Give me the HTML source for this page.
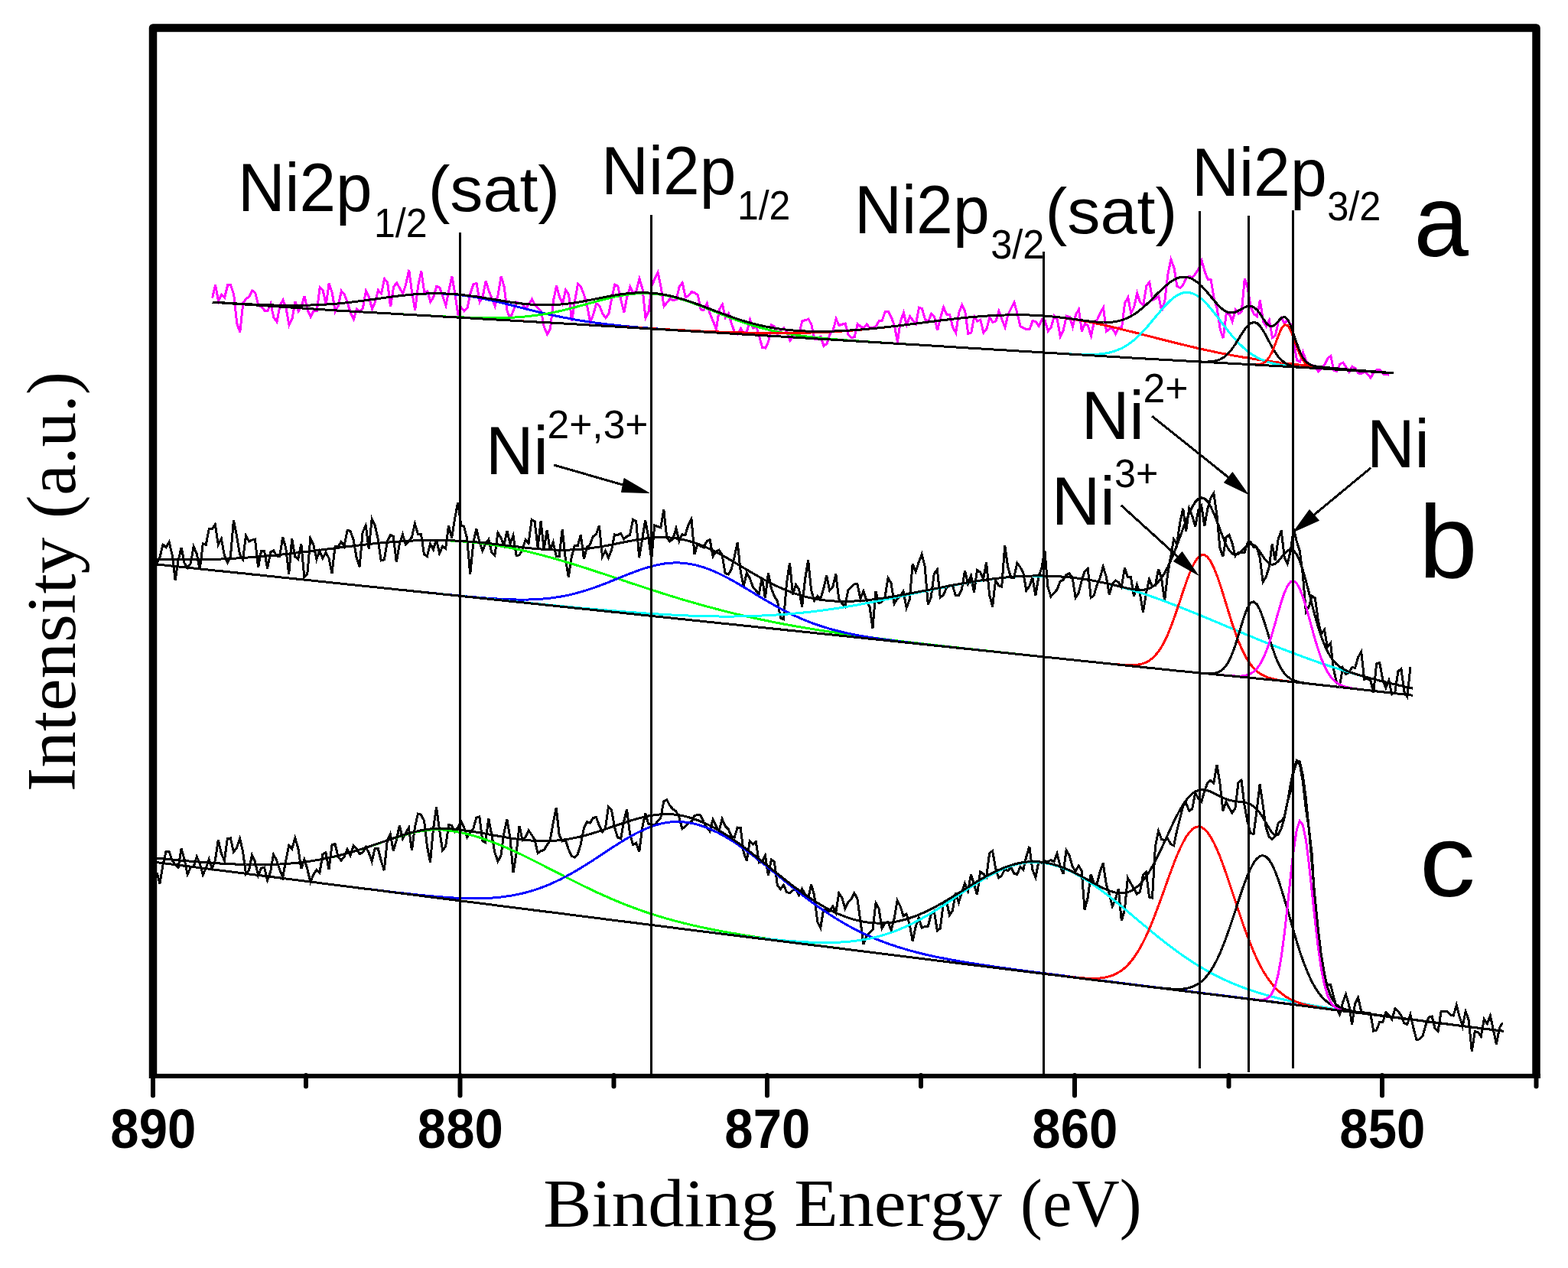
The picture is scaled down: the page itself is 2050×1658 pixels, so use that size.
<!DOCTYPE html>
<html><head><meta charset="utf-8"><style>
html,body{margin:0;padding:0;background:#fff;width:2050px;height:1658px;overflow:hidden}
svg{display:block}
</style></head><body>
<svg width="2050" height="1658" viewBox="0 0 2050 1658">
<rect x="0" y="0" width="2050" height="1658" fill="#fff"/>
<path d="M277.6,389.6 L281.6,372.7 L285.6,394.0 L289.7,385.0 L293.7,389.0 L297.7,372.7 L301.7,372.8 L305.7,385.2 L309.7,422.8 L313.8,434.4 L317.8,396.1 L321.8,390.9 L325.8,387.9 L329.8,380.0 L333.8,383.0 L337.9,399.3 L341.9,401.0 L345.9,406.1 L349.9,406.7 L353.9,397.1 L357.9,415.4 L362.0,420.9 L366.0,399.6 L370.0,392.1 L374.0,403.0 L378.0,425.1 L382.0,416.7 L386.1,394.0 L390.1,407.2 L394.1,400.5 L398.1,387.0 L402.1,405.3 L406.1,414.2 L410.2,405.9 L414.2,406.7 L418.2,376.0 L422.2,379.5 L426.2,398.7 L430.2,370.3 L434.3,383.0 L438.3,407.5 L442.3,399.6 L446.3,380.5 L450.3,385.0 L454.3,395.4 L458.4,409.5 L462.4,417.6 L466.4,404.2 L470.4,407.6 L474.4,402.9 L478.4,380.5 L482.5,388.4 L486.5,404.1 L490.5,395.0 L494.5,379.6 L498.5,383.9 L502.6,364.7 L506.6,369.1 L510.6,401.2 L514.6,375.2 L518.6,369.9 L522.6,376.8 L526.7,384.0 L530.7,371.8 L534.7,352.8 L538.7,382.8 L542.7,405.5 L546.7,373.4 L550.8,354.7 L554.8,382.2 L558.8,380.8 L562.8,394.7 L566.8,388.2 L570.8,374.4 L574.9,376.0 L578.9,387.8 L582.9,399.4 L586.9,379.8 L590.9,361.1 L594.9,384.3 L599.0,412.1 L603.0,402.1 L607.0,406.8 L611.0,402.7 L615.0,383.6 L619.0,371.5 L623.1,370.4 L627.1,394.8 L631.1,388.2 L635.1,367.4 L639.1,380.5 L643.1,390.1 L647.2,400.4 L651.2,385.2 L655.2,361.2 L659.2,375.3 L663.2,407.3 L667.2,415.9 L671.3,405.9 L675.3,395.1 L679.3,396.4 L683.3,397.6 L687.3,403.5 L691.4,398.1 L695.4,391.3 L699.4,398.7 L703.4,403.2 L707.4,406.8 L711.4,427.7 L715.5,437.1 L719.5,430.0 L723.5,393.0 L727.5,373.6 L731.5,388.2 L735.5,397.0 L739.6,379.0 L743.6,385.3 L747.6,420.0 L751.6,393.3 L755.6,371.0 L759.6,375.5 L763.7,385.7 L767.7,400.3 L771.7,421.2 L775.7,411.4 L779.7,396.8 L783.7,399.9 L787.8,409.9 L791.8,415.7 L795.8,410.7 L799.8,390.0 L803.8,372.1 L807.8,374.3 L811.9,392.5 L815.9,408.4 L819.9,387.8 L823.9,375.0 L827.9,383.5 L831.9,380.5 L836.0,364.5 L840.0,377.7 L844.0,415.8 L848.0,407.8 L852.0,374.2 L856.0,364.3 L860.1,356.1 L864.1,375.6 L868.1,400.5 L872.1,395.5 L876.1,390.7 L880.1,392.8 L884.2,391.6 L888.2,374.9 L892.2,369.7 L896.2,388.7 L900.2,386.5 L904.3,381.7 L908.3,382.8 L912.3,385.9 L916.3,404.8 L920.3,405.5 L924.3,396.7 L928.4,410.7 L932.4,420.2 L936.4,430.4 L940.4,404.7 L944.4,398.0 L948.4,415.2 L952.5,409.7 L956.5,423.8 L960.5,434.1 L964.5,437.2 L968.5,429.6 L972.5,436.1 L976.6,433.1 L980.6,418.2 L984.6,429.1 L988.6,426.4 L992.6,439.5 L996.6,454.3 L1000.7,455.2 L1004.7,446.6 L1008.7,424.8 L1012.7,427.2 L1016.7,437.5 L1020.7,431.5 L1024.8,429.0 L1028.8,434.4 L1032.8,445.3 L1036.8,440.2 L1040.8,435.6 L1044.8,436.0 L1048.9,419.2 L1052.9,418.9 L1056.9,417.1 L1060.9,424.4 L1064.9,443.3 L1068.9,443.5 L1073.0,440.1 L1077.0,452.4 L1081.0,449.4 L1085.0,437.1 L1089.0,432.4 L1093.1,417.0 L1097.1,425.6 L1101.1,424.1 L1105.1,423.0 L1109.1,437.6 L1113.1,441.4 L1117.2,440.7 L1121.2,423.6 L1125.2,427.0 L1129.2,428.9 L1133.2,423.9 L1137.2,428.7 L1141.3,428.7 L1145.3,426.3 L1149.3,419.8 L1153.3,419.4 L1157.3,407.4 L1161.3,407.2 L1165.4,415.0 L1169.4,425.8 L1173.4,447.3 L1177.4,419.5 L1181.4,408.9 L1185.4,424.8 L1189.5,413.5 L1193.5,418.9 L1197.5,423.7 L1201.5,402.3 L1205.5,403.5 L1209.5,417.8 L1213.6,420.7 L1217.6,410.2 L1221.6,414.3 L1225.6,432.1 L1229.6,415.2 L1233.6,401.7 L1237.7,411.2 L1241.7,411.5 L1245.7,428.3 L1249.7,435.2 L1253.7,408.7 L1257.7,398.8 L1261.8,407.4 L1265.8,436.4 L1269.8,434.9 L1273.8,413.8 L1277.8,420.1 L1281.8,418.2 L1285.9,435.0 L1289.9,430.0 L1293.9,414.9 L1297.9,421.4 L1301.9,420.0 L1306.0,406.8 L1310.0,417.8 L1314.0,428.0 L1318.0,411.0 L1322.0,403.0 L1326.0,395.6 L1330.1,410.1 L1334.1,426.9 L1338.1,428.7 L1342.1,431.0 L1346.1,430.7 L1350.1,419.4 L1354.2,420.8 L1358.2,426.4 L1362.2,417.6 L1366.2,419.1 L1370.2,432.8 L1374.2,428.4 L1378.3,413.0 L1382.3,418.0 L1386.3,440.0 L1390.3,431.6 L1394.3,413.1 L1398.3,414.4 L1402.4,427.3 L1406.4,411.9 L1410.4,404.4 L1414.4,433.3 L1418.4,422.8 L1422.4,426.1 L1426.5,439.1 L1430.5,420.7 L1434.5,418.0 L1438.5,409.2 L1442.5,402.3 L1446.5,433.2 L1450.6,430.0 L1454.6,429.9 L1458.6,436.8 L1462.6,428.2 L1466.6,428.3 L1470.6,396.5 L1474.7,388.7 L1478.7,409.7 L1482.7,401.6 L1486.7,383.5 L1490.7,395.3 L1494.8,398.9 L1498.8,373.7 L1502.8,369.0 L1506.8,392.3 L1510.8,390.6 L1514.8,387.5 L1518.9,406.5 L1522.9,392.8 L1526.9,358.4 L1530.9,339.4 L1534.9,349.8 L1538.9,374.2 L1543.0,376.5 L1547.0,372.0 L1551.0,363.5 L1555.0,361.4 L1559.0,362.8 L1563.0,357.8 L1567.1,351.4 L1571.1,340.9 L1575.1,355.0 L1579.1,365.3 L1583.1,365.3 L1587.1,389.7 L1591.2,403.3 L1595.2,430.4 L1599.2,442.2 L1603.2,410.5 L1607.2,410.3 L1611.2,420.2 L1615.3,404.8 L1619.3,410.4 L1623.3,407.3 L1627.3,364.1 L1631.3,377.1 L1635.3,402.1 L1639.4,410.7 L1643.4,413.6 L1647.4,392.4 L1651.4,420.1 L1655.4,426.7 L1659.4,418.4 L1663.5,441.5 L1667.5,438.4 L1671.5,420.0 L1675.5,415.6 L1679.5,423.2 L1683.5,418.1 L1687.6,424.4 L1691.6,447.4 L1695.6,471.1 L1699.6,473.2 L1703.6,460.7 L1707.7,472.2 L1711.7,477.9 L1715.7,477.4 L1719.7,480.9 L1723.7,485.6 L1727.7,482.3 L1731.8,476.9 L1735.8,468.7 L1739.8,465.6 L1743.8,484.3 L1747.8,485.6 L1751.8,476.1 L1755.9,474.2 L1759.9,480.1 L1763.9,486.4 L1767.9,479.3 L1771.9,481.7 L1775.9,488.0 L1780.0,488.7 L1784.0,485.3 L1788.0,489.5 L1792.0,494.0 L1796.0,486.9 L1800.0,483.6 L1804.1,483.5 L1808.1,489.0 L1812.1,489.2 L1816.1,490.3" fill="none" stroke="#ff00ff" stroke-width="3" shape-rendering="crispEdges"/>
<path d="M277.6,395.1 L281.6,395.3 L285.6,395.6 L289.7,395.8 L293.7,396.0 L297.7,396.3 L301.7,396.5 L305.7,396.7 L309.7,397.0 L313.8,397.2 L317.8,397.4 L321.8,397.6 L325.8,397.8 L329.8,398.0 L333.8,398.2 L337.9,398.3 L341.9,398.5 L345.9,398.6 L349.9,398.8 L353.9,398.9 L357.9,399.0 L362.0,399.1 L366.0,399.2 L370.0,399.3 L374.0,399.3 L378.0,399.4 L382.0,399.4 L386.1,399.4 L390.1,399.3 L394.1,399.3 L398.1,399.2 L402.1,399.1 L406.1,399.0 L410.2,398.9 L414.2,398.7 L418.2,398.5 L422.2,398.3 L426.2,398.1 L430.2,397.8 L434.3,397.6 L438.3,397.2 L442.3,396.9 L446.3,396.5 L450.3,396.1 L454.3,395.6 L458.4,395.2 L462.4,394.7 L466.4,394.2 L470.4,393.7 L474.4,393.2 L478.4,392.6 L482.5,392.1 L486.5,391.5 L490.5,391.0 L494.5,390.4 L498.5,389.9 L502.6,389.3 L506.6,388.8 L510.6,388.3 L514.6,387.8 L518.6,387.3 L522.6,386.8 L526.7,386.3 L530.7,385.9 L534.7,385.5 L538.7,385.2 L542.7,384.8 L546.7,384.6 L550.8,384.3 L554.8,384.1 L558.8,384.0 L562.8,383.9 L566.8,383.8 L570.8,383.8 L574.9,383.9 L578.9,384.0 L582.9,384.2 L586.9,384.4 L590.9,384.7 L594.9,385.1 L599.0,385.4 L603.0,385.9 L607.0,386.4 L611.0,387.0 L615.0,387.6 L619.0,388.2 L623.1,388.9 L627.1,389.6 L631.1,390.4 L635.1,391.2 L639.1,392.1 L643.1,393.0 L647.2,393.9 L651.2,394.8 L655.2,395.8 L659.2,396.7 L663.2,397.7 L667.2,398.7 L671.3,399.7 L675.3,400.8 L679.3,401.8 L683.3,402.8 L687.3,403.8 L691.4,404.8 L695.4,405.8 L699.4,406.8 L703.4,407.8 L707.4,408.7 L711.4,409.7 L715.5,410.6 L719.5,411.5 L723.5,412.4 L727.5,413.2 L731.5,414.0 L735.5,414.9 L739.6,415.6 L743.6,416.4 L747.6,417.1 L751.6,417.9 L755.6,418.6 L759.6,419.2 L763.7,419.9 L767.7,420.5 L771.7,421.1 L775.7,421.7 L779.7,422.2 L783.7,422.8 L787.8,423.3 L791.8,423.8 L795.8,424.2 L799.8,424.7 L803.8,425.1 L807.8,425.6 L811.9,426.0 L815.9,426.4 L819.9,426.8 L823.9,427.1 L827.9,427.5 L831.9,427.8 L836.0,428.2 L840.0,428.5 L844.0,428.8 L848.0,429.1 L852.0,429.4 L856.0,429.7 L860.1,430.0 L864.1,430.3 L868.1,430.6 L872.1,430.9 L876.1,431.1 L880.1,431.4 L884.2,431.7 L888.2,431.9 L892.2,432.2 L896.2,432.5 L900.2,432.7 L904.3,433.0 L908.3,433.2 L912.3,433.5 L916.3,433.7 L920.3,434.0 L924.3,434.2 L928.4,434.5 L932.4,434.7 L936.4,435.0 L940.4,435.2 L944.4,435.4 L948.4,435.7 L952.5,435.9 L956.5,436.2 L960.5,436.4 L964.5,436.7 L968.5,436.9 L972.5,437.1 L976.6,437.4 L980.6,437.6 L984.6,437.9 L988.6,438.1 L992.6,438.4 L996.6,438.6 L1000.7,438.8 L1004.7,439.1 L1008.7,439.3 L1012.7,439.6 L1016.7,439.8 L1020.7,440.0 L1024.8,440.3 L1028.8,440.5 L1032.8,440.8 L1036.8,441.0 L1040.8,441.3 L1044.8,441.5 L1048.9,441.7 L1052.9,442.0 L1056.9,442.2 L1060.9,442.5 L1064.9,442.7 L1068.9,443.0 L1073.0,443.2 L1077.0,443.5 L1081.0,443.7 L1085.0,443.9 L1089.0,444.2 L1093.1,444.4 L1097.1,444.7 L1101.1,444.9 L1105.1,445.2 L1109.1,445.4 L1113.1,445.7 L1117.2,445.9 L1121.2,446.1 L1125.2,446.4 L1129.2,446.6 L1133.2,446.9 L1137.2,447.1 L1141.3,447.4 L1145.3,447.6 L1149.3,447.9 L1153.3,448.1 L1157.3,448.3 L1161.3,448.6 L1165.4,448.8 L1169.4,449.1 L1173.4,449.3 L1177.4,449.6 L1181.4,449.8 L1185.4,450.1 L1189.5,450.3 L1193.5,450.5 L1197.5,450.8 L1201.5,451.0 L1205.5,451.3 L1209.5,451.5 L1213.6,451.8 L1217.6,452.0 L1221.6,452.3 L1225.6,452.5 L1229.6,452.8 L1233.6,453.0 L1237.7,453.2 L1241.7,453.5 L1245.7,453.7 L1249.7,454.0 L1253.7,454.2 L1257.7,454.5 L1261.8,454.7 L1265.8,455.0 L1269.8,455.2 L1273.8,455.4 L1277.8,455.7 L1281.8,455.9 L1285.9,456.2 L1289.9,456.4 L1293.9,456.7 L1297.9,456.9 L1301.9,457.2 L1306.0,457.4 L1310.0,457.6 L1314.0,457.9 L1318.0,458.1 L1322.0,458.4 L1326.0,458.6 L1330.1,458.9 L1334.1,459.1 L1338.1,459.4 L1342.1,459.6 L1346.1,459.8 L1350.1,460.1 L1354.2,460.3 L1358.2,460.6 L1362.2,460.8 L1366.2,461.1 L1370.2,461.3 L1374.2,461.6 L1378.3,461.8 L1382.3,462.0 L1386.3,462.3 L1390.3,462.5 L1394.3,462.8 L1398.3,463.0 L1402.4,463.3 L1406.4,463.5 L1410.4,463.8 L1414.4,464.0 L1418.4,464.2 L1422.4,464.5 L1426.5,464.7 L1430.5,465.0 L1434.5,465.2 L1438.5,465.5 L1442.5,465.7 L1446.5,466.0 L1450.6,466.2 L1454.6,466.5 L1458.6,466.7 L1462.6,466.9 L1466.6,467.2 L1470.6,467.4 L1474.7,467.7 L1478.7,467.9 L1482.7,468.2 L1486.7,468.4 L1490.7,468.6 L1494.8,468.8 L1498.8,469.1 L1502.8,469.3 L1506.8,469.5 L1510.8,469.7 L1514.8,470.0 L1518.9,470.2 L1522.9,470.4 L1526.9,470.6 L1530.9,470.9 L1534.9,471.1 L1538.9,471.3 L1543.0,471.5 L1547.0,471.8 L1551.0,472.0 L1555.0,472.2 L1559.0,472.4 L1563.0,472.7 L1567.1,472.9 L1571.1,473.1 L1575.1,473.3 L1579.1,473.6 L1583.1,473.8 L1587.1,474.0 L1591.2,474.2 L1595.2,474.4 L1599.2,474.7 L1603.2,474.9 L1607.2,475.1 L1611.2,475.3 L1615.3,475.6 L1619.3,475.8 L1623.3,476.0 L1627.3,476.2 L1631.3,476.5 L1635.3,476.7 L1639.4,476.9 L1643.4,477.1 L1647.4,477.4 L1651.4,477.6 L1655.4,477.8 L1659.4,478.0 L1663.5,478.3 L1667.5,478.5 L1671.5,478.7 L1675.5,478.9 L1679.5,479.2 L1683.5,479.4 L1687.6,479.6 L1691.6,479.8 L1695.6,480.1 L1699.6,480.3 L1703.6,480.5 L1707.7,480.7 L1711.7,481.0 L1715.7,481.2 L1719.7,481.4 L1723.7,481.6 L1727.7,481.9 L1731.8,482.1 L1735.8,482.4 L1739.8,482.6 L1743.8,482.9 L1747.8,483.2 L1751.8,483.4 L1755.9,483.7 L1759.9,483.9 L1763.9,484.2 L1767.9,484.5 L1771.9,484.7 L1775.9,485.0 L1780.0,485.3 L1784.0,485.5 L1788.0,485.8 L1792.0,486.0 L1796.0,486.3 L1800.0,486.6 L1804.1,486.8 L1808.1,487.1 L1812.1,487.4 L1816.1,487.6 L1820.1,487.9 L1822.0,488.0" fill="none" stroke="#0000ff" stroke-width="3" shape-rendering="crispEdges"/>
<path d="M277.6,395.2 L281.6,395.5 L285.6,395.7 L289.7,396.0 L293.7,396.3 L297.7,396.5 L301.7,396.8 L305.7,397.1 L309.7,397.3 L313.8,397.6 L317.8,397.9 L321.8,398.1 L325.8,398.4 L329.8,398.7 L333.8,398.9 L337.9,399.2 L341.9,399.5 L345.9,399.7 L349.9,400.0 L353.9,400.3 L357.9,400.5 L362.0,400.8 L366.0,401.1 L370.0,401.3 L374.0,401.6 L378.0,401.9 L382.0,402.1 L386.1,402.4 L390.1,402.7 L394.1,402.9 L398.1,403.2 L402.1,403.5 L406.1,403.7 L410.2,404.0 L414.2,404.3 L418.2,404.5 L422.2,404.8 L426.2,405.1 L430.2,405.4 L434.3,405.6 L438.3,405.9 L442.3,406.1 L446.3,406.4 L450.3,406.6 L454.3,406.8 L458.4,407.1 L462.4,407.3 L466.4,407.5 L470.4,407.7 L474.4,408.0 L478.4,408.2 L482.5,408.4 L486.5,408.7 L490.5,408.9 L494.5,409.1 L498.5,409.4 L502.6,409.6 L506.6,409.8 L510.6,410.0 L514.6,410.3 L518.6,410.5 L522.6,410.7 L526.7,410.9 L530.7,411.2 L534.7,411.4 L538.7,411.6 L542.7,411.9 L546.7,412.1 L550.8,412.3 L554.8,412.5 L558.8,412.7 L562.8,412.9 L566.8,413.2 L570.8,413.4 L574.9,413.6 L578.9,413.8 L582.9,414.0 L586.9,414.2 L590.9,414.4 L594.9,414.5 L599.0,414.7 L603.0,414.9 L607.0,415.0 L611.0,415.2 L615.0,415.3 L619.0,415.4 L623.1,415.5 L627.1,415.6 L631.1,415.7 L635.1,415.7 L639.1,415.8 L643.1,415.8 L647.2,415.8 L651.2,415.7 L655.2,415.7 L659.2,415.6 L663.2,415.5 L667.2,415.3 L671.3,415.1 L675.3,414.9 L679.3,414.6 L683.3,414.3 L687.3,413.9 L691.4,413.5 L695.4,413.0 L699.4,412.5 L703.4,412.0 L707.4,411.4 L711.4,410.8 L715.5,410.1 L719.5,409.3 L723.5,408.5 L727.5,407.7 L731.5,406.8 L735.5,405.9 L739.6,404.9 L743.6,403.9 L747.6,402.9 L751.6,401.8 L755.6,400.7 L759.6,399.6 L763.7,398.5 L767.7,397.4 L771.7,396.3 L775.7,395.2 L779.7,394.1 L783.7,393.0 L787.8,391.9 L791.8,390.9 L795.8,389.9 L799.8,388.9 L803.8,388.0 L807.8,387.2 L811.9,386.5 L815.9,385.8 L819.9,385.2 L823.9,384.7 L827.9,384.3 L831.9,383.9 L836.0,383.7 L840.0,383.6 L844.0,383.6 L848.0,383.7 L852.0,383.9 L856.0,384.2 L860.1,384.7 L864.1,385.2 L868.1,385.9 L872.1,386.6 L876.1,387.5 L880.1,388.4 L884.2,389.5 L888.2,390.6 L892.2,391.8 L896.2,393.1 L900.2,394.4 L904.3,395.8 L908.3,397.3 L912.3,398.7 L916.3,400.3 L920.3,401.8 L924.3,403.4 L928.4,405.0 L932.4,406.6 L936.4,408.2 L940.4,409.8 L944.4,411.4 L948.4,413.0 L952.5,414.6 L956.5,416.1 L960.5,417.6 L964.5,419.0 L968.5,420.4 L972.5,421.8 L976.6,423.1 L980.6,424.4 L984.6,425.7 L988.6,426.9 L992.6,428.0 L996.6,429.1 L1000.7,430.1 L1004.7,431.1 L1008.7,432.1 L1012.7,433.0 L1016.7,433.8 L1020.7,434.6 L1024.8,435.4 L1028.8,436.1 L1032.8,436.8 L1036.8,437.5 L1040.8,438.1 L1044.8,438.7 L1048.9,439.2 L1052.9,439.8 L1056.9,440.3 L1060.9,440.7 L1064.9,441.2 L1068.9,441.6 L1073.0,442.0 L1077.0,442.4 L1081.0,442.8 L1085.0,443.2 L1089.0,443.5 L1093.1,443.8 L1097.1,444.2 L1101.1,444.5 L1105.1,444.8 L1109.1,445.1 L1113.1,445.4 L1117.2,445.7 L1121.2,445.9 L1125.2,446.2 L1129.2,446.5 L1133.2,446.8 L1137.2,447.0 L1141.3,447.3 L1145.3,447.5 L1149.3,447.8 L1153.3,448.0 L1157.3,448.3 L1161.3,448.6 L1165.4,448.8 L1169.4,449.1 L1173.4,449.3 L1177.4,449.6 L1181.4,449.8 L1185.4,450.0 L1189.5,450.3 L1193.5,450.5 L1197.5,450.8 L1201.5,451.0 L1205.5,451.3 L1209.5,451.5 L1213.6,451.8 L1217.6,452.0 L1221.6,452.3 L1225.6,452.5 L1229.6,452.7 L1233.6,453.0 L1237.7,453.2 L1241.7,453.5 L1245.7,453.7 L1249.7,454.0 L1253.7,454.2 L1257.7,454.5 L1261.8,454.7 L1265.8,455.0 L1269.8,455.2 L1273.8,455.4 L1277.8,455.7 L1281.8,455.9 L1285.9,456.2 L1289.9,456.4 L1293.9,456.7 L1297.9,456.9 L1301.9,457.2 L1306.0,457.4 L1310.0,457.6 L1314.0,457.9 L1318.0,458.1 L1322.0,458.4 L1326.0,458.6 L1330.1,458.9 L1334.1,459.1 L1338.1,459.4 L1342.1,459.6 L1346.1,459.8 L1350.1,460.1 L1354.2,460.3 L1358.2,460.6 L1362.2,460.8 L1366.2,461.1 L1370.2,461.3 L1374.2,461.6 L1378.3,461.8 L1382.3,462.0 L1386.3,462.3 L1390.3,462.5 L1394.3,462.8 L1398.3,463.0 L1402.4,463.3 L1406.4,463.5 L1410.4,463.8 L1414.4,464.0 L1418.4,464.2 L1422.4,464.5 L1426.5,464.7 L1430.5,465.0 L1434.5,465.2 L1438.5,465.5 L1442.5,465.7 L1446.5,466.0 L1450.6,466.2 L1454.6,466.5 L1458.6,466.7 L1462.6,466.9 L1466.6,467.2 L1470.6,467.4 L1474.7,467.7 L1478.7,467.9 L1482.7,468.2 L1486.7,468.4 L1490.7,468.6 L1494.8,468.8 L1498.8,469.1 L1502.8,469.3 L1506.8,469.5 L1510.8,469.7 L1514.8,470.0 L1518.9,470.2 L1522.9,470.4 L1526.9,470.6 L1530.9,470.9 L1534.9,471.1 L1538.9,471.3 L1543.0,471.5 L1547.0,471.8 L1551.0,472.0 L1555.0,472.2 L1559.0,472.4 L1563.0,472.7 L1567.1,472.9 L1571.1,473.1 L1575.1,473.3 L1579.1,473.6 L1583.1,473.8 L1587.1,474.0 L1591.2,474.2 L1595.2,474.4 L1599.2,474.7 L1603.2,474.9 L1607.2,475.1 L1611.2,475.3 L1615.3,475.6 L1619.3,475.8 L1623.3,476.0 L1627.3,476.2 L1631.3,476.5 L1635.3,476.7 L1639.4,476.9 L1643.4,477.1 L1647.4,477.4 L1651.4,477.6 L1655.4,477.8 L1659.4,478.0 L1663.5,478.3 L1667.5,478.5 L1671.5,478.7 L1675.5,478.9 L1679.5,479.2 L1683.5,479.4 L1687.6,479.6 L1691.6,479.8 L1695.6,480.1 L1699.6,480.3 L1703.6,480.5 L1707.7,480.7 L1711.7,481.0 L1715.7,481.2 L1719.7,481.4 L1723.7,481.6 L1727.7,481.9 L1731.8,482.1 L1735.8,482.4 L1739.8,482.6 L1743.8,482.9 L1747.8,483.2 L1751.8,483.4 L1755.9,483.7 L1759.9,483.9 L1763.9,484.2 L1767.9,484.5 L1771.9,484.7 L1775.9,485.0 L1780.0,485.3 L1784.0,485.5 L1788.0,485.8 L1792.0,486.0 L1796.0,486.3 L1800.0,486.6 L1804.1,486.8 L1808.1,487.1 L1812.1,487.4 L1816.1,487.6 L1820.1,487.9 L1822.0,488.0" fill="none" stroke="#00ff00" stroke-width="3" shape-rendering="crispEdges"/>
<path d="M277.6,395.2 L281.6,395.5 L285.6,395.7 L289.7,396.0 L293.7,396.3 L297.7,396.5 L301.7,396.8 L305.7,397.1 L309.7,397.3 L313.8,397.6 L317.8,397.9 L321.8,398.1 L325.8,398.4 L329.8,398.7 L333.8,398.9 L337.9,399.2 L341.9,399.5 L345.9,399.7 L349.9,400.0 L353.9,400.3 L357.9,400.5 L362.0,400.8 L366.0,401.1 L370.0,401.3 L374.0,401.6 L378.0,401.9 L382.0,402.1 L386.1,402.4 L390.1,402.7 L394.1,402.9 L398.1,403.2 L402.1,403.5 L406.1,403.7 L410.2,404.0 L414.2,404.3 L418.2,404.5 L422.2,404.8 L426.2,405.1 L430.2,405.4 L434.3,405.6 L438.3,405.9 L442.3,406.1 L446.3,406.4 L450.3,406.6 L454.3,406.8 L458.4,407.1 L462.4,407.3 L466.4,407.5 L470.4,407.7 L474.4,408.0 L478.4,408.2 L482.5,408.4 L486.5,408.7 L490.5,408.9 L494.5,409.1 L498.5,409.4 L502.6,409.6 L506.6,409.8 L510.6,410.0 L514.6,410.3 L518.6,410.5 L522.6,410.7 L526.7,411.0 L530.7,411.2 L534.7,411.4 L538.7,411.7 L542.7,411.9 L546.7,412.1 L550.8,412.3 L554.8,412.6 L558.8,412.8 L562.8,413.0 L566.8,413.3 L570.8,413.5 L574.9,413.7 L578.9,414.0 L582.9,414.2 L586.9,414.4 L590.9,414.7 L594.9,414.9 L599.0,415.1 L603.0,415.3 L607.0,415.6 L611.0,415.8 L615.0,416.0 L619.0,416.3 L623.1,416.5 L627.1,416.7 L631.1,417.0 L635.1,417.2 L639.1,417.4 L643.1,417.6 L647.2,417.9 L651.2,418.1 L655.2,418.3 L659.2,418.6 L663.2,418.8 L667.2,419.0 L671.3,419.3 L675.3,419.5 L679.3,419.7 L683.3,419.9 L687.3,420.2 L691.4,420.4 L695.4,420.6 L699.4,420.9 L703.4,421.1 L707.4,421.3 L711.4,421.6 L715.5,421.8 L719.5,422.0 L723.5,422.2 L727.5,422.5 L731.5,422.7 L735.5,422.9 L739.6,423.2 L743.6,423.4 L747.6,423.6 L751.6,423.9 L755.6,424.1 L759.6,424.4 L763.7,424.6 L767.7,424.8 L771.7,425.1 L775.7,425.3 L779.7,425.5 L783.7,425.8 L787.8,426.0 L791.8,426.2 L795.8,426.5 L799.8,426.7 L803.8,427.0 L807.8,427.2 L811.9,427.4 L815.9,427.7 L819.9,427.9 L823.9,428.1 L827.9,428.3 L831.9,428.6 L836.0,428.8 L840.0,429.0 L844.0,429.3 L848.0,429.5 L852.0,429.7 L856.0,429.9 L860.1,430.1 L864.1,430.4 L868.1,430.6 L872.1,430.8 L876.1,431.0 L880.1,431.2 L884.2,431.4 L888.2,431.6 L892.2,431.8 L896.2,432.0 L900.2,432.2 L904.3,432.4 L908.3,432.6 L912.3,432.8 L916.3,433.0 L920.3,433.2 L924.3,433.3 L928.4,433.5 L932.4,433.7 L936.4,433.8 L940.4,434.0 L944.4,434.1 L948.4,434.3 L952.5,434.4 L956.5,434.6 L960.5,434.7 L964.5,434.8 L968.5,434.9 L972.5,435.0 L976.6,435.1 L980.6,435.2 L984.6,435.3 L988.6,435.4 L992.6,435.5 L996.6,435.5 L1000.7,435.6 L1004.7,435.6 L1008.7,435.6 L1012.7,435.7 L1016.7,435.7 L1020.7,435.7 L1024.8,435.7 L1028.8,435.6 L1032.8,435.6 L1036.8,435.5 L1040.8,435.5 L1044.8,435.4 L1048.9,435.3 L1052.9,435.2 L1056.9,435.1 L1060.9,435.0 L1064.9,434.9 L1068.9,434.7 L1073.0,434.6 L1077.0,434.4 L1081.0,434.2 L1085.0,434.0 L1089.0,433.8 L1093.1,433.5 L1097.1,433.3 L1101.1,433.0 L1105.1,432.7 L1109.1,432.5 L1113.1,432.2 L1117.2,431.8 L1121.2,431.5 L1125.2,431.2 L1129.2,430.8 L1133.2,430.4 L1137.2,430.0 L1141.3,429.6 L1145.3,429.2 L1149.3,428.8 L1153.3,428.4 L1157.3,427.9 L1161.3,427.5 L1165.4,427.0 L1169.4,426.5 L1173.4,426.1 L1177.4,425.6 L1181.4,425.1 L1185.4,424.6 L1189.5,424.1 L1193.5,423.6 L1197.5,423.1 L1201.5,422.6 L1205.5,422.1 L1209.5,421.6 L1213.6,421.1 L1217.6,420.5 L1221.6,420.0 L1225.6,419.5 L1229.6,419.1 L1233.6,418.6 L1237.7,418.1 L1241.7,417.6 L1245.7,417.2 L1249.7,416.7 L1253.7,416.3 L1257.7,415.8 L1261.8,415.4 L1265.8,415.0 L1269.8,414.7 L1273.8,414.3 L1277.8,414.0 L1281.8,413.7 L1285.9,413.4 L1289.9,413.1 L1293.9,412.8 L1297.9,412.6 L1301.9,412.4 L1306.0,412.2 L1310.0,412.1 L1314.0,412.0 L1318.0,411.9 L1322.0,411.8 L1326.0,411.8 L1330.1,411.8 L1334.1,411.8 L1338.1,411.8 L1342.1,411.9 L1346.1,412.0 L1350.1,412.2 L1354.2,412.4 L1358.2,412.6 L1362.2,412.8 L1366.2,413.1 L1370.2,413.4 L1374.2,413.8 L1378.3,414.2 L1382.3,414.6 L1386.3,415.1 L1390.3,415.6 L1394.3,416.1 L1398.3,416.7 L1402.4,417.3 L1406.4,417.9 L1410.4,418.6 L1414.4,419.3 L1418.4,420.0 L1422.4,420.7 L1426.5,421.5 L1430.5,422.3 L1434.5,423.2 L1438.5,424.0 L1442.5,424.9 L1446.5,425.8 L1450.6,426.7 L1454.6,427.7 L1458.6,428.6 L1462.6,429.6 L1466.6,430.6 L1470.6,431.6 L1474.7,432.6 L1478.7,433.6 L1482.7,434.6 L1486.7,435.6 L1490.7,436.6 L1494.8,437.7 L1498.8,438.7 L1502.8,439.7 L1506.8,440.7 L1510.8,441.8 L1514.8,442.8 L1518.9,443.8 L1522.9,444.9 L1526.9,445.9 L1530.9,446.9 L1534.9,447.9 L1538.9,448.9 L1543.0,449.9 L1547.0,450.8 L1551.0,451.8 L1555.0,452.8 L1559.0,453.7 L1563.0,454.6 L1567.1,455.6 L1571.1,456.5 L1575.1,457.4 L1579.1,458.2 L1583.1,459.1 L1587.1,459.9 L1591.2,460.8 L1595.2,461.6 L1599.2,462.4 L1603.2,463.1 L1607.2,463.9 L1611.2,464.7 L1615.3,465.4 L1619.3,466.1 L1623.3,466.8 L1627.3,467.5 L1631.3,468.1 L1635.3,468.8 L1639.4,469.4 L1643.4,470.0 L1647.4,470.6 L1651.4,471.2 L1655.4,471.8 L1659.4,472.4 L1663.5,472.9 L1667.5,473.4 L1671.5,473.9 L1675.5,474.5 L1679.5,474.9 L1683.5,475.4 L1687.6,475.9 L1691.6,476.3 L1695.6,476.8 L1699.6,477.2 L1703.6,477.6 L1707.7,478.0 L1711.7,478.4 L1715.7,478.8 L1719.7,479.2 L1723.7,479.6 L1727.7,479.9 L1731.8,480.3 L1735.8,480.7 L1739.8,481.1 L1743.8,481.5 L1747.8,481.8 L1751.8,482.2 L1755.9,482.5 L1759.9,482.9 L1763.9,483.2 L1767.9,483.6 L1771.9,483.9 L1775.9,484.2 L1780.0,484.5 L1784.0,484.9 L1788.0,485.2 L1792.0,485.5 L1796.0,485.8 L1800.0,486.1 L1804.1,486.4 L1808.1,486.7 L1812.1,487.0 L1816.1,487.3 L1820.1,487.6 L1822.0,487.7" fill="none" stroke="#ff0000" stroke-width="3" shape-rendering="crispEdges"/>
<path d="M277.6,395.2 L281.6,395.5 L285.6,395.7 L289.7,396.0 L293.7,396.3 L297.7,396.5 L301.7,396.8 L305.7,397.1 L309.7,397.3 L313.8,397.6 L317.8,397.9 L321.8,398.1 L325.8,398.4 L329.8,398.7 L333.8,398.9 L337.9,399.2 L341.9,399.5 L345.9,399.7 L349.9,400.0 L353.9,400.3 L357.9,400.5 L362.0,400.8 L366.0,401.1 L370.0,401.3 L374.0,401.6 L378.0,401.9 L382.0,402.1 L386.1,402.4 L390.1,402.7 L394.1,402.9 L398.1,403.2 L402.1,403.5 L406.1,403.7 L410.2,404.0 L414.2,404.3 L418.2,404.5 L422.2,404.8 L426.2,405.1 L430.2,405.4 L434.3,405.6 L438.3,405.9 L442.3,406.1 L446.3,406.4 L450.3,406.6 L454.3,406.8 L458.4,407.1 L462.4,407.3 L466.4,407.5 L470.4,407.7 L474.4,408.0 L478.4,408.2 L482.5,408.4 L486.5,408.7 L490.5,408.9 L494.5,409.1 L498.5,409.4 L502.6,409.6 L506.6,409.8 L510.6,410.0 L514.6,410.3 L518.6,410.5 L522.6,410.7 L526.7,411.0 L530.7,411.2 L534.7,411.4 L538.7,411.7 L542.7,411.9 L546.7,412.1 L550.8,412.4 L554.8,412.6 L558.8,412.8 L562.8,413.0 L566.8,413.3 L570.8,413.5 L574.9,413.7 L578.9,414.0 L582.9,414.2 L586.9,414.4 L590.9,414.7 L594.9,414.9 L599.0,415.1 L603.0,415.3 L607.0,415.6 L611.0,415.8 L615.0,416.0 L619.0,416.3 L623.1,416.5 L627.1,416.7 L631.1,417.0 L635.1,417.2 L639.1,417.4 L643.1,417.6 L647.2,417.9 L651.2,418.1 L655.2,418.3 L659.2,418.6 L663.2,418.8 L667.2,419.0 L671.3,419.3 L675.3,419.5 L679.3,419.7 L683.3,420.0 L687.3,420.2 L691.4,420.4 L695.4,420.6 L699.4,420.9 L703.4,421.1 L707.4,421.3 L711.4,421.6 L715.5,421.8 L719.5,422.0 L723.5,422.3 L727.5,422.5 L731.5,422.7 L735.5,422.9 L739.6,423.2 L743.6,423.4 L747.6,423.7 L751.6,423.9 L755.6,424.1 L759.6,424.4 L763.7,424.6 L767.7,424.9 L771.7,425.1 L775.7,425.3 L779.7,425.6 L783.7,425.8 L787.8,426.1 L791.8,426.3 L795.8,426.5 L799.8,426.8 L803.8,427.0 L807.8,427.3 L811.9,427.5 L815.9,427.8 L819.9,428.0 L823.9,428.2 L827.9,428.5 L831.9,428.7 L836.0,429.0 L840.0,429.2 L844.0,429.4 L848.0,429.7 L852.0,429.9 L856.0,430.2 L860.1,430.4 L864.1,430.6 L868.1,430.9 L872.1,431.1 L876.1,431.4 L880.1,431.6 L884.2,431.9 L888.2,432.1 L892.2,432.3 L896.2,432.6 L900.2,432.8 L904.3,433.1 L908.3,433.3 L912.3,433.5 L916.3,433.8 L920.3,434.0 L924.3,434.3 L928.4,434.5 L932.4,434.7 L936.4,435.0 L940.4,435.2 L944.4,435.5 L948.4,435.7 L952.5,435.9 L956.5,436.2 L960.5,436.4 L964.5,436.7 L968.5,436.9 L972.5,437.2 L976.6,437.4 L980.6,437.6 L984.6,437.9 L988.6,438.1 L992.6,438.4 L996.6,438.6 L1000.7,438.8 L1004.7,439.1 L1008.7,439.3 L1012.7,439.6 L1016.7,439.8 L1020.7,440.0 L1024.8,440.3 L1028.8,440.5 L1032.8,440.8 L1036.8,441.0 L1040.8,441.3 L1044.8,441.5 L1048.9,441.7 L1052.9,442.0 L1056.9,442.2 L1060.9,442.5 L1064.9,442.7 L1068.9,443.0 L1073.0,443.2 L1077.0,443.5 L1081.0,443.7 L1085.0,443.9 L1089.0,444.2 L1093.1,444.4 L1097.1,444.7 L1101.1,444.9 L1105.1,445.2 L1109.1,445.4 L1113.1,445.7 L1117.2,445.9 L1121.2,446.1 L1125.2,446.4 L1129.2,446.6 L1133.2,446.9 L1137.2,447.1 L1141.3,447.4 L1145.3,447.6 L1149.3,447.9 L1153.3,448.1 L1157.3,448.3 L1161.3,448.6 L1165.4,448.8 L1169.4,449.1 L1173.4,449.3 L1177.4,449.6 L1181.4,449.8 L1185.4,450.1 L1189.5,450.3 L1193.5,450.5 L1197.5,450.8 L1201.5,451.0 L1205.5,451.3 L1209.5,451.5 L1213.6,451.8 L1217.6,452.0 L1221.6,452.3 L1225.6,452.5 L1229.6,452.8 L1233.6,453.0 L1237.7,453.2 L1241.7,453.5 L1245.7,453.7 L1249.7,454.0 L1253.7,454.2 L1257.7,454.5 L1261.8,454.7 L1265.8,455.0 L1269.8,455.2 L1273.8,455.4 L1277.8,455.7 L1281.8,455.9 L1285.9,456.2 L1289.9,456.4 L1293.9,456.7 L1297.9,456.9 L1301.9,457.2 L1306.0,457.4 L1310.0,457.6 L1314.0,457.9 L1318.0,458.1 L1322.0,458.4 L1326.0,458.6 L1330.1,458.9 L1334.1,459.1 L1338.1,459.4 L1342.1,459.6 L1346.1,459.8 L1350.1,460.1 L1354.2,460.3 L1358.2,460.6 L1362.2,460.8 L1366.2,461.1 L1370.2,461.3 L1374.2,461.5 L1378.3,461.8 L1382.3,462.0 L1386.3,462.2 L1390.3,462.5 L1394.3,462.7 L1398.3,462.9 L1402.4,463.1 L1406.4,463.2 L1410.4,463.4 L1414.4,463.5 L1418.4,463.6 L1422.4,463.6 L1426.5,463.6 L1430.5,463.4 L1434.5,463.2 L1438.5,462.9 L1442.5,462.4 L1446.5,461.8 L1450.6,461.0 L1454.6,459.9 L1458.6,458.6 L1462.6,457.1 L1466.6,455.3 L1470.6,453.1 L1474.7,450.6 L1478.7,447.8 L1482.7,444.6 L1486.7,441.0 L1490.7,437.2 L1494.8,433.0 L1498.8,428.6 L1502.8,423.9 L1506.8,419.1 L1510.8,414.3 L1514.8,409.5 L1518.9,404.7 L1522.9,400.2 L1526.9,396.0 L1530.9,392.2 L1534.9,389.0 L1538.9,386.3 L1543.0,384.2 L1547.0,382.9 L1551.0,382.4 L1555.0,382.6 L1559.0,383.6 L1563.0,385.4 L1567.1,387.8 L1571.1,391.0 L1575.1,394.7 L1579.1,398.9 L1583.1,403.6 L1587.1,408.6 L1591.2,413.7 L1595.2,419.0 L1599.2,424.3 L1603.2,429.5 L1607.2,434.6 L1611.2,439.5 L1615.3,444.1 L1619.3,448.5 L1623.3,452.4 L1627.3,456.1 L1631.3,459.4 L1635.3,462.4 L1639.4,465.0 L1643.4,467.3 L1647.4,469.3 L1651.4,471.1 L1655.4,472.6 L1659.4,473.9 L1663.5,475.0 L1667.5,475.9 L1671.5,476.7 L1675.5,477.4 L1679.5,478.0 L1683.5,478.5 L1687.6,479.0 L1691.6,479.4 L1695.6,479.7 L1699.6,480.0 L1703.6,480.3 L1707.7,480.6 L1711.7,480.9 L1715.7,481.1 L1719.7,481.4 L1723.7,481.6 L1727.7,481.8 L1731.8,482.1 L1735.8,482.4 L1739.8,482.6 L1743.8,482.9 L1747.8,483.2 L1751.8,483.4 L1755.9,483.7 L1759.9,483.9 L1763.9,484.2 L1767.9,484.5 L1771.9,484.7 L1775.9,485.0 L1780.0,485.3 L1784.0,485.5 L1788.0,485.8 L1792.0,486.0 L1796.0,486.3 L1800.0,486.6 L1804.1,486.8 L1808.1,487.1 L1812.1,487.4 L1816.1,487.6 L1820.1,487.9 L1822.0,488.0" fill="none" stroke="#00ffff" stroke-width="3" shape-rendering="crispEdges"/>
<path d="M277.6,395.2 L281.6,395.5 L285.6,395.7 L289.7,396.0 L293.7,396.3 L297.7,396.5 L301.7,396.8 L305.7,397.1 L309.7,397.3 L313.8,397.6 L317.8,397.9 L321.8,398.1 L325.8,398.4 L329.8,398.7 L333.8,398.9 L337.9,399.2 L341.9,399.5 L345.9,399.7 L349.9,400.0 L353.9,400.3 L357.9,400.5 L362.0,400.8 L366.0,401.1 L370.0,401.3 L374.0,401.6 L378.0,401.9 L382.0,402.1 L386.1,402.4 L390.1,402.7 L394.1,402.9 L398.1,403.2 L402.1,403.5 L406.1,403.7 L410.2,404.0 L414.2,404.3 L418.2,404.5 L422.2,404.8 L426.2,405.1 L430.2,405.4 L434.3,405.6 L438.3,405.9 L442.3,406.1 L446.3,406.4 L450.3,406.6 L454.3,406.8 L458.4,407.1 L462.4,407.3 L466.4,407.5 L470.4,407.7 L474.4,408.0 L478.4,408.2 L482.5,408.4 L486.5,408.7 L490.5,408.9 L494.5,409.1 L498.5,409.4 L502.6,409.6 L506.6,409.8 L510.6,410.0 L514.6,410.3 L518.6,410.5 L522.6,410.7 L526.7,411.0 L530.7,411.2 L534.7,411.4 L538.7,411.7 L542.7,411.9 L546.7,412.1 L550.8,412.4 L554.8,412.6 L558.8,412.8 L562.8,413.0 L566.8,413.3 L570.8,413.5 L574.9,413.7 L578.9,414.0 L582.9,414.2 L586.9,414.4 L590.9,414.7 L594.9,414.9 L599.0,415.1 L603.0,415.3 L607.0,415.6 L611.0,415.8 L615.0,416.0 L619.0,416.3 L623.1,416.5 L627.1,416.7 L631.1,417.0 L635.1,417.2 L639.1,417.4 L643.1,417.6 L647.2,417.9 L651.2,418.1 L655.2,418.3 L659.2,418.6 L663.2,418.8 L667.2,419.0 L671.3,419.3 L675.3,419.5 L679.3,419.7 L683.3,420.0 L687.3,420.2 L691.4,420.4 L695.4,420.6 L699.4,420.9 L703.4,421.1 L707.4,421.3 L711.4,421.6 L715.5,421.8 L719.5,422.0 L723.5,422.3 L727.5,422.5 L731.5,422.7 L735.5,422.9 L739.6,423.2 L743.6,423.4 L747.6,423.7 L751.6,423.9 L755.6,424.1 L759.6,424.4 L763.7,424.6 L767.7,424.9 L771.7,425.1 L775.7,425.3 L779.7,425.6 L783.7,425.8 L787.8,426.1 L791.8,426.3 L795.8,426.5 L799.8,426.8 L803.8,427.0 L807.8,427.3 L811.9,427.5 L815.9,427.8 L819.9,428.0 L823.9,428.2 L827.9,428.5 L831.9,428.7 L836.0,429.0 L840.0,429.2 L844.0,429.4 L848.0,429.7 L852.0,429.9 L856.0,430.2 L860.1,430.4 L864.1,430.6 L868.1,430.9 L872.1,431.1 L876.1,431.4 L880.1,431.6 L884.2,431.9 L888.2,432.1 L892.2,432.3 L896.2,432.6 L900.2,432.8 L904.3,433.1 L908.3,433.3 L912.3,433.5 L916.3,433.8 L920.3,434.0 L924.3,434.3 L928.4,434.5 L932.4,434.7 L936.4,435.0 L940.4,435.2 L944.4,435.5 L948.4,435.7 L952.5,435.9 L956.5,436.2 L960.5,436.4 L964.5,436.7 L968.5,436.9 L972.5,437.2 L976.6,437.4 L980.6,437.6 L984.6,437.9 L988.6,438.1 L992.6,438.4 L996.6,438.6 L1000.7,438.8 L1004.7,439.1 L1008.7,439.3 L1012.7,439.6 L1016.7,439.8 L1020.7,440.0 L1024.8,440.3 L1028.8,440.5 L1032.8,440.8 L1036.8,441.0 L1040.8,441.3 L1044.8,441.5 L1048.9,441.7 L1052.9,442.0 L1056.9,442.2 L1060.9,442.5 L1064.9,442.7 L1068.9,443.0 L1073.0,443.2 L1077.0,443.5 L1081.0,443.7 L1085.0,443.9 L1089.0,444.2 L1093.1,444.4 L1097.1,444.7 L1101.1,444.9 L1105.1,445.2 L1109.1,445.4 L1113.1,445.7 L1117.2,445.9 L1121.2,446.1 L1125.2,446.4 L1129.2,446.6 L1133.2,446.9 L1137.2,447.1 L1141.3,447.4 L1145.3,447.6 L1149.3,447.9 L1153.3,448.1 L1157.3,448.3 L1161.3,448.6 L1165.4,448.8 L1169.4,449.1 L1173.4,449.3 L1177.4,449.6 L1181.4,449.8 L1185.4,450.1 L1189.5,450.3 L1193.5,450.5 L1197.5,450.8 L1201.5,451.0 L1205.5,451.3 L1209.5,451.5 L1213.6,451.8 L1217.6,452.0 L1221.6,452.3 L1225.6,452.5 L1229.6,452.8 L1233.6,453.0 L1237.7,453.2 L1241.7,453.5 L1245.7,453.7 L1249.7,454.0 L1253.7,454.2 L1257.7,454.5 L1261.8,454.7 L1265.8,455.0 L1269.8,455.2 L1273.8,455.4 L1277.8,455.7 L1281.8,455.9 L1285.9,456.2 L1289.9,456.4 L1293.9,456.7 L1297.9,456.9 L1301.9,457.2 L1306.0,457.4 L1310.0,457.6 L1314.0,457.9 L1318.0,458.1 L1322.0,458.4 L1326.0,458.6 L1330.1,458.9 L1334.1,459.1 L1338.1,459.4 L1342.1,459.6 L1346.1,459.8 L1350.1,460.1 L1354.2,460.3 L1358.2,460.6 L1362.2,460.8 L1366.2,461.1 L1370.2,461.3 L1374.2,461.6 L1378.3,461.8 L1382.3,462.0 L1386.3,462.3 L1390.3,462.5 L1394.3,462.8 L1398.3,463.0 L1402.4,463.3 L1406.4,463.5 L1410.4,463.8 L1414.4,464.0 L1418.4,464.2 L1422.4,464.5 L1426.5,464.7 L1430.5,465.0 L1434.5,465.2 L1438.5,465.5 L1442.5,465.7 L1446.5,466.0 L1450.6,466.2 L1454.6,466.5 L1458.6,466.7 L1462.6,466.9 L1466.6,467.2 L1470.6,467.4 L1474.7,467.7 L1478.7,467.9 L1482.7,468.2 L1486.7,468.4 L1490.7,468.6 L1494.8,468.8 L1498.8,469.1 L1502.8,469.3 L1506.8,469.5 L1510.8,469.7 L1514.8,470.0 L1518.9,470.2 L1522.9,470.4 L1526.9,470.6 L1530.9,470.9 L1534.9,471.1 L1538.9,471.3 L1543.0,471.5 L1547.0,471.7 L1551.0,472.0 L1555.0,472.2 L1559.0,472.4 L1563.0,472.6 L1567.1,472.8 L1571.1,473.0 L1575.1,473.0 L1579.1,473.0 L1583.1,472.8 L1587.1,472.3 L1591.2,471.4 L1595.2,469.9 L1599.2,467.7 L1603.2,464.7 L1607.2,460.6 L1611.2,455.6 L1615.3,449.7 L1619.3,443.3 L1623.3,436.8 L1627.3,430.8 L1631.3,425.9 L1635.3,422.6 L1639.4,421.4 L1643.4,422.5 L1647.4,426.3 L1651.4,432.1 L1655.4,439.3 L1659.4,447.0 L1663.5,454.5 L1667.5,461.2 L1671.5,466.7 L1675.5,471.0 L1679.5,474.2 L1683.5,476.4 L1687.6,477.9 L1691.6,478.9 L1695.6,479.6 L1699.6,480.1 L1703.6,480.4 L1707.7,480.7 L1711.7,481.0 L1715.7,481.2 L1719.7,481.4 L1723.7,481.6 L1727.7,481.9 L1731.8,482.1 L1735.8,482.4 L1739.8,482.6 L1743.8,482.9 L1747.8,483.2 L1751.8,483.4 L1755.9,483.7 L1759.9,483.9 L1763.9,484.2 L1767.9,484.5 L1771.9,484.7 L1775.9,485.0 L1780.0,485.3 L1784.0,485.5 L1788.0,485.8 L1792.0,486.0 L1796.0,486.3 L1800.0,486.6 L1804.1,486.8 L1808.1,487.1 L1812.1,487.4 L1816.1,487.6 L1820.1,487.9 L1822.0,488.0" fill="none" stroke="#000000" stroke-width="3" shape-rendering="crispEdges"/>
<path d="M277.6,395.2 L281.6,395.5 L285.6,395.7 L289.7,396.0 L293.7,396.3 L297.7,396.5 L301.7,396.8 L305.7,397.1 L309.7,397.3 L313.8,397.6 L317.8,397.9 L321.8,398.1 L325.8,398.4 L329.8,398.7 L333.8,398.9 L337.9,399.2 L341.9,399.5 L345.9,399.7 L349.9,400.0 L353.9,400.3 L357.9,400.5 L362.0,400.8 L366.0,401.1 L370.0,401.3 L374.0,401.6 L378.0,401.9 L382.0,402.1 L386.1,402.4 L390.1,402.7 L394.1,402.9 L398.1,403.2 L402.1,403.5 L406.1,403.7 L410.2,404.0 L414.2,404.3 L418.2,404.5 L422.2,404.8 L426.2,405.1 L430.2,405.4 L434.3,405.6 L438.3,405.9 L442.3,406.1 L446.3,406.4 L450.3,406.6 L454.3,406.8 L458.4,407.1 L462.4,407.3 L466.4,407.5 L470.4,407.7 L474.4,408.0 L478.4,408.2 L482.5,408.4 L486.5,408.7 L490.5,408.9 L494.5,409.1 L498.5,409.4 L502.6,409.6 L506.6,409.8 L510.6,410.0 L514.6,410.3 L518.6,410.5 L522.6,410.7 L526.7,411.0 L530.7,411.2 L534.7,411.4 L538.7,411.7 L542.7,411.9 L546.7,412.1 L550.8,412.4 L554.8,412.6 L558.8,412.8 L562.8,413.0 L566.8,413.3 L570.8,413.5 L574.9,413.7 L578.9,414.0 L582.9,414.2 L586.9,414.4 L590.9,414.7 L594.9,414.9 L599.0,415.1 L603.0,415.3 L607.0,415.6 L611.0,415.8 L615.0,416.0 L619.0,416.3 L623.1,416.5 L627.1,416.7 L631.1,417.0 L635.1,417.2 L639.1,417.4 L643.1,417.6 L647.2,417.9 L651.2,418.1 L655.2,418.3 L659.2,418.6 L663.2,418.8 L667.2,419.0 L671.3,419.3 L675.3,419.5 L679.3,419.7 L683.3,420.0 L687.3,420.2 L691.4,420.4 L695.4,420.6 L699.4,420.9 L703.4,421.1 L707.4,421.3 L711.4,421.6 L715.5,421.8 L719.5,422.0 L723.5,422.3 L727.5,422.5 L731.5,422.7 L735.5,422.9 L739.6,423.2 L743.6,423.4 L747.6,423.7 L751.6,423.9 L755.6,424.1 L759.6,424.4 L763.7,424.6 L767.7,424.9 L771.7,425.1 L775.7,425.3 L779.7,425.6 L783.7,425.8 L787.8,426.1 L791.8,426.3 L795.8,426.5 L799.8,426.8 L803.8,427.0 L807.8,427.3 L811.9,427.5 L815.9,427.8 L819.9,428.0 L823.9,428.2 L827.9,428.5 L831.9,428.7 L836.0,429.0 L840.0,429.2 L844.0,429.4 L848.0,429.7 L852.0,429.9 L856.0,430.2 L860.1,430.4 L864.1,430.6 L868.1,430.9 L872.1,431.1 L876.1,431.4 L880.1,431.6 L884.2,431.9 L888.2,432.1 L892.2,432.3 L896.2,432.6 L900.2,432.8 L904.3,433.1 L908.3,433.3 L912.3,433.5 L916.3,433.8 L920.3,434.0 L924.3,434.3 L928.4,434.5 L932.4,434.7 L936.4,435.0 L940.4,435.2 L944.4,435.5 L948.4,435.7 L952.5,435.9 L956.5,436.2 L960.5,436.4 L964.5,436.7 L968.5,436.9 L972.5,437.2 L976.6,437.4 L980.6,437.6 L984.6,437.9 L988.6,438.1 L992.6,438.4 L996.6,438.6 L1000.7,438.8 L1004.7,439.1 L1008.7,439.3 L1012.7,439.6 L1016.7,439.8 L1020.7,440.0 L1024.8,440.3 L1028.8,440.5 L1032.8,440.8 L1036.8,441.0 L1040.8,441.3 L1044.8,441.5 L1048.9,441.7 L1052.9,442.0 L1056.9,442.2 L1060.9,442.5 L1064.9,442.7 L1068.9,443.0 L1073.0,443.2 L1077.0,443.5 L1081.0,443.7 L1085.0,443.9 L1089.0,444.2 L1093.1,444.4 L1097.1,444.7 L1101.1,444.9 L1105.1,445.2 L1109.1,445.4 L1113.1,445.7 L1117.2,445.9 L1121.2,446.1 L1125.2,446.4 L1129.2,446.6 L1133.2,446.9 L1137.2,447.1 L1141.3,447.4 L1145.3,447.6 L1149.3,447.9 L1153.3,448.1 L1157.3,448.3 L1161.3,448.6 L1165.4,448.8 L1169.4,449.1 L1173.4,449.3 L1177.4,449.6 L1181.4,449.8 L1185.4,450.1 L1189.5,450.3 L1193.5,450.5 L1197.5,450.8 L1201.5,451.0 L1205.5,451.3 L1209.5,451.5 L1213.6,451.8 L1217.6,452.0 L1221.6,452.3 L1225.6,452.5 L1229.6,452.8 L1233.6,453.0 L1237.7,453.2 L1241.7,453.5 L1245.7,453.7 L1249.7,454.0 L1253.7,454.2 L1257.7,454.5 L1261.8,454.7 L1265.8,455.0 L1269.8,455.2 L1273.8,455.4 L1277.8,455.7 L1281.8,455.9 L1285.9,456.2 L1289.9,456.4 L1293.9,456.7 L1297.9,456.9 L1301.9,457.2 L1306.0,457.4 L1310.0,457.6 L1314.0,457.9 L1318.0,458.1 L1322.0,458.4 L1326.0,458.6 L1330.1,458.9 L1334.1,459.1 L1338.1,459.4 L1342.1,459.6 L1346.1,459.8 L1350.1,460.1 L1354.2,460.3 L1358.2,460.6 L1362.2,460.8 L1366.2,461.1 L1370.2,461.3 L1374.2,461.6 L1378.3,461.8 L1382.3,462.0 L1386.3,462.3 L1390.3,462.5 L1394.3,462.8 L1398.3,463.0 L1402.4,463.3 L1406.4,463.5 L1410.4,463.8 L1414.4,464.0 L1418.4,464.2 L1422.4,464.5 L1426.5,464.7 L1430.5,465.0 L1434.5,465.2 L1438.5,465.5 L1442.5,465.7 L1446.5,466.0 L1450.6,466.2 L1454.6,466.5 L1458.6,466.7 L1462.6,466.9 L1466.6,467.2 L1470.6,467.4 L1474.7,467.7 L1478.7,467.9 L1482.7,468.2 L1486.7,468.4 L1490.7,468.6 L1494.8,468.8 L1498.8,469.1 L1502.8,469.3 L1506.8,469.5 L1510.8,469.7 L1514.8,470.0 L1518.9,470.2 L1522.9,470.4 L1526.9,470.6 L1530.9,470.9 L1534.9,471.1 L1538.9,471.3 L1543.0,471.5 L1547.0,471.8 L1551.0,472.0 L1555.0,472.2 L1559.0,472.4 L1563.0,472.7 L1567.1,472.9 L1571.1,473.1 L1575.1,473.3 L1579.1,473.6 L1583.1,473.8 L1587.1,474.0 L1591.2,474.2 L1595.2,474.4 L1599.2,474.7 L1603.2,474.9 L1607.2,475.1 L1611.2,475.3 L1615.3,475.6 L1619.3,475.8 L1623.3,476.0 L1627.3,476.2 L1631.3,476.5 L1635.3,476.7 L1639.4,476.8 L1643.4,476.7 L1647.4,476.3 L1651.4,475.0 L1655.4,472.1 L1659.4,467.1 L1663.5,459.4 L1667.5,449.3 L1671.5,438.5 L1675.5,429.4 L1679.5,424.6 L1683.5,425.6 L1687.6,432.3 L1691.6,442.6 L1695.6,453.8 L1699.6,463.8 L1703.6,471.2 L1707.7,476.1 L1711.7,478.9 L1715.7,480.4 L1719.7,481.1 L1723.7,481.6 L1727.7,481.8 L1731.8,482.1 L1735.8,482.4 L1739.8,482.6 L1743.8,482.9 L1747.8,483.2 L1751.8,483.4 L1755.9,483.7 L1759.9,483.9 L1763.9,484.2 L1767.9,484.5 L1771.9,484.7 L1775.9,485.0 L1780.0,485.3 L1784.0,485.5 L1788.0,485.8 L1792.0,486.0 L1796.0,486.3 L1800.0,486.6 L1804.1,486.8 L1808.1,487.1 L1812.1,487.4 L1816.1,487.6 L1820.1,487.9 L1822.0,488.0" fill="none" stroke="#ff0000" stroke-width="3" shape-rendering="crispEdges"/>
<path d="M277.6,395.2 L281.6,395.5 L285.6,395.7 L289.7,396.0 L293.7,396.3 L297.7,396.5 L301.7,396.8 L305.7,397.1 L309.7,397.3 L313.8,397.6 L317.8,397.9 L321.8,398.1 L325.8,398.4 L329.8,398.7 L333.8,398.9 L337.9,399.2 L341.9,399.5 L345.9,399.7 L349.9,400.0 L353.9,400.3 L357.9,400.5 L362.0,400.8 L366.0,401.1 L370.0,401.3 L374.0,401.6 L378.0,401.9 L382.0,402.1 L386.1,402.4 L390.1,402.7 L394.1,402.9 L398.1,403.2 L402.1,403.5 L406.1,403.7 L410.2,404.0 L414.2,404.3 L418.2,404.5 L422.2,404.8 L426.2,405.1 L430.2,405.4 L434.3,405.6 L438.3,405.9 L442.3,406.1 L446.3,406.4 L450.3,406.6 L454.3,406.8 L458.4,407.1 L462.4,407.3 L466.4,407.5 L470.4,407.7 L474.4,408.0 L478.4,408.2 L482.5,408.4 L486.5,408.7 L490.5,408.9 L494.5,409.1 L498.5,409.4 L502.6,409.6 L506.6,409.8 L510.6,410.0 L514.6,410.3 L518.6,410.5 L522.6,410.7 L526.7,411.0 L530.7,411.2 L534.7,411.4 L538.7,411.7 L542.7,411.9 L546.7,412.1 L550.8,412.4 L554.8,412.6 L558.8,412.8 L562.8,413.0 L566.8,413.3 L570.8,413.5 L574.9,413.7 L578.9,414.0 L582.9,414.2 L586.9,414.4 L590.9,414.7 L594.9,414.9 L599.0,415.1 L603.0,415.3 L607.0,415.6 L611.0,415.8 L615.0,416.0 L619.0,416.3 L623.1,416.5 L627.1,416.7 L631.1,417.0 L635.1,417.2 L639.1,417.4 L643.1,417.6 L647.2,417.9 L651.2,418.1 L655.2,418.3 L659.2,418.6 L663.2,418.8 L667.2,419.0 L671.3,419.3 L675.3,419.5 L679.3,419.7 L683.3,420.0 L687.3,420.2 L691.4,420.4 L695.4,420.6 L699.4,420.9 L703.4,421.1 L707.4,421.3 L711.4,421.6 L715.5,421.8 L719.5,422.0 L723.5,422.3 L727.5,422.5 L731.5,422.7 L735.5,422.9 L739.6,423.2 L743.6,423.4 L747.6,423.7 L751.6,423.9 L755.6,424.1 L759.6,424.4 L763.7,424.6 L767.7,424.9 L771.7,425.1 L775.7,425.3 L779.7,425.6 L783.7,425.8 L787.8,426.1 L791.8,426.3 L795.8,426.5 L799.8,426.8 L803.8,427.0 L807.8,427.3 L811.9,427.5 L815.9,427.8 L819.9,428.0 L823.9,428.2 L827.9,428.5 L831.9,428.7 L836.0,429.0 L840.0,429.2 L844.0,429.4 L848.0,429.7 L852.0,429.9 L856.0,430.2 L860.1,430.4 L864.1,430.6 L868.1,430.9 L872.1,431.1 L876.1,431.4 L880.1,431.6 L884.2,431.9 L888.2,432.1 L892.2,432.3 L896.2,432.6 L900.2,432.8 L904.3,433.1 L908.3,433.3 L912.3,433.5 L916.3,433.8 L920.3,434.0 L924.3,434.3 L928.4,434.5 L932.4,434.7 L936.4,435.0 L940.4,435.2 L944.4,435.5 L948.4,435.7 L952.5,435.9 L956.5,436.2 L960.5,436.4 L964.5,436.7 L968.5,436.9 L972.5,437.2 L976.6,437.4 L980.6,437.6 L984.6,437.9 L988.6,438.1 L992.6,438.4 L996.6,438.6 L1000.7,438.8 L1004.7,439.1 L1008.7,439.3 L1012.7,439.6 L1016.7,439.8 L1020.7,440.0 L1024.8,440.3 L1028.8,440.5 L1032.8,440.8 L1036.8,441.0 L1040.8,441.3 L1044.8,441.5 L1048.9,441.7 L1052.9,442.0 L1056.9,442.2 L1060.9,442.5 L1064.9,442.7 L1068.9,443.0 L1073.0,443.2 L1077.0,443.5 L1081.0,443.7 L1085.0,443.9 L1089.0,444.2 L1093.1,444.4 L1097.1,444.7 L1101.1,444.9 L1105.1,445.2 L1109.1,445.4 L1113.1,445.7 L1117.2,445.9 L1121.2,446.1 L1125.2,446.4 L1129.2,446.6 L1133.2,446.9 L1137.2,447.1 L1141.3,447.4 L1145.3,447.6 L1149.3,447.9 L1153.3,448.1 L1157.3,448.3 L1161.3,448.6 L1165.4,448.8 L1169.4,449.1 L1173.4,449.3 L1177.4,449.6 L1181.4,449.8 L1185.4,450.1 L1189.5,450.3 L1193.5,450.5 L1197.5,450.8 L1201.5,451.0 L1205.5,451.3 L1209.5,451.5 L1213.6,451.8 L1217.6,452.0 L1221.6,452.3 L1225.6,452.5 L1229.6,452.8 L1233.6,453.0 L1237.7,453.2 L1241.7,453.5 L1245.7,453.7 L1249.7,454.0 L1253.7,454.2 L1257.7,454.5 L1261.8,454.7 L1265.8,455.0 L1269.8,455.2 L1273.8,455.4 L1277.8,455.7 L1281.8,455.9 L1285.9,456.2 L1289.9,456.4 L1293.9,456.7 L1297.9,456.9 L1301.9,457.2 L1306.0,457.4 L1310.0,457.6 L1314.0,457.9 L1318.0,458.1 L1322.0,458.4 L1326.0,458.6 L1330.1,458.9 L1334.1,459.1 L1338.1,459.4 L1342.1,459.6 L1346.1,459.8 L1350.1,460.1 L1354.2,460.3 L1358.2,460.6 L1362.2,460.8 L1366.2,461.1 L1370.2,461.3 L1374.2,461.6 L1378.3,461.8 L1382.3,462.0 L1386.3,462.3 L1390.3,462.5 L1394.3,462.8 L1398.3,463.0 L1402.4,463.3 L1406.4,463.5 L1410.4,463.8 L1414.4,464.0 L1418.4,464.2 L1422.4,464.5 L1426.5,464.7 L1430.5,465.0 L1434.5,465.2 L1438.5,465.5 L1442.5,465.7 L1446.5,466.0 L1450.6,466.2 L1454.6,466.5 L1458.6,466.7 L1462.6,466.9 L1466.6,467.2 L1470.6,467.4 L1474.7,467.7 L1478.7,467.9 L1482.7,468.2 L1486.7,468.4 L1490.7,468.6 L1494.8,468.8 L1498.8,469.1 L1502.8,469.3 L1506.8,469.5 L1510.8,469.7 L1514.8,470.0 L1518.9,470.2 L1522.9,470.4 L1526.9,470.6 L1530.9,470.9 L1534.9,471.1 L1538.9,471.3 L1543.0,471.5 L1547.0,471.8 L1551.0,472.0 L1555.0,472.2 L1559.0,472.4 L1563.0,472.7 L1567.1,472.9 L1571.1,473.1 L1575.1,473.3 L1579.1,473.6 L1583.1,473.8 L1587.1,474.0 L1591.2,474.2 L1595.2,474.4 L1599.2,474.7 L1603.2,474.9 L1607.2,475.1 L1611.2,475.3 L1615.3,475.6 L1619.3,475.8 L1623.3,476.0 L1627.3,476.2 L1631.3,476.5 L1635.3,476.7 L1639.4,476.9 L1643.4,477.1 L1647.4,477.4 L1651.4,477.6 L1655.4,477.8 L1659.4,478.0 L1663.5,478.3 L1667.5,478.5 L1671.5,478.7 L1675.5,478.9 L1679.5,479.2 L1683.5,479.4 L1687.6,479.6 L1691.6,479.8 L1695.6,480.1 L1699.6,480.3 L1703.6,480.5 L1707.7,480.7 L1711.7,481.0 L1715.7,481.2 L1719.7,481.4 L1723.7,481.6 L1727.7,481.9 L1731.8,482.1 L1735.8,482.4 L1739.8,482.6 L1743.8,482.9 L1747.8,483.2 L1751.8,483.4 L1755.9,483.7 L1759.9,483.9 L1763.9,484.2 L1767.9,484.5 L1771.9,484.7 L1775.9,485.0 L1780.0,485.3 L1784.0,485.5 L1788.0,485.8 L1792.0,486.0 L1796.0,486.3 L1800.0,486.6 L1804.1,486.8 L1808.1,487.1 L1812.1,487.4 L1816.1,487.6 L1820.1,487.9 L1822.0,488.0" fill="none" stroke="#000" stroke-width="3" shape-rendering="crispEdges"/>
<path d="M277.6,395.1 L281.6,395.3 L285.6,395.6 L289.7,395.8 L293.7,396.0 L297.7,396.3 L301.7,396.5 L305.7,396.7 L309.7,397.0 L313.8,397.2 L317.8,397.4 L321.8,397.6 L325.8,397.8 L329.8,398.0 L333.8,398.2 L337.9,398.3 L341.9,398.5 L345.9,398.6 L349.9,398.8 L353.9,398.9 L357.9,399.0 L362.0,399.1 L366.0,399.2 L370.0,399.3 L374.0,399.3 L378.0,399.4 L382.0,399.4 L386.1,399.4 L390.1,399.3 L394.1,399.3 L398.1,399.2 L402.1,399.1 L406.1,399.0 L410.2,398.9 L414.2,398.7 L418.2,398.5 L422.2,398.3 L426.2,398.1 L430.2,397.8 L434.3,397.6 L438.3,397.2 L442.3,396.9 L446.3,396.5 L450.3,396.1 L454.3,395.6 L458.4,395.2 L462.4,394.7 L466.4,394.2 L470.4,393.7 L474.4,393.2 L478.4,392.6 L482.5,392.1 L486.5,391.5 L490.5,391.0 L494.5,390.4 L498.5,389.9 L502.6,389.3 L506.6,388.8 L510.6,388.3 L514.6,387.7 L518.6,387.2 L522.6,386.8 L526.7,386.3 L530.7,385.9 L534.7,385.5 L538.7,385.1 L542.7,384.8 L546.7,384.5 L550.8,384.3 L554.8,384.1 L558.8,383.9 L562.8,383.8 L566.8,383.7 L570.8,383.7 L574.9,383.8 L578.9,383.8 L582.9,384.0 L586.9,384.2 L590.9,384.4 L594.9,384.7 L599.0,385.0 L603.0,385.4 L607.0,385.9 L611.0,386.3 L615.0,386.8 L619.0,387.4 L623.1,387.9 L627.1,388.5 L631.1,389.2 L635.1,389.8 L639.1,390.5 L643.1,391.1 L647.2,391.8 L651.2,392.5 L655.2,393.1 L659.2,393.8 L663.2,394.4 L667.2,395.0 L671.3,395.6 L675.3,396.1 L679.3,396.6 L683.3,397.1 L687.3,397.5 L691.4,397.9 L695.4,398.2 L699.4,398.5 L703.4,398.7 L707.4,398.8 L711.4,398.8 L715.5,398.8 L719.5,398.8 L723.5,398.6 L727.5,398.4 L731.5,398.1 L735.5,397.8 L739.6,397.4 L743.6,396.9 L747.6,396.4 L751.6,395.8 L755.6,395.2 L759.6,394.5 L763.7,393.8 L767.7,393.0 L771.7,392.2 L775.7,391.5 L779.7,390.7 L783.7,389.9 L787.8,389.1 L791.8,388.3 L795.8,387.5 L799.8,386.8 L803.8,386.1 L807.8,385.4 L811.9,384.8 L815.9,384.3 L819.9,383.8 L823.9,383.4 L827.9,383.1 L831.9,382.9 L836.0,382.8 L840.0,382.7 L844.0,382.8 L848.0,383.0 L852.0,383.2 L856.0,383.6 L860.1,384.0 L864.1,384.6 L868.1,385.3 L872.1,386.0 L876.1,386.9 L880.1,387.8 L884.2,388.9 L888.2,390.0 L892.2,391.2 L896.2,392.4 L900.2,393.7 L904.3,395.1 L908.3,396.5 L912.3,397.9 L916.3,399.4 L920.3,400.9 L924.3,402.5 L928.4,404.0 L932.4,405.5 L936.4,407.1 L940.4,408.6 L944.4,410.1 L948.4,411.6 L952.5,413.0 L956.5,414.4 L960.5,415.8 L964.5,417.2 L968.5,418.5 L972.5,419.7 L976.6,420.9 L980.6,422.0 L984.6,423.1 L988.6,424.1 L992.6,425.1 L996.6,426.0 L1000.7,426.9 L1004.7,427.7 L1008.7,428.4 L1012.7,429.1 L1016.7,429.7 L1020.7,430.3 L1024.8,430.8 L1028.8,431.2 L1032.8,431.7 L1036.8,432.0 L1040.8,432.3 L1044.8,432.6 L1048.9,432.8 L1052.9,433.0 L1056.9,433.2 L1060.9,433.3 L1064.9,433.3 L1068.9,433.4 L1073.0,433.4 L1077.0,433.4 L1081.0,433.3 L1085.0,433.2 L1089.0,433.1 L1093.1,432.9 L1097.1,432.8 L1101.1,432.6 L1105.1,432.4 L1109.1,432.1 L1113.1,431.9 L1117.2,431.6 L1121.2,431.3 L1125.2,431.0 L1129.2,430.6 L1133.2,430.3 L1137.2,429.9 L1141.3,429.5 L1145.3,429.2 L1149.3,428.7 L1153.3,428.3 L1157.3,427.9 L1161.3,427.4 L1165.4,427.0 L1169.4,426.5 L1173.4,426.1 L1177.4,425.6 L1181.4,425.1 L1185.4,424.6 L1189.5,424.1 L1193.5,423.6 L1197.5,423.1 L1201.5,422.6 L1205.5,422.1 L1209.5,421.6 L1213.6,421.0 L1217.6,420.5 L1221.6,420.0 L1225.6,419.5 L1229.6,419.0 L1233.6,418.6 L1237.7,418.1 L1241.7,417.6 L1245.7,417.2 L1249.7,416.7 L1253.7,416.3 L1257.7,415.8 L1261.8,415.4 L1265.8,415.0 L1269.8,414.7 L1273.8,414.3 L1277.8,414.0 L1281.8,413.7 L1285.9,413.4 L1289.9,413.1 L1293.9,412.8 L1297.9,412.6 L1301.9,412.4 L1306.0,412.2 L1310.0,412.1 L1314.0,412.0 L1318.0,411.9 L1322.0,411.8 L1326.0,411.8 L1330.1,411.8 L1334.1,411.8 L1338.1,411.8 L1342.1,411.9 L1346.1,412.0 L1350.1,412.2 L1354.2,412.4 L1358.2,412.6 L1362.2,412.8 L1366.2,413.1 L1370.2,413.4 L1374.2,413.8 L1378.3,414.2 L1382.3,414.6 L1386.3,415.0 L1390.3,415.5 L1394.3,416.0 L1398.3,416.5 L1402.4,417.1 L1406.4,417.6 L1410.4,418.2 L1414.4,418.8 L1418.4,419.3 L1422.4,419.9 L1426.5,420.3 L1430.5,420.8 L1434.5,421.2 L1438.5,421.4 L1442.5,421.6 L1446.5,421.6 L1450.6,421.5 L1454.6,421.1 L1458.6,420.5 L1462.6,419.7 L1466.6,418.6 L1470.6,417.2 L1474.7,415.5 L1478.7,413.4 L1482.7,411.0 L1486.7,408.3 L1490.7,405.2 L1494.8,401.8 L1498.8,398.2 L1502.8,394.4 L1506.8,390.4 L1510.8,386.3 L1514.8,382.3 L1518.9,378.4 L1522.9,374.7 L1526.9,371.3 L1530.9,368.3 L1534.9,365.8 L1538.9,363.9 L1543.0,362.6 L1547.0,362.0 L1551.0,362.2 L1555.0,363.2 L1559.0,364.9 L1563.0,367.3 L1567.1,370.5 L1571.1,374.2 L1575.1,378.5 L1579.1,383.1 L1583.1,387.9 L1587.1,392.8 L1591.2,397.4 L1595.2,401.6 L1599.2,405.1 L1603.2,407.5 L1607.2,408.9 L1611.2,409.0 L1615.3,408.1 L1619.3,406.2 L1623.3,404.0 L1627.3,401.9 L1631.3,400.4 L1635.3,400.3 L1639.4,401.8 L1643.4,405.2 L1647.4,410.4 L1651.4,416.6 L1655.4,422.4 L1659.4,426.2 L1663.5,426.9 L1667.5,424.3 L1671.5,419.7 L1675.5,415.4 L1679.5,414.2 L1683.5,417.8 L1687.6,426.2 L1691.6,437.6 L1695.6,449.7 L1699.6,460.2 L1703.6,468.0 L1707.7,473.2 L1711.7,476.2 L1715.7,477.9 L1719.7,478.9 L1723.7,479.5 L1727.7,479.9 L1731.8,480.3 L1735.8,480.7 L1739.8,481.1 L1743.8,481.5 L1747.8,481.8 L1751.8,482.2 L1755.9,482.5 L1759.9,482.9 L1763.9,483.2 L1767.9,483.6 L1771.9,483.9 L1775.9,484.2 L1780.0,484.5 L1784.0,484.9 L1788.0,485.2 L1792.0,485.5 L1796.0,485.8 L1800.0,486.1 L1804.1,486.4 L1808.1,486.7 L1812.1,487.0 L1816.1,487.3 L1820.1,487.6 L1822.0,487.7" fill="none" stroke="#000" stroke-width="3" shape-rendering="crispEdges"/>
<path d="M205.0,737.2 L209.0,728.5 L213.0,712.1 L217.1,715.9 L221.1,708.9 L225.1,725.2 L229.1,758.4 L233.1,732.7 L237.1,716.0 L241.2,736.6 L245.2,742.6 L249.2,736.7 L253.2,714.6 L257.2,724.0 L261.2,745.0 L265.3,711.0 L269.3,712.3 L273.3,691.2 L277.3,691.7 L281.3,685.7 L285.3,712.3 L289.4,704.7 L293.4,726.2 L297.4,735.7 L301.4,728.0 L305.4,680.2 L309.4,700.2 L313.5,724.6 L317.5,731.3 L321.5,700.6 L325.5,708.0 L329.5,706.1 L333.5,705.2 L337.6,742.1 L341.6,720.3 L345.6,720.5 L349.6,743.6 L353.6,722.1 L357.6,719.6 L361.7,727.0 L365.7,727.4 L369.7,702.0 L373.7,716.6 L377.7,750.6 L381.7,704.5 L385.8,727.8 L389.8,731.5 L393.8,710.9 L397.8,755.0 L401.8,751.0 L405.8,703.8 L409.9,712.6 L413.9,731.3 L417.9,720.1 L421.9,730.3 L425.9,722.2 L430.0,730.0 L434.0,749.7 L438.0,714.9 L442.0,715.0 L446.0,708.5 L450.0,714.2 L454.1,693.3 L458.1,694.4 L462.1,705.7 L466.1,728.9 L470.1,741.3 L474.1,696.1 L478.2,687.0 L482.2,717.8 L486.2,678.4 L490.2,687.0 L494.2,705.0 L498.2,732.9 L502.3,732.0 L506.3,708.2 L510.3,699.5 L514.3,701.1 L518.3,735.0 L522.3,711.4 L526.4,698.8 L530.4,711.8 L534.4,707.6 L538.4,702.5 L542.4,684.6 L546.4,698.2 L550.5,698.2 L554.5,725.0 L558.5,727.4 L562.5,710.9 L566.5,718.7 L570.5,705.1 L574.6,723.5 L578.6,714.3 L582.6,717.4 L586.6,687.0 L590.6,703.7 L594.6,678.2 L598.7,656.8 L602.7,686.6 L606.7,688.7 L610.7,704.3 L614.7,751.2 L618.8,709.8 L622.8,691.2 L626.8,708.5 L630.8,720.3 L634.8,710.5 L638.8,705.4 L642.9,722.4 L646.9,726.2 L650.9,696.6 L654.9,703.2 L658.9,712.9 L662.9,694.1 L667.0,710.8 L671.0,700.4 L675.0,726.3 L679.0,725.9 L683.0,718.7 L687.0,705.9 L691.1,710.0 L695.1,679.4 L699.1,681.9 L703.1,716.1 L707.1,681.6 L711.1,718.3 L715.2,692.8 L719.2,719.9 L723.2,709.0 L727.2,727.2 L731.2,727.3 L735.2,692.0 L739.3,730.8 L743.3,754.6 L747.3,728.3 L751.3,713.3 L755.3,713.6 L759.3,699.2 L763.4,730.7 L767.4,715.5 L771.4,712.0 L775.4,701.5 L779.4,698.6 L783.4,687.3 L787.5,728.0 L791.5,720.1 L795.5,729.4 L799.5,719.4 L803.5,698.9 L807.5,699.6 L811.6,697.3 L815.6,705.1 L819.6,701.4 L823.6,699.3 L827.6,679.5 L831.7,681.4 L835.7,729.3 L839.7,704.5 L843.7,680.2 L847.7,702.1 L851.7,731.1 L855.8,686.9 L859.8,688.5 L863.8,689.8 L867.8,666.4 L871.8,703.3 L875.8,707.9 L879.9,704.5 L883.9,690.9 L887.9,707.3 L891.9,698.9 L895.9,699.8 L899.9,686.4 L904.0,678.7 L908.0,724.9 L912.0,711.6 L916.0,714.2 L920.0,715.8 L924.0,707.9 L928.1,705.6 L932.1,727.4 L936.1,720.9 L940.1,719.1 L944.1,725.4 L948.1,749.4 L952.2,751.1 L956.2,744.6 L960.2,728.0 L964.2,709.1 L968.2,747.1 L972.2,766.4 L976.3,749.2 L980.3,755.9 L984.3,767.3 L988.3,772.2 L992.3,776.5 L996.3,754.9 L1000.4,782.3 L1004.4,749.5 L1008.4,769.3 L1012.4,779.7 L1016.4,785.7 L1020.5,808.0 L1024.5,809.8 L1028.5,762.3 L1032.5,735.8 L1036.5,777.6 L1040.5,764.4 L1044.6,770.4 L1048.6,793.7 L1052.6,757.1 L1056.6,732.5 L1060.6,771.7 L1064.6,785.4 L1068.7,779.6 L1072.7,783.1 L1076.7,769.9 L1080.7,752.7 L1084.7,772.1 L1088.7,767.7 L1092.8,750.6 L1096.8,783.6 L1100.8,788.8 L1104.8,793.0 L1108.8,771.9 L1112.8,767.8 L1116.9,764.0 L1120.9,763.4 L1124.9,782.7 L1128.9,772.9 L1132.9,785.5 L1136.9,792.8 L1141.0,821.5 L1145.0,773.3 L1149.0,788.6 L1153.0,786.9 L1157.0,780.9 L1161.0,755.9 L1165.1,762.4 L1169.1,789.5 L1173.1,782.8 L1177.1,779.2 L1181.1,773.2 L1185.1,794.8 L1189.2,783.8 L1193.2,737.3 L1197.2,747.5 L1201.2,735.1 L1205.2,724.8 L1209.2,740.7 L1213.3,790.8 L1217.3,780.7 L1221.3,750.0 L1225.3,744.9 L1229.3,781.3 L1233.4,778.0 L1237.4,768.7 L1241.4,765.4 L1245.4,765.5 L1249.4,778.6 L1253.4,778.7 L1257.5,770.5 L1261.5,746.0 L1265.5,763.3 L1269.5,752.8 L1273.5,774.3 L1277.5,745.5 L1281.6,748.1 L1285.6,757.5 L1289.6,735.3 L1293.6,777.7 L1297.6,793.5 L1301.6,758.5 L1305.7,765.9 L1309.7,767.2 L1313.7,713.3 L1317.7,741.3 L1321.7,755.1 L1325.7,755.1 L1329.8,736.2 L1333.8,741.7 L1337.8,748.6 L1341.8,772.1 L1345.8,766.8 L1349.8,755.2 L1353.9,778.7 L1357.9,753.9 L1361.9,742.6 L1365.9,719.7 L1369.9,767.3 L1373.9,780.0 L1378.0,775.3 L1382.0,771.0 L1386.0,760.2 L1390.0,758.5 L1394.0,751.7 L1398.0,749.8 L1402.1,754.9 L1406.1,781.5 L1410.1,775.7 L1414.1,759.6 L1418.1,747.3 L1422.2,743.5 L1426.2,781.3 L1430.2,778.6 L1434.2,764.7 L1438.2,755.7 L1442.2,741.0 L1446.3,754.2 L1450.3,777.7 L1454.3,763.8 L1458.3,759.1 L1462.3,761.3 L1466.3,767.8 L1470.4,742.6 L1474.4,754.8 L1478.4,754.4 L1482.4,779.8 L1486.4,764.4 L1490.4,776.0 L1494.5,800.4 L1498.5,775.6 L1502.5,757.4 L1506.5,766.6 L1510.5,765.7 L1514.5,744.1 L1518.6,756.5 L1522.6,785.5 L1526.6,750.8 L1530.6,728.1 L1534.6,704.9 L1538.6,711.5 L1542.7,683.8 L1546.7,664.8 L1550.7,694.4 L1554.7,664.5 L1558.7,674.6 L1562.7,688.5 L1566.8,666.6 L1570.8,661.5 L1574.8,687.6 L1578.8,665.4 L1582.8,651.3 L1586.8,644.9 L1590.9,672.9 L1594.9,716.3 L1598.9,727.9 L1602.9,702.9 L1606.9,699.3 L1610.9,710.1 L1615.0,726.9 L1619.0,722.6 L1623.0,722.8 L1627.0,722.6 L1631.0,709.8 L1635.1,708.5 L1639.1,715.4 L1643.1,716.0 L1647.1,729.0 L1651.1,761.0 L1655.1,754.7 L1659.2,741.6 L1663.2,711.5 L1667.2,732.7 L1671.2,704.9 L1675.2,693.6 L1679.2,728.6 L1683.3,736.8 L1687.3,720.4 L1691.3,691.3 L1695.3,708.0 L1699.3,720.4 L1703.3,751.4 L1707.4,799.9 L1711.4,792.9 L1715.4,779.5 L1719.4,782.1 L1723.4,811.6 L1727.4,829.2 L1731.5,823.4 L1735.5,846.2 L1739.5,841.0 L1743.5,874.7 L1747.5,892.6 L1751.5,895.9 L1755.6,873.7 L1759.6,881.7 L1763.6,879.4 L1767.6,872.7 L1771.6,873.2 L1775.6,859.5 L1779.7,852.3 L1783.7,888.1 L1787.7,887.8 L1791.7,889.1 L1795.7,905.3 L1799.7,867.9 L1803.8,866.6 L1807.8,888.9 L1811.8,899.4 L1815.8,889.6 L1819.8,907.9 L1823.9,904.8 L1827.9,878.0 L1831.9,874.4 L1835.9,904.6 L1839.9,911.0 L1843.9,872.4" fill="none" stroke="#000000" stroke-width="3" shape-rendering="crispEdges"/>
<path d="M205.0,731.4 L209.0,731.5 L213.0,731.6 L217.1,731.7 L221.1,731.7 L225.1,731.8 L229.1,731.8 L233.1,731.9 L237.1,731.9 L241.2,731.9 L245.2,731.9 L249.2,731.9 L253.2,731.9 L257.2,731.8 L261.2,731.8 L265.3,731.7 L269.3,731.6 L273.3,731.5 L277.3,731.4 L281.3,731.3 L285.3,731.1 L289.4,731.0 L293.4,730.8 L297.4,730.6 L301.4,730.4 L305.4,730.2 L309.4,730.0 L313.5,729.7 L317.5,729.5 L321.5,729.2 L325.5,728.9 L329.5,728.6 L333.5,728.3 L337.6,728.0 L341.6,727.6 L345.6,727.3 L349.6,726.9 L353.6,726.5 L357.6,726.2 L361.7,725.8 L365.7,725.4 L369.7,724.9 L373.7,724.5 L377.7,724.1 L381.7,723.6 L385.8,723.2 L389.8,722.7 L393.8,722.2 L397.8,721.8 L401.8,721.3 L405.8,720.8 L409.9,720.3 L413.9,719.8 L417.9,719.3 L421.9,718.8 L425.9,718.3 L430.0,717.8 L434.0,717.3 L438.0,716.8 L442.0,716.3 L446.0,715.8 L450.0,715.3 L454.1,714.8 L458.1,714.3 L462.1,713.8 L466.1,713.4 L470.1,712.9 L474.1,712.4 L478.2,712.0 L482.2,711.6 L486.2,711.1 L490.2,710.7 L494.2,710.3 L498.2,709.9 L502.3,709.6 L506.3,709.2 L510.3,708.9 L514.3,708.6 L518.3,708.3 L522.3,708.0 L526.4,707.7 L530.4,707.5 L534.4,707.3 L538.4,707.1 L542.4,706.9 L546.4,706.8 L550.5,706.7 L554.5,706.6 L558.5,706.5 L562.5,706.5 L566.5,706.5 L570.5,706.5 L574.6,706.6 L578.6,706.6 L582.6,706.8 L586.6,706.9 L590.6,707.1 L594.6,707.3 L598.7,707.5 L602.7,707.8 L606.7,708.1 L610.7,708.4 L614.7,708.8 L618.8,709.1 L622.8,709.6 L626.8,710.0 L630.8,710.5 L634.8,711.0 L638.8,711.6 L642.9,712.2 L646.9,712.8 L650.9,713.4 L654.9,714.1 L658.9,714.8 L662.9,715.6 L667.0,716.3 L671.0,717.1 L675.0,718.0 L679.0,718.8 L683.0,719.7 L687.0,720.6 L691.1,721.5 L695.1,722.5 L699.1,723.5 L703.1,724.5 L707.1,725.5 L711.1,726.6 L715.2,727.7 L719.2,728.8 L723.2,729.9 L727.2,731.0 L731.2,732.2 L735.2,733.4 L739.3,734.6 L743.3,735.8 L747.3,737.0 L751.3,738.3 L755.3,739.5 L759.3,740.8 L763.4,742.1 L767.4,743.3 L771.4,744.6 L775.4,745.9 L779.4,747.3 L783.4,748.6 L787.5,749.9 L791.5,751.2 L795.5,752.6 L799.5,753.9 L803.5,755.3 L807.5,756.6 L811.6,757.9 L815.6,759.3 L819.6,760.6 L823.6,762.0 L827.6,763.3 L831.7,764.6 L835.7,766.0 L839.7,767.3 L843.7,768.6 L847.7,769.9 L851.7,771.2 L855.8,772.5 L859.8,773.8 L863.8,775.1 L867.8,776.4 L871.8,777.6 L875.8,778.9 L879.9,780.1 L883.9,781.3 L887.9,782.6 L891.9,783.8 L895.9,785.0 L899.9,786.1 L904.0,787.3 L908.0,788.5 L912.0,789.6 L916.0,790.7 L920.0,791.9 L924.0,793.0 L928.1,794.1 L932.1,795.1 L936.1,796.2 L940.1,797.2 L944.1,798.3 L948.1,799.3 L952.2,800.3 L956.2,801.3 L960.2,802.3 L964.2,803.2 L968.2,804.2 L972.2,805.1 L976.3,806.0 L980.3,806.9 L984.3,807.8 L988.3,808.7 L992.3,809.5 L996.3,810.4 L1000.4,811.2 L1004.4,812.0 L1008.4,812.9 L1012.4,813.7 L1016.4,814.4 L1020.5,815.2 L1024.5,816.0 L1028.5,816.7 L1032.5,817.5 L1036.5,818.2 L1040.5,818.9 L1044.6,819.6 L1048.6,820.3 L1052.6,821.0 L1056.6,821.7 L1060.6,822.3 L1064.6,823.0 L1068.7,823.6 L1072.7,824.3 L1076.7,824.9 L1080.7,825.5 L1084.7,826.1 L1088.7,826.7 L1092.8,827.3 L1096.8,827.9 L1100.8,828.5 L1104.8,829.0 L1108.8,829.6 L1112.8,830.2 L1116.9,830.7 L1120.9,831.3 L1124.9,831.8 L1128.9,832.3 L1132.9,832.9 L1136.9,833.4 L1141.0,833.9 L1145.0,834.4 L1149.0,834.9 L1153.0,835.4 L1157.0,835.9 L1161.0,836.4 L1165.1,836.9 L1169.1,837.4 L1173.1,837.9 L1177.1,838.4 L1181.1,838.9 L1185.1,839.3 L1189.2,839.8 L1193.2,840.3 L1197.2,840.7 L1201.2,841.2 L1205.2,841.7 L1209.2,842.1 L1213.3,842.6 L1217.3,843.0 L1221.3,843.5 L1225.3,843.9 L1229.3,844.4 L1233.4,844.8 L1237.4,845.3 L1241.4,845.7 L1245.4,846.2 L1249.4,846.6 L1253.4,847.0 L1257.5,847.5 L1261.5,847.9 L1265.5,848.4 L1269.5,848.8 L1273.5,849.2 L1277.5,849.7 L1281.6,850.1 L1285.6,850.5 L1289.6,850.9 L1293.6,851.4 L1297.6,851.8 L1301.6,852.2 L1305.7,852.7 L1309.7,853.1 L1313.7,853.5 L1317.7,853.9 L1321.7,854.4 L1325.7,854.8 L1329.8,855.2 L1333.8,855.6 L1337.8,856.1 L1341.8,856.5 L1345.8,856.9 L1349.8,857.3 L1353.9,857.7 L1357.9,858.2 L1361.9,858.6 L1365.9,859.0 L1369.9,859.4 L1373.9,859.9 L1378.0,860.3 L1382.0,860.7 L1386.0,861.1 L1390.0,861.5 L1394.0,862.0 L1398.0,862.4 L1402.1,862.8 L1406.1,863.2 L1410.1,863.6 L1414.1,864.1 L1418.1,864.5 L1422.2,864.9 L1426.2,865.3 L1430.2,865.7 L1434.2,866.2 L1438.2,866.6 L1442.2,867.0 L1446.3,867.4 L1450.3,867.8 L1454.3,868.3 L1458.3,868.7 L1462.3,869.1 L1466.3,869.5 L1470.4,869.9 L1474.4,870.4 L1478.4,870.8 L1482.4,871.2 L1486.4,871.6 L1490.4,872.0 L1494.5,872.4 L1498.5,872.9 L1502.5,873.3 L1506.5,873.7 L1510.5,874.1 L1514.5,874.5 L1518.6,875.0 L1522.6,875.4 L1526.6,875.8 L1530.6,876.2 L1534.6,876.6 L1538.6,877.1 L1542.7,877.5 L1546.7,877.8 L1550.7,878.2 L1554.7,878.6 L1558.7,879.0 L1562.7,879.4 L1566.8,879.8 L1570.8,880.2 L1574.8,880.5 L1578.8,880.9 L1582.8,881.3 L1586.8,881.7 L1590.9,882.1 L1594.9,882.5 L1598.9,882.9 L1602.9,883.2 L1606.9,883.6 L1610.9,884.0 L1615.0,884.4 L1619.0,884.8 L1623.0,885.2 L1627.0,885.6 L1631.0,885.9 L1635.1,886.3 L1639.1,886.7 L1643.1,887.1 L1647.1,887.5 L1651.1,887.9 L1655.1,888.3 L1659.2,888.6 L1663.2,889.0 L1667.2,889.4 L1671.2,889.8 L1675.2,890.2 L1679.2,890.6 L1683.3,891.0 L1687.3,891.3 L1691.3,891.7 L1695.3,892.2 L1699.3,892.6 L1703.3,893.1 L1707.4,893.5 L1711.4,894.0 L1715.4,894.4 L1719.4,894.9 L1723.4,895.3 L1727.4,895.8 L1731.5,896.2 L1735.5,896.7 L1739.5,897.1 L1743.5,897.6 L1747.5,898.0 L1751.5,898.5 L1755.6,898.9 L1759.6,899.4 L1763.6,899.9 L1767.6,900.3 L1771.6,900.8 L1775.6,901.2 L1779.7,901.7 L1783.7,902.1 L1787.7,902.6 L1791.7,903.0 L1795.7,903.5 L1799.7,903.9 L1803.8,904.4 L1807.8,904.8 L1811.8,905.3 L1815.8,905.7 L1819.8,906.2 L1823.9,906.6 L1827.9,907.1 L1831.9,907.5 L1835.9,908.0 L1839.9,908.4 L1843.9,908.9 L1847.0,909.2" fill="none" stroke="#00ff00" stroke-width="3" shape-rendering="crispEdges"/>
<path d="M205.0,738.0 L209.0,738.4 L213.0,738.8 L217.1,739.3 L221.1,739.7 L225.1,740.1 L229.1,740.5 L233.1,740.9 L237.1,741.4 L241.2,741.8 L245.2,742.2 L249.2,742.6 L253.2,743.0 L257.2,743.4 L261.2,743.9 L265.3,744.3 L269.3,744.7 L273.3,745.1 L277.3,745.5 L281.3,746.0 L285.3,746.4 L289.4,746.8 L293.4,747.2 L297.4,747.6 L301.4,748.1 L305.4,748.5 L309.4,748.9 L313.5,749.3 L317.5,749.7 L321.5,750.1 L325.5,750.6 L329.5,751.0 L333.5,751.4 L337.6,751.8 L341.6,752.2 L345.6,752.7 L349.6,753.1 L353.6,753.5 L357.6,753.9 L361.7,754.3 L365.7,754.8 L369.7,755.2 L373.7,755.6 L377.7,756.0 L381.7,756.4 L385.8,756.8 L389.8,757.3 L393.8,757.7 L397.8,758.1 L401.8,758.5 L405.8,758.9 L409.9,759.4 L413.9,759.8 L417.9,760.2 L421.9,760.6 L425.9,761.0 L430.0,761.5 L434.0,761.9 L438.0,762.3 L442.0,762.7 L446.0,763.1 L450.0,763.5 L454.1,764.0 L458.1,764.4 L462.1,764.8 L466.1,765.2 L470.1,765.6 L474.1,766.1 L478.2,766.5 L482.2,766.9 L486.2,767.3 L490.2,767.7 L494.2,768.2 L498.2,768.6 L502.3,769.0 L506.3,769.4 L510.3,769.8 L514.3,770.2 L518.3,770.7 L522.3,771.1 L526.4,771.5 L530.4,771.9 L534.4,772.3 L538.4,772.7 L542.4,773.2 L546.4,773.6 L550.5,774.0 L554.5,774.4 L558.5,774.8 L562.5,775.2 L566.5,775.6 L570.5,776.0 L574.6,776.5 L578.6,776.9 L582.6,777.3 L586.6,777.7 L590.6,778.0 L594.6,778.4 L598.7,778.8 L602.7,779.2 L606.7,779.6 L610.7,780.0 L614.7,780.3 L618.8,780.7 L622.8,781.0 L626.8,781.3 L630.8,781.7 L634.8,782.0 L638.8,782.3 L642.9,782.6 L646.9,782.8 L650.9,783.1 L654.9,783.3 L658.9,783.5 L662.9,783.7 L667.0,783.8 L671.0,783.9 L675.0,784.0 L679.0,784.1 L683.0,784.1 L687.0,784.0 L691.1,784.0 L695.1,783.9 L699.1,783.7 L703.1,783.5 L707.1,783.2 L711.1,782.9 L715.2,782.5 L719.2,782.1 L723.2,781.6 L727.2,781.0 L731.2,780.4 L735.2,779.7 L739.3,778.9 L743.3,778.1 L747.3,777.2 L751.3,776.2 L755.3,775.1 L759.3,774.0 L763.4,772.8 L767.4,771.6 L771.4,770.3 L775.4,768.9 L779.4,767.5 L783.4,766.0 L787.5,764.5 L791.5,762.9 L795.5,761.4 L799.5,759.7 L803.5,758.1 L807.5,756.5 L811.6,754.8 L815.6,753.2 L819.6,751.6 L823.6,750.0 L827.6,748.5 L831.7,747.0 L835.7,745.5 L839.7,744.1 L843.7,742.8 L847.7,741.6 L851.7,740.5 L855.8,739.5 L859.8,738.6 L863.8,737.8 L867.8,737.1 L871.8,736.6 L875.8,736.2 L879.9,736.0 L883.9,735.9 L887.9,735.9 L891.9,736.2 L895.9,736.5 L899.9,737.1 L904.0,737.8 L908.0,738.6 L912.0,739.5 L916.0,740.7 L920.0,741.9 L924.0,743.3 L928.1,744.8 L932.1,746.4 L936.1,748.2 L940.1,750.0 L944.1,752.0 L948.1,754.0 L952.2,756.1 L956.2,758.3 L960.2,760.5 L964.2,762.8 L968.2,765.2 L972.2,767.6 L976.3,770.0 L980.3,772.4 L984.3,774.8 L988.3,777.3 L992.3,779.7 L996.3,782.1 L1000.4,784.5 L1004.4,786.8 L1008.4,789.1 L1012.4,791.4 L1016.4,793.6 L1020.5,795.8 L1024.5,797.9 L1028.5,800.0 L1032.5,802.0 L1036.5,803.9 L1040.5,805.8 L1044.6,807.6 L1048.6,809.4 L1052.6,811.0 L1056.6,812.7 L1060.6,814.2 L1064.6,815.7 L1068.7,817.1 L1072.7,818.5 L1076.7,819.7 L1080.7,821.0 L1084.7,822.2 L1088.7,823.3 L1092.8,824.3 L1096.8,825.4 L1100.8,826.3 L1104.8,827.3 L1108.8,828.1 L1112.8,829.0 L1116.9,829.8 L1120.9,830.6 L1124.9,831.3 L1128.9,832.0 L1132.9,832.7 L1136.9,833.3 L1141.0,834.0 L1145.0,834.6 L1149.0,835.2 L1153.0,835.7 L1157.0,836.3 L1161.0,836.8 L1165.1,837.4 L1169.1,837.9 L1173.1,838.4 L1177.1,838.9 L1181.1,839.4 L1185.1,839.8 L1189.2,840.3 L1193.2,840.8 L1197.2,841.2 L1201.2,841.7 L1205.2,842.1 L1209.2,842.6 L1213.3,843.0 L1217.3,843.4 L1221.3,843.9 L1225.3,844.3 L1229.3,844.7 L1233.4,845.2 L1237.4,845.6 L1241.4,846.0 L1245.4,846.5 L1249.4,846.9 L1253.4,847.3 L1257.5,847.7 L1261.5,848.1 L1265.5,848.6 L1269.5,849.0 L1273.5,849.4 L1277.5,849.8 L1281.6,850.2 L1285.6,850.7 L1289.6,851.1 L1293.6,851.5 L1297.6,851.9 L1301.6,852.3 L1305.7,852.8 L1309.7,853.2 L1313.7,853.6 L1317.7,854.0 L1321.7,854.4 L1325.7,854.9 L1329.8,855.3 L1333.8,855.7 L1337.8,856.1 L1341.8,856.5 L1345.8,857.0 L1349.8,857.4 L1353.9,857.8 L1357.9,858.2 L1361.9,858.6 L1365.9,859.0 L1369.9,859.5 L1373.9,859.9 L1378.0,860.3 L1382.0,860.7 L1386.0,861.1 L1390.0,861.6 L1394.0,862.0 L1398.0,862.4 L1402.1,862.8 L1406.1,863.2 L1410.1,863.7 L1414.1,864.1 L1418.1,864.5 L1422.2,864.9 L1426.2,865.3 L1430.2,865.7 L1434.2,866.2 L1438.2,866.6 L1442.2,867.0 L1446.3,867.4 L1450.3,867.8 L1454.3,868.3 L1458.3,868.7 L1462.3,869.1 L1466.3,869.5 L1470.4,869.9 L1474.4,870.4 L1478.4,870.8 L1482.4,871.2 L1486.4,871.6 L1490.4,872.0 L1494.5,872.5 L1498.5,872.9 L1502.5,873.3 L1506.5,873.7 L1510.5,874.1 L1514.5,874.5 L1518.6,875.0 L1522.6,875.4 L1526.6,875.8 L1530.6,876.2 L1534.6,876.6 L1538.6,877.1 L1542.7,877.5 L1546.7,877.8 L1550.7,878.2 L1554.7,878.6 L1558.7,879.0 L1562.7,879.4 L1566.8,879.8 L1570.8,880.2 L1574.8,880.5 L1578.8,880.9 L1582.8,881.3 L1586.8,881.7 L1590.9,882.1 L1594.9,882.5 L1598.9,882.9 L1602.9,883.2 L1606.9,883.6 L1610.9,884.0 L1615.0,884.4 L1619.0,884.8 L1623.0,885.2 L1627.0,885.6 L1631.0,885.9 L1635.1,886.3 L1639.1,886.7 L1643.1,887.1 L1647.1,887.5 L1651.1,887.9 L1655.1,888.3 L1659.2,888.6 L1663.2,889.0 L1667.2,889.4 L1671.2,889.8 L1675.2,890.2 L1679.2,890.6 L1683.3,891.0 L1687.3,891.3 L1691.3,891.7 L1695.3,892.2 L1699.3,892.6 L1703.3,893.1 L1707.4,893.5 L1711.4,894.0 L1715.4,894.4 L1719.4,894.9 L1723.4,895.3 L1727.4,895.8 L1731.5,896.2 L1735.5,896.7 L1739.5,897.1 L1743.5,897.6 L1747.5,898.0 L1751.5,898.5 L1755.6,898.9 L1759.6,899.4 L1763.6,899.9 L1767.6,900.3 L1771.6,900.8 L1775.6,901.2 L1779.7,901.7 L1783.7,902.1 L1787.7,902.6 L1791.7,903.0 L1795.7,903.5 L1799.7,903.9 L1803.8,904.4 L1807.8,904.8 L1811.8,905.3 L1815.8,905.7 L1819.8,906.2 L1823.9,906.6 L1827.9,907.1 L1831.9,907.5 L1835.9,908.0 L1839.9,908.4 L1843.9,908.9 L1847.0,909.2" fill="none" stroke="#0000ff" stroke-width="3" shape-rendering="crispEdges"/>
<path d="M205.0,738.0 L209.0,738.4 L213.0,738.8 L217.1,739.3 L221.1,739.7 L225.1,740.1 L229.1,740.5 L233.1,740.9 L237.1,741.4 L241.2,741.8 L245.2,742.2 L249.2,742.6 L253.2,743.0 L257.2,743.4 L261.2,743.9 L265.3,744.3 L269.3,744.7 L273.3,745.1 L277.3,745.5 L281.3,746.0 L285.3,746.4 L289.4,746.8 L293.4,747.2 L297.4,747.6 L301.4,748.1 L305.4,748.5 L309.4,748.9 L313.5,749.3 L317.5,749.7 L321.5,750.1 L325.5,750.6 L329.5,751.0 L333.5,751.4 L337.6,751.8 L341.6,752.2 L345.6,752.7 L349.6,753.1 L353.6,753.5 L357.6,753.9 L361.7,754.3 L365.7,754.8 L369.7,755.2 L373.7,755.6 L377.7,756.0 L381.7,756.4 L385.8,756.8 L389.8,757.3 L393.8,757.7 L397.8,758.1 L401.8,758.5 L405.8,758.9 L409.9,759.4 L413.9,759.8 L417.9,760.2 L421.9,760.6 L425.9,761.0 L430.0,761.5 L434.0,761.9 L438.0,762.3 L442.0,762.7 L446.0,763.1 L450.0,763.5 L454.1,764.0 L458.1,764.4 L462.1,764.8 L466.1,765.2 L470.1,765.6 L474.1,766.1 L478.2,766.5 L482.2,766.9 L486.2,767.3 L490.2,767.7 L494.2,768.2 L498.2,768.6 L502.3,769.0 L506.3,769.4 L510.3,769.8 L514.3,770.2 L518.3,770.7 L522.3,771.1 L526.4,771.5 L530.4,771.9 L534.4,772.3 L538.4,772.7 L542.4,773.2 L546.4,773.6 L550.5,774.0 L554.5,774.4 L558.5,774.8 L562.5,775.3 L566.5,775.7 L570.5,776.1 L574.6,776.5 L578.6,776.9 L582.6,777.3 L586.6,777.7 L590.6,778.2 L594.6,778.6 L598.7,779.0 L602.7,779.4 L606.7,779.8 L610.7,780.2 L614.7,780.7 L618.8,781.1 L622.8,781.5 L626.8,781.9 L630.8,782.3 L634.8,782.7 L638.8,783.1 L642.9,783.5 L646.9,783.9 L650.9,784.4 L654.9,784.8 L658.9,785.2 L662.9,785.6 L667.0,786.0 L671.0,786.4 L675.0,786.8 L679.0,787.2 L683.0,787.6 L687.0,788.0 L691.1,788.4 L695.1,788.8 L699.1,789.2 L703.1,789.6 L707.1,790.0 L711.1,790.4 L715.2,790.8 L719.2,791.2 L723.2,791.6 L727.2,792.0 L731.2,792.3 L735.2,792.7 L739.3,793.1 L743.3,793.5 L747.3,793.9 L751.3,794.2 L755.3,794.6 L759.3,795.0 L763.4,795.4 L767.4,795.7 L771.4,796.1 L775.4,796.4 L779.4,796.8 L783.4,797.1 L787.5,797.5 L791.5,797.8 L795.5,798.2 L799.5,798.5 L803.5,798.8 L807.5,799.2 L811.6,799.5 L815.6,799.8 L819.6,800.1 L823.6,800.4 L827.6,800.7 L831.7,801.0 L835.7,801.3 L839.7,801.6 L843.7,801.9 L847.7,802.2 L851.7,802.4 L855.8,802.7 L859.8,802.9 L863.8,803.2 L867.8,803.4 L871.8,803.6 L875.8,803.9 L879.9,804.1 L883.9,804.3 L887.9,804.5 L891.9,804.6 L895.9,804.8 L899.9,805.0 L904.0,805.1 L908.0,805.3 L912.0,805.4 L916.0,805.5 L920.0,805.6 L924.0,805.7 L928.1,805.8 L932.1,805.9 L936.1,805.9 L940.1,806.0 L944.1,806.0 L948.1,806.0 L952.2,806.0 L956.2,806.0 L960.2,806.0 L964.2,805.9 L968.2,805.9 L972.2,805.8 L976.3,805.7 L980.3,805.6 L984.3,805.5 L988.3,805.4 L992.3,805.2 L996.3,805.0 L1000.4,804.9 L1004.4,804.7 L1008.4,804.4 L1012.4,804.2 L1016.4,803.9 L1020.5,803.7 L1024.5,803.4 L1028.5,803.1 L1032.5,802.7 L1036.5,802.4 L1040.5,802.0 L1044.6,801.6 L1048.6,801.2 L1052.6,800.8 L1056.6,800.4 L1060.6,799.9 L1064.6,799.4 L1068.7,798.9 L1072.7,798.4 L1076.7,797.9 L1080.7,797.3 L1084.7,796.8 L1088.7,796.2 L1092.8,795.6 L1096.8,795.0 L1100.8,794.4 L1104.8,793.7 L1108.8,793.0 L1112.8,792.4 L1116.9,791.7 L1120.9,791.0 L1124.9,790.2 L1128.9,789.5 L1132.9,788.7 L1136.9,788.0 L1141.0,787.2 L1145.0,786.4 L1149.0,785.6 L1153.0,784.8 L1157.0,784.0 L1161.0,783.2 L1165.1,782.4 L1169.1,781.5 L1173.1,780.7 L1177.1,779.8 L1181.1,779.0 L1185.1,778.1 L1189.2,777.3 L1193.2,776.4 L1197.2,775.6 L1201.2,774.7 L1205.2,773.8 L1209.2,773.0 L1213.3,772.1 L1217.3,771.3 L1221.3,770.4 L1225.3,769.6 L1229.3,768.8 L1233.4,768.0 L1237.4,767.2 L1241.4,766.4 L1245.4,765.6 L1249.4,764.8 L1253.4,764.1 L1257.5,763.3 L1261.5,762.6 L1265.5,761.9 L1269.5,761.2 L1273.5,760.5 L1277.5,759.9 L1281.6,759.3 L1285.6,758.7 L1289.6,758.1 L1293.6,757.6 L1297.6,757.0 L1301.6,756.5 L1305.7,756.1 L1309.7,755.6 L1313.7,755.2 L1317.7,754.8 L1321.7,754.5 L1325.7,754.2 L1329.8,753.9 L1333.8,753.7 L1337.8,753.5 L1341.8,753.3 L1345.8,753.1 L1349.8,753.0 L1353.9,753.0 L1357.9,753.0 L1361.9,753.0 L1365.9,753.0 L1369.9,753.1 L1373.9,753.3 L1378.0,753.4 L1382.0,753.6 L1386.0,753.9 L1390.0,754.2 L1394.0,754.5 L1398.0,754.9 L1402.1,755.3 L1406.1,755.8 L1410.1,756.3 L1414.1,756.8 L1418.1,757.4 L1422.2,758.1 L1426.2,758.7 L1430.2,759.5 L1434.2,760.2 L1438.2,761.0 L1442.2,761.9 L1446.3,762.7 L1450.3,763.7 L1454.3,764.6 L1458.3,765.6 L1462.3,766.6 L1466.3,767.7 L1470.4,768.8 L1474.4,770.0 L1478.4,771.1 L1482.4,772.4 L1486.4,773.6 L1490.4,774.9 L1494.5,776.2 L1498.5,777.5 L1502.5,778.9 L1506.5,780.3 L1510.5,781.7 L1514.5,783.2 L1518.6,784.6 L1522.6,786.1 L1526.6,787.6 L1530.6,789.2 L1534.6,790.7 L1538.6,792.3 L1542.7,793.9 L1546.7,795.5 L1550.7,797.1 L1554.7,798.7 L1558.7,800.3 L1562.7,801.9 L1566.8,803.6 L1570.8,805.2 L1574.8,806.9 L1578.8,808.6 L1582.8,810.2 L1586.8,811.9 L1590.9,813.6 L1594.9,815.3 L1598.9,817.0 L1602.9,818.7 L1606.9,820.3 L1610.9,822.0 L1615.0,823.7 L1619.0,825.4 L1623.0,827.1 L1627.0,828.7 L1631.0,830.4 L1635.1,832.1 L1639.1,833.7 L1643.1,835.4 L1647.1,837.0 L1651.1,838.6 L1655.1,840.2 L1659.2,841.8 L1663.2,843.4 L1667.2,845.0 L1671.2,846.5 L1675.2,848.1 L1679.2,849.6 L1683.3,851.1 L1687.3,852.6 L1691.3,854.1 L1695.3,855.7 L1699.3,857.2 L1703.3,858.7 L1707.4,860.2 L1711.4,861.6 L1715.4,863.1 L1719.4,864.5 L1723.4,865.9 L1727.4,867.3 L1731.5,868.6 L1735.5,870.0 L1739.5,871.3 L1743.5,872.6 L1747.5,873.9 L1751.5,875.2 L1755.6,876.5 L1759.6,877.7 L1763.6,878.9 L1767.6,880.1 L1771.6,881.3 L1775.6,882.5 L1779.7,883.6 L1783.7,884.7 L1787.7,885.8 L1791.7,886.9 L1795.7,888.0 L1799.7,889.0 L1803.8,890.1 L1807.8,891.1 L1811.8,892.1 L1815.8,893.1 L1819.8,894.0 L1823.9,895.0 L1827.9,895.9 L1831.9,896.8 L1835.9,897.7 L1839.9,898.6 L1843.9,899.5 L1847.0,900.1" fill="none" stroke="#00ffff" stroke-width="3" shape-rendering="crispEdges"/>
<path d="M205.0,738.0 L209.0,738.4 L213.0,738.8 L217.1,739.3 L221.1,739.7 L225.1,740.1 L229.1,740.5 L233.1,740.9 L237.1,741.4 L241.2,741.8 L245.2,742.2 L249.2,742.6 L253.2,743.0 L257.2,743.4 L261.2,743.9 L265.3,744.3 L269.3,744.7 L273.3,745.1 L277.3,745.5 L281.3,746.0 L285.3,746.4 L289.4,746.8 L293.4,747.2 L297.4,747.6 L301.4,748.1 L305.4,748.5 L309.4,748.9 L313.5,749.3 L317.5,749.7 L321.5,750.1 L325.5,750.6 L329.5,751.0 L333.5,751.4 L337.6,751.8 L341.6,752.2 L345.6,752.7 L349.6,753.1 L353.6,753.5 L357.6,753.9 L361.7,754.3 L365.7,754.8 L369.7,755.2 L373.7,755.6 L377.7,756.0 L381.7,756.4 L385.8,756.8 L389.8,757.3 L393.8,757.7 L397.8,758.1 L401.8,758.5 L405.8,758.9 L409.9,759.4 L413.9,759.8 L417.9,760.2 L421.9,760.6 L425.9,761.0 L430.0,761.5 L434.0,761.9 L438.0,762.3 L442.0,762.7 L446.0,763.1 L450.0,763.5 L454.1,764.0 L458.1,764.4 L462.1,764.8 L466.1,765.2 L470.1,765.6 L474.1,766.1 L478.2,766.5 L482.2,766.9 L486.2,767.3 L490.2,767.7 L494.2,768.2 L498.2,768.6 L502.3,769.0 L506.3,769.4 L510.3,769.8 L514.3,770.3 L518.3,770.7 L522.3,771.1 L526.4,771.5 L530.4,771.9 L534.4,772.3 L538.4,772.8 L542.4,773.2 L546.4,773.6 L550.5,774.0 L554.5,774.4 L558.5,774.9 L562.5,775.3 L566.5,775.7 L570.5,776.1 L574.6,776.5 L578.6,777.0 L582.6,777.4 L586.6,777.8 L590.6,778.2 L594.6,778.6 L598.7,779.0 L602.7,779.5 L606.7,779.9 L610.7,780.3 L614.7,780.7 L618.8,781.1 L622.8,781.6 L626.8,782.0 L630.8,782.4 L634.8,782.8 L638.8,783.2 L642.9,783.7 L646.9,784.1 L650.9,784.5 L654.9,784.9 L658.9,785.3 L662.9,785.7 L667.0,786.2 L671.0,786.6 L675.0,787.0 L679.0,787.4 L683.0,787.8 L687.0,788.3 L691.1,788.7 L695.1,789.1 L699.1,789.5 L703.1,789.9 L707.1,790.4 L711.1,790.8 L715.2,791.2 L719.2,791.6 L723.2,792.0 L727.2,792.5 L731.2,792.9 L735.2,793.3 L739.3,793.7 L743.3,794.1 L747.3,794.5 L751.3,795.0 L755.3,795.4 L759.3,795.8 L763.4,796.2 L767.4,796.6 L771.4,797.1 L775.4,797.5 L779.4,797.9 L783.4,798.3 L787.5,798.7 L791.5,799.2 L795.5,799.6 L799.5,800.0 L803.5,800.4 L807.5,800.8 L811.6,801.2 L815.6,801.7 L819.6,802.1 L823.6,802.5 L827.6,802.9 L831.7,803.3 L835.7,803.8 L839.7,804.2 L843.7,804.6 L847.7,805.0 L851.7,805.4 L855.8,805.9 L859.8,806.3 L863.8,806.7 L867.8,807.1 L871.8,807.5 L875.8,807.9 L879.9,808.4 L883.9,808.8 L887.9,809.2 L891.9,809.6 L895.9,810.0 L899.9,810.5 L904.0,810.9 L908.0,811.3 L912.0,811.7 L916.0,812.1 L920.0,812.6 L924.0,813.0 L928.1,813.4 L932.1,813.8 L936.1,814.2 L940.1,814.6 L944.1,815.1 L948.1,815.5 L952.2,815.9 L956.2,816.3 L960.2,816.7 L964.2,817.2 L968.2,817.6 L972.2,818.0 L976.3,818.4 L980.3,818.8 L984.3,819.3 L988.3,819.7 L992.3,820.1 L996.3,820.5 L1000.4,820.9 L1004.4,821.4 L1008.4,821.8 L1012.4,822.2 L1016.4,822.6 L1020.5,823.0 L1024.5,823.4 L1028.5,823.9 L1032.5,824.3 L1036.5,824.7 L1040.5,825.1 L1044.6,825.5 L1048.6,826.0 L1052.6,826.4 L1056.6,826.8 L1060.6,827.2 L1064.6,827.6 L1068.7,828.1 L1072.7,828.5 L1076.7,828.9 L1080.7,829.3 L1084.7,829.7 L1088.7,830.1 L1092.8,830.6 L1096.8,831.0 L1100.8,831.4 L1104.8,831.8 L1108.8,832.2 L1112.8,832.7 L1116.9,833.1 L1120.9,833.5 L1124.9,833.9 L1128.9,834.3 L1132.9,834.8 L1136.9,835.2 L1141.0,835.6 L1145.0,836.0 L1149.0,836.4 L1153.0,836.8 L1157.0,837.3 L1161.0,837.7 L1165.1,838.1 L1169.1,838.5 L1173.1,838.9 L1177.1,839.4 L1181.1,839.8 L1185.1,840.2 L1189.2,840.6 L1193.2,841.0 L1197.2,841.5 L1201.2,841.9 L1205.2,842.3 L1209.2,842.7 L1213.3,843.1 L1217.3,843.6 L1221.3,844.0 L1225.3,844.4 L1229.3,844.8 L1233.4,845.2 L1237.4,845.6 L1241.4,846.1 L1245.4,846.5 L1249.4,846.9 L1253.4,847.3 L1257.5,847.7 L1261.5,848.2 L1265.5,848.6 L1269.5,849.0 L1273.5,849.4 L1277.5,849.8 L1281.6,850.3 L1285.6,850.7 L1289.6,851.1 L1293.6,851.5 L1297.6,851.9 L1301.6,852.3 L1305.7,852.8 L1309.7,853.2 L1313.7,853.6 L1317.7,854.0 L1321.7,854.4 L1325.7,854.9 L1329.8,855.3 L1333.8,855.7 L1337.8,856.1 L1341.8,856.5 L1345.8,857.0 L1349.8,857.4 L1353.9,857.8 L1357.9,858.2 L1361.9,858.6 L1365.9,859.0 L1369.9,859.5 L1373.9,859.9 L1378.0,860.3 L1382.0,860.7 L1386.0,861.1 L1390.0,861.6 L1394.0,862.0 L1398.0,862.4 L1402.1,862.8 L1406.1,863.2 L1410.1,863.7 L1414.1,864.1 L1418.1,864.5 L1422.2,864.9 L1426.2,865.3 L1430.2,865.7 L1434.2,866.2 L1438.2,866.6 L1442.2,867.0 L1446.3,867.4 L1450.3,867.8 L1454.3,868.2 L1458.3,868.6 L1462.3,868.9 L1466.3,869.3 L1470.4,869.5 L1474.4,869.7 L1478.4,869.7 L1482.4,869.6 L1486.4,869.3 L1490.4,868.6 L1494.5,867.6 L1498.5,866.0 L1502.5,863.8 L1506.5,860.8 L1510.5,856.9 L1514.5,851.9 L1518.6,845.8 L1522.6,838.5 L1526.6,829.9 L1530.6,820.2 L1534.6,809.4 L1538.6,797.8 L1542.7,785.8 L1546.7,773.6 L1550.7,761.8 L1554.7,750.9 L1558.7,741.5 L1562.7,733.9 L1566.8,728.5 L1570.8,725.7 L1574.8,725.7 L1578.8,728.5 L1582.8,734.0 L1586.8,742.0 L1590.9,752.0 L1594.9,763.6 L1598.9,776.2 L1602.9,789.3 L1606.9,802.4 L1610.9,815.1 L1615.0,827.0 L1619.0,837.8 L1623.0,847.5 L1627.0,855.8 L1631.0,863.0 L1635.1,868.9 L1639.1,873.7 L1643.1,877.6 L1647.1,880.6 L1651.1,883.0 L1655.1,884.9 L1659.2,886.4 L1663.2,887.5 L1667.2,888.4 L1671.2,889.2 L1675.2,889.8 L1679.2,890.3 L1683.3,890.8 L1687.3,891.2 L1691.3,891.7 L1695.3,892.2 L1699.3,892.6 L1703.3,893.1 L1707.4,893.5 L1711.4,894.0 L1715.4,894.4 L1719.4,894.9 L1723.4,895.3 L1727.4,895.8 L1731.5,896.2 L1735.5,896.7 L1739.5,897.1 L1743.5,897.6 L1747.5,898.0 L1751.5,898.5 L1755.6,898.9 L1759.6,899.4 L1763.6,899.9 L1767.6,900.3 L1771.6,900.8 L1775.6,901.2 L1779.7,901.7 L1783.7,902.1 L1787.7,902.6 L1791.7,903.0 L1795.7,903.5 L1799.7,903.9 L1803.8,904.4 L1807.8,904.8 L1811.8,905.3 L1815.8,905.7 L1819.8,906.2 L1823.9,906.6 L1827.9,907.1 L1831.9,907.5 L1835.9,908.0 L1839.9,908.4 L1843.9,908.9 L1847.0,909.2" fill="none" stroke="#ff0000" stroke-width="3" shape-rendering="crispEdges"/>
<path d="M205.0,738.0 L209.0,738.4 L213.0,738.8 L217.1,739.3 L221.1,739.7 L225.1,740.1 L229.1,740.5 L233.1,740.9 L237.1,741.4 L241.2,741.8 L245.2,742.2 L249.2,742.6 L253.2,743.0 L257.2,743.4 L261.2,743.9 L265.3,744.3 L269.3,744.7 L273.3,745.1 L277.3,745.5 L281.3,746.0 L285.3,746.4 L289.4,746.8 L293.4,747.2 L297.4,747.6 L301.4,748.1 L305.4,748.5 L309.4,748.9 L313.5,749.3 L317.5,749.7 L321.5,750.1 L325.5,750.6 L329.5,751.0 L333.5,751.4 L337.6,751.8 L341.6,752.2 L345.6,752.7 L349.6,753.1 L353.6,753.5 L357.6,753.9 L361.7,754.3 L365.7,754.8 L369.7,755.2 L373.7,755.6 L377.7,756.0 L381.7,756.4 L385.8,756.8 L389.8,757.3 L393.8,757.7 L397.8,758.1 L401.8,758.5 L405.8,758.9 L409.9,759.4 L413.9,759.8 L417.9,760.2 L421.9,760.6 L425.9,761.0 L430.0,761.5 L434.0,761.9 L438.0,762.3 L442.0,762.7 L446.0,763.1 L450.0,763.5 L454.1,764.0 L458.1,764.4 L462.1,764.8 L466.1,765.2 L470.1,765.6 L474.1,766.1 L478.2,766.5 L482.2,766.9 L486.2,767.3 L490.2,767.7 L494.2,768.2 L498.2,768.6 L502.3,769.0 L506.3,769.4 L510.3,769.8 L514.3,770.3 L518.3,770.7 L522.3,771.1 L526.4,771.5 L530.4,771.9 L534.4,772.3 L538.4,772.8 L542.4,773.2 L546.4,773.6 L550.5,774.0 L554.5,774.4 L558.5,774.9 L562.5,775.3 L566.5,775.7 L570.5,776.1 L574.6,776.5 L578.6,777.0 L582.6,777.4 L586.6,777.8 L590.6,778.2 L594.6,778.6 L598.7,779.0 L602.7,779.5 L606.7,779.9 L610.7,780.3 L614.7,780.7 L618.8,781.1 L622.8,781.6 L626.8,782.0 L630.8,782.4 L634.8,782.8 L638.8,783.2 L642.9,783.7 L646.9,784.1 L650.9,784.5 L654.9,784.9 L658.9,785.3 L662.9,785.7 L667.0,786.2 L671.0,786.6 L675.0,787.0 L679.0,787.4 L683.0,787.8 L687.0,788.3 L691.1,788.7 L695.1,789.1 L699.1,789.5 L703.1,789.9 L707.1,790.4 L711.1,790.8 L715.2,791.2 L719.2,791.6 L723.2,792.0 L727.2,792.5 L731.2,792.9 L735.2,793.3 L739.3,793.7 L743.3,794.1 L747.3,794.5 L751.3,795.0 L755.3,795.4 L759.3,795.8 L763.4,796.2 L767.4,796.6 L771.4,797.1 L775.4,797.5 L779.4,797.9 L783.4,798.3 L787.5,798.7 L791.5,799.2 L795.5,799.6 L799.5,800.0 L803.5,800.4 L807.5,800.8 L811.6,801.2 L815.6,801.7 L819.6,802.1 L823.6,802.5 L827.6,802.9 L831.7,803.3 L835.7,803.8 L839.7,804.2 L843.7,804.6 L847.7,805.0 L851.7,805.4 L855.8,805.9 L859.8,806.3 L863.8,806.7 L867.8,807.1 L871.8,807.5 L875.8,807.9 L879.9,808.4 L883.9,808.8 L887.9,809.2 L891.9,809.6 L895.9,810.0 L899.9,810.5 L904.0,810.9 L908.0,811.3 L912.0,811.7 L916.0,812.1 L920.0,812.6 L924.0,813.0 L928.1,813.4 L932.1,813.8 L936.1,814.2 L940.1,814.6 L944.1,815.1 L948.1,815.5 L952.2,815.9 L956.2,816.3 L960.2,816.7 L964.2,817.2 L968.2,817.6 L972.2,818.0 L976.3,818.4 L980.3,818.8 L984.3,819.3 L988.3,819.7 L992.3,820.1 L996.3,820.5 L1000.4,820.9 L1004.4,821.4 L1008.4,821.8 L1012.4,822.2 L1016.4,822.6 L1020.5,823.0 L1024.5,823.4 L1028.5,823.9 L1032.5,824.3 L1036.5,824.7 L1040.5,825.1 L1044.6,825.5 L1048.6,826.0 L1052.6,826.4 L1056.6,826.8 L1060.6,827.2 L1064.6,827.6 L1068.7,828.1 L1072.7,828.5 L1076.7,828.9 L1080.7,829.3 L1084.7,829.7 L1088.7,830.1 L1092.8,830.6 L1096.8,831.0 L1100.8,831.4 L1104.8,831.8 L1108.8,832.2 L1112.8,832.7 L1116.9,833.1 L1120.9,833.5 L1124.9,833.9 L1128.9,834.3 L1132.9,834.8 L1136.9,835.2 L1141.0,835.6 L1145.0,836.0 L1149.0,836.4 L1153.0,836.8 L1157.0,837.3 L1161.0,837.7 L1165.1,838.1 L1169.1,838.5 L1173.1,838.9 L1177.1,839.4 L1181.1,839.8 L1185.1,840.2 L1189.2,840.6 L1193.2,841.0 L1197.2,841.5 L1201.2,841.9 L1205.2,842.3 L1209.2,842.7 L1213.3,843.1 L1217.3,843.6 L1221.3,844.0 L1225.3,844.4 L1229.3,844.8 L1233.4,845.2 L1237.4,845.6 L1241.4,846.1 L1245.4,846.5 L1249.4,846.9 L1253.4,847.3 L1257.5,847.7 L1261.5,848.2 L1265.5,848.6 L1269.5,849.0 L1273.5,849.4 L1277.5,849.8 L1281.6,850.3 L1285.6,850.7 L1289.6,851.1 L1293.6,851.5 L1297.6,851.9 L1301.6,852.3 L1305.7,852.8 L1309.7,853.2 L1313.7,853.6 L1317.7,854.0 L1321.7,854.4 L1325.7,854.9 L1329.8,855.3 L1333.8,855.7 L1337.8,856.1 L1341.8,856.5 L1345.8,857.0 L1349.8,857.4 L1353.9,857.8 L1357.9,858.2 L1361.9,858.6 L1365.9,859.0 L1369.9,859.5 L1373.9,859.9 L1378.0,860.3 L1382.0,860.7 L1386.0,861.1 L1390.0,861.6 L1394.0,862.0 L1398.0,862.4 L1402.1,862.8 L1406.1,863.2 L1410.1,863.7 L1414.1,864.1 L1418.1,864.5 L1422.2,864.9 L1426.2,865.3 L1430.2,865.7 L1434.2,866.2 L1438.2,866.6 L1442.2,867.0 L1446.3,867.4 L1450.3,867.8 L1454.3,868.3 L1458.3,868.7 L1462.3,869.1 L1466.3,869.5 L1470.4,869.9 L1474.4,870.4 L1478.4,870.8 L1482.4,871.2 L1486.4,871.6 L1490.4,872.0 L1494.5,872.5 L1498.5,872.9 L1502.5,873.3 L1506.5,873.7 L1510.5,874.1 L1514.5,874.5 L1518.6,875.0 L1522.6,875.4 L1526.6,875.8 L1530.6,876.2 L1534.6,876.6 L1538.6,877.1 L1542.7,877.5 L1546.7,877.8 L1550.7,878.2 L1554.7,878.6 L1558.7,879.0 L1562.7,879.4 L1566.8,879.7 L1570.8,880.1 L1574.8,880.4 L1578.8,880.6 L1582.8,880.7 L1586.8,880.4 L1590.9,879.6 L1594.9,878.0 L1598.9,875.1 L1602.9,870.6 L1606.9,864.0 L1610.9,855.0 L1615.0,843.9 L1619.0,831.1 L1623.0,817.6 L1627.0,804.9 L1631.0,794.6 L1635.1,788.2 L1639.1,786.8 L1643.1,790.0 L1647.1,797.2 L1651.1,807.7 L1655.1,820.1 L1659.2,833.3 L1663.2,846.0 L1667.2,857.4 L1671.2,867.1 L1675.2,874.7 L1679.2,880.5 L1683.3,884.7 L1687.3,887.6 L1691.3,889.6 L1695.3,891.0 L1699.3,892.1 L1703.3,892.8 L1707.4,893.4 L1711.4,893.9 L1715.4,894.4 L1719.4,894.9 L1723.4,895.3 L1727.4,895.8 L1731.5,896.2 L1735.5,896.7 L1739.5,897.1 L1743.5,897.6 L1747.5,898.0 L1751.5,898.5 L1755.6,898.9 L1759.6,899.4 L1763.6,899.9 L1767.6,900.3 L1771.6,900.8 L1775.6,901.2 L1779.7,901.7 L1783.7,902.1 L1787.7,902.6 L1791.7,903.0 L1795.7,903.5 L1799.7,903.9 L1803.8,904.4 L1807.8,904.8 L1811.8,905.3 L1815.8,905.7 L1819.8,906.2 L1823.9,906.6 L1827.9,907.1 L1831.9,907.5 L1835.9,908.0 L1839.9,908.4 L1843.9,908.9 L1847.0,909.2" fill="none" stroke="#000000" stroke-width="3" shape-rendering="crispEdges"/>
<path d="M205.0,738.0 L209.0,738.4 L213.0,738.8 L217.1,739.3 L221.1,739.7 L225.1,740.1 L229.1,740.5 L233.1,740.9 L237.1,741.4 L241.2,741.8 L245.2,742.2 L249.2,742.6 L253.2,743.0 L257.2,743.4 L261.2,743.9 L265.3,744.3 L269.3,744.7 L273.3,745.1 L277.3,745.5 L281.3,746.0 L285.3,746.4 L289.4,746.8 L293.4,747.2 L297.4,747.6 L301.4,748.1 L305.4,748.5 L309.4,748.9 L313.5,749.3 L317.5,749.7 L321.5,750.1 L325.5,750.6 L329.5,751.0 L333.5,751.4 L337.6,751.8 L341.6,752.2 L345.6,752.7 L349.6,753.1 L353.6,753.5 L357.6,753.9 L361.7,754.3 L365.7,754.8 L369.7,755.2 L373.7,755.6 L377.7,756.0 L381.7,756.4 L385.8,756.8 L389.8,757.3 L393.8,757.7 L397.8,758.1 L401.8,758.5 L405.8,758.9 L409.9,759.4 L413.9,759.8 L417.9,760.2 L421.9,760.6 L425.9,761.0 L430.0,761.5 L434.0,761.9 L438.0,762.3 L442.0,762.7 L446.0,763.1 L450.0,763.5 L454.1,764.0 L458.1,764.4 L462.1,764.8 L466.1,765.2 L470.1,765.6 L474.1,766.1 L478.2,766.5 L482.2,766.9 L486.2,767.3 L490.2,767.7 L494.2,768.2 L498.2,768.6 L502.3,769.0 L506.3,769.4 L510.3,769.8 L514.3,770.3 L518.3,770.7 L522.3,771.1 L526.4,771.5 L530.4,771.9 L534.4,772.3 L538.4,772.8 L542.4,773.2 L546.4,773.6 L550.5,774.0 L554.5,774.4 L558.5,774.9 L562.5,775.3 L566.5,775.7 L570.5,776.1 L574.6,776.5 L578.6,777.0 L582.6,777.4 L586.6,777.8 L590.6,778.2 L594.6,778.6 L598.7,779.0 L602.7,779.5 L606.7,779.9 L610.7,780.3 L614.7,780.7 L618.8,781.1 L622.8,781.6 L626.8,782.0 L630.8,782.4 L634.8,782.8 L638.8,783.2 L642.9,783.7 L646.9,784.1 L650.9,784.5 L654.9,784.9 L658.9,785.3 L662.9,785.7 L667.0,786.2 L671.0,786.6 L675.0,787.0 L679.0,787.4 L683.0,787.8 L687.0,788.3 L691.1,788.7 L695.1,789.1 L699.1,789.5 L703.1,789.9 L707.1,790.4 L711.1,790.8 L715.2,791.2 L719.2,791.6 L723.2,792.0 L727.2,792.5 L731.2,792.9 L735.2,793.3 L739.3,793.7 L743.3,794.1 L747.3,794.5 L751.3,795.0 L755.3,795.4 L759.3,795.8 L763.4,796.2 L767.4,796.6 L771.4,797.1 L775.4,797.5 L779.4,797.9 L783.4,798.3 L787.5,798.7 L791.5,799.2 L795.5,799.6 L799.5,800.0 L803.5,800.4 L807.5,800.8 L811.6,801.2 L815.6,801.7 L819.6,802.1 L823.6,802.5 L827.6,802.9 L831.7,803.3 L835.7,803.8 L839.7,804.2 L843.7,804.6 L847.7,805.0 L851.7,805.4 L855.8,805.9 L859.8,806.3 L863.8,806.7 L867.8,807.1 L871.8,807.5 L875.8,807.9 L879.9,808.4 L883.9,808.8 L887.9,809.2 L891.9,809.6 L895.9,810.0 L899.9,810.5 L904.0,810.9 L908.0,811.3 L912.0,811.7 L916.0,812.1 L920.0,812.6 L924.0,813.0 L928.1,813.4 L932.1,813.8 L936.1,814.2 L940.1,814.6 L944.1,815.1 L948.1,815.5 L952.2,815.9 L956.2,816.3 L960.2,816.7 L964.2,817.2 L968.2,817.6 L972.2,818.0 L976.3,818.4 L980.3,818.8 L984.3,819.3 L988.3,819.7 L992.3,820.1 L996.3,820.5 L1000.4,820.9 L1004.4,821.4 L1008.4,821.8 L1012.4,822.2 L1016.4,822.6 L1020.5,823.0 L1024.5,823.4 L1028.5,823.9 L1032.5,824.3 L1036.5,824.7 L1040.5,825.1 L1044.6,825.5 L1048.6,826.0 L1052.6,826.4 L1056.6,826.8 L1060.6,827.2 L1064.6,827.6 L1068.7,828.1 L1072.7,828.5 L1076.7,828.9 L1080.7,829.3 L1084.7,829.7 L1088.7,830.1 L1092.8,830.6 L1096.8,831.0 L1100.8,831.4 L1104.8,831.8 L1108.8,832.2 L1112.8,832.7 L1116.9,833.1 L1120.9,833.5 L1124.9,833.9 L1128.9,834.3 L1132.9,834.8 L1136.9,835.2 L1141.0,835.6 L1145.0,836.0 L1149.0,836.4 L1153.0,836.8 L1157.0,837.3 L1161.0,837.7 L1165.1,838.1 L1169.1,838.5 L1173.1,838.9 L1177.1,839.4 L1181.1,839.8 L1185.1,840.2 L1189.2,840.6 L1193.2,841.0 L1197.2,841.5 L1201.2,841.9 L1205.2,842.3 L1209.2,842.7 L1213.3,843.1 L1217.3,843.6 L1221.3,844.0 L1225.3,844.4 L1229.3,844.8 L1233.4,845.2 L1237.4,845.6 L1241.4,846.1 L1245.4,846.5 L1249.4,846.9 L1253.4,847.3 L1257.5,847.7 L1261.5,848.2 L1265.5,848.6 L1269.5,849.0 L1273.5,849.4 L1277.5,849.8 L1281.6,850.3 L1285.6,850.7 L1289.6,851.1 L1293.6,851.5 L1297.6,851.9 L1301.6,852.3 L1305.7,852.8 L1309.7,853.2 L1313.7,853.6 L1317.7,854.0 L1321.7,854.4 L1325.7,854.9 L1329.8,855.3 L1333.8,855.7 L1337.8,856.1 L1341.8,856.5 L1345.8,857.0 L1349.8,857.4 L1353.9,857.8 L1357.9,858.2 L1361.9,858.6 L1365.9,859.0 L1369.9,859.5 L1373.9,859.9 L1378.0,860.3 L1382.0,860.7 L1386.0,861.1 L1390.0,861.6 L1394.0,862.0 L1398.0,862.4 L1402.1,862.8 L1406.1,863.2 L1410.1,863.7 L1414.1,864.1 L1418.1,864.5 L1422.2,864.9 L1426.2,865.3 L1430.2,865.7 L1434.2,866.2 L1438.2,866.6 L1442.2,867.0 L1446.3,867.4 L1450.3,867.8 L1454.3,868.3 L1458.3,868.7 L1462.3,869.1 L1466.3,869.5 L1470.4,869.9 L1474.4,870.4 L1478.4,870.8 L1482.4,871.2 L1486.4,871.6 L1490.4,872.0 L1494.5,872.5 L1498.5,872.9 L1502.5,873.3 L1506.5,873.7 L1510.5,874.1 L1514.5,874.5 L1518.6,875.0 L1522.6,875.4 L1526.6,875.8 L1530.6,876.2 L1534.6,876.6 L1538.6,877.1 L1542.7,877.5 L1546.7,877.8 L1550.7,878.2 L1554.7,878.6 L1558.7,879.0 L1562.7,879.4 L1566.8,879.8 L1570.8,880.2 L1574.8,880.5 L1578.8,880.9 L1582.8,881.3 L1586.8,881.7 L1590.9,882.1 L1594.9,882.5 L1598.9,882.8 L1602.9,883.2 L1606.9,883.5 L1610.9,883.8 L1615.0,884.0 L1619.0,884.1 L1623.0,884.0 L1627.0,883.6 L1631.0,882.6 L1635.1,880.9 L1639.1,878.3 L1643.1,874.4 L1647.1,868.9 L1651.1,861.7 L1655.1,852.5 L1659.2,841.4 L1663.2,828.6 L1667.2,814.7 L1671.2,800.5 L1675.2,787.0 L1679.2,775.1 L1683.3,766.1 L1687.3,760.7 L1691.3,759.6 L1695.3,762.7 L1699.3,769.8 L1703.3,780.2 L1707.4,793.0 L1711.4,807.3 L1715.4,822.1 L1719.4,836.3 L1723.4,849.4 L1727.4,861.0 L1731.5,870.6 L1735.5,878.4 L1739.5,884.6 L1743.5,889.2 L1747.5,892.6 L1751.5,895.1 L1755.6,896.9 L1759.6,898.2 L1763.6,899.2 L1767.6,899.9 L1771.6,900.5 L1775.6,901.1 L1779.7,901.6 L1783.7,902.1 L1787.7,902.5 L1791.7,903.0 L1795.7,903.5 L1799.7,903.9 L1803.8,904.4 L1807.8,904.8 L1811.8,905.3 L1815.8,905.7 L1819.8,906.2 L1823.9,906.6 L1827.9,907.1 L1831.9,907.5 L1835.9,908.0 L1839.9,908.4 L1843.9,908.9 L1847.0,909.2" fill="none" stroke="#ff00ff" stroke-width="3" shape-rendering="crispEdges"/>
<path d="M205.0,738.0 L209.0,738.4 L213.0,738.8 L217.1,739.3 L221.1,739.7 L225.1,740.1 L229.1,740.5 L233.1,740.9 L237.1,741.4 L241.2,741.8 L245.2,742.2 L249.2,742.6 L253.2,743.0 L257.2,743.4 L261.2,743.9 L265.3,744.3 L269.3,744.7 L273.3,745.1 L277.3,745.5 L281.3,746.0 L285.3,746.4 L289.4,746.8 L293.4,747.2 L297.4,747.6 L301.4,748.1 L305.4,748.5 L309.4,748.9 L313.5,749.3 L317.5,749.7 L321.5,750.1 L325.5,750.6 L329.5,751.0 L333.5,751.4 L337.6,751.8 L341.6,752.2 L345.6,752.7 L349.6,753.1 L353.6,753.5 L357.6,753.9 L361.7,754.3 L365.7,754.8 L369.7,755.2 L373.7,755.6 L377.7,756.0 L381.7,756.4 L385.8,756.8 L389.8,757.3 L393.8,757.7 L397.8,758.1 L401.8,758.5 L405.8,758.9 L409.9,759.4 L413.9,759.8 L417.9,760.2 L421.9,760.6 L425.9,761.0 L430.0,761.5 L434.0,761.9 L438.0,762.3 L442.0,762.7 L446.0,763.1 L450.0,763.5 L454.1,764.0 L458.1,764.4 L462.1,764.8 L466.1,765.2 L470.1,765.6 L474.1,766.1 L478.2,766.5 L482.2,766.9 L486.2,767.3 L490.2,767.7 L494.2,768.2 L498.2,768.6 L502.3,769.0 L506.3,769.4 L510.3,769.8 L514.3,770.3 L518.3,770.7 L522.3,771.1 L526.4,771.5 L530.4,771.9 L534.4,772.3 L538.4,772.8 L542.4,773.2 L546.4,773.6 L550.5,774.0 L554.5,774.4 L558.5,774.9 L562.5,775.3 L566.5,775.7 L570.5,776.1 L574.6,776.5 L578.6,777.0 L582.6,777.4 L586.6,777.8 L590.6,778.2 L594.6,778.6 L598.7,779.0 L602.7,779.5 L606.7,779.9 L610.7,780.3 L614.7,780.7 L618.8,781.1 L622.8,781.6 L626.8,782.0 L630.8,782.4 L634.8,782.8 L638.8,783.2 L642.9,783.7 L646.9,784.1 L650.9,784.5 L654.9,784.9 L658.9,785.3 L662.9,785.7 L667.0,786.2 L671.0,786.6 L675.0,787.0 L679.0,787.4 L683.0,787.8 L687.0,788.3 L691.1,788.7 L695.1,789.1 L699.1,789.5 L703.1,789.9 L707.1,790.4 L711.1,790.8 L715.2,791.2 L719.2,791.6 L723.2,792.0 L727.2,792.5 L731.2,792.9 L735.2,793.3 L739.3,793.7 L743.3,794.1 L747.3,794.5 L751.3,795.0 L755.3,795.4 L759.3,795.8 L763.4,796.2 L767.4,796.6 L771.4,797.1 L775.4,797.5 L779.4,797.9 L783.4,798.3 L787.5,798.7 L791.5,799.2 L795.5,799.6 L799.5,800.0 L803.5,800.4 L807.5,800.8 L811.6,801.2 L815.6,801.7 L819.6,802.1 L823.6,802.5 L827.6,802.9 L831.7,803.3 L835.7,803.8 L839.7,804.2 L843.7,804.6 L847.7,805.0 L851.7,805.4 L855.8,805.9 L859.8,806.3 L863.8,806.7 L867.8,807.1 L871.8,807.5 L875.8,807.9 L879.9,808.4 L883.9,808.8 L887.9,809.2 L891.9,809.6 L895.9,810.0 L899.9,810.5 L904.0,810.9 L908.0,811.3 L912.0,811.7 L916.0,812.1 L920.0,812.6 L924.0,813.0 L928.1,813.4 L932.1,813.8 L936.1,814.2 L940.1,814.6 L944.1,815.1 L948.1,815.5 L952.2,815.9 L956.2,816.3 L960.2,816.7 L964.2,817.2 L968.2,817.6 L972.2,818.0 L976.3,818.4 L980.3,818.8 L984.3,819.3 L988.3,819.7 L992.3,820.1 L996.3,820.5 L1000.4,820.9 L1004.4,821.4 L1008.4,821.8 L1012.4,822.2 L1016.4,822.6 L1020.5,823.0 L1024.5,823.4 L1028.5,823.9 L1032.5,824.3 L1036.5,824.7 L1040.5,825.1 L1044.6,825.5 L1048.6,826.0 L1052.6,826.4 L1056.6,826.8 L1060.6,827.2 L1064.6,827.6 L1068.7,828.1 L1072.7,828.5 L1076.7,828.9 L1080.7,829.3 L1084.7,829.7 L1088.7,830.1 L1092.8,830.6 L1096.8,831.0 L1100.8,831.4 L1104.8,831.8 L1108.8,832.2 L1112.8,832.7 L1116.9,833.1 L1120.9,833.5 L1124.9,833.9 L1128.9,834.3 L1132.9,834.8 L1136.9,835.2 L1141.0,835.6 L1145.0,836.0 L1149.0,836.4 L1153.0,836.8 L1157.0,837.3 L1161.0,837.7 L1165.1,838.1 L1169.1,838.5 L1173.1,838.9 L1177.1,839.4 L1181.1,839.8 L1185.1,840.2 L1189.2,840.6 L1193.2,841.0 L1197.2,841.5 L1201.2,841.9 L1205.2,842.3 L1209.2,842.7 L1213.3,843.1 L1217.3,843.6 L1221.3,844.0 L1225.3,844.4 L1229.3,844.8 L1233.4,845.2 L1237.4,845.6 L1241.4,846.1 L1245.4,846.5 L1249.4,846.9 L1253.4,847.3 L1257.5,847.7 L1261.5,848.2 L1265.5,848.6 L1269.5,849.0 L1273.5,849.4 L1277.5,849.8 L1281.6,850.3 L1285.6,850.7 L1289.6,851.1 L1293.6,851.5 L1297.6,851.9 L1301.6,852.3 L1305.7,852.8 L1309.7,853.2 L1313.7,853.6 L1317.7,854.0 L1321.7,854.4 L1325.7,854.9 L1329.8,855.3 L1333.8,855.7 L1337.8,856.1 L1341.8,856.5 L1345.8,857.0 L1349.8,857.4 L1353.9,857.8 L1357.9,858.2 L1361.9,858.6 L1365.9,859.0 L1369.9,859.5 L1373.9,859.9 L1378.0,860.3 L1382.0,860.7 L1386.0,861.1 L1390.0,861.6 L1394.0,862.0 L1398.0,862.4 L1402.1,862.8 L1406.1,863.2 L1410.1,863.7 L1414.1,864.1 L1418.1,864.5 L1422.2,864.9 L1426.2,865.3 L1430.2,865.7 L1434.2,866.2 L1438.2,866.6 L1442.2,867.0 L1446.3,867.4 L1450.3,867.8 L1454.3,868.3 L1458.3,868.7 L1462.3,869.1 L1466.3,869.5 L1470.4,869.9 L1474.4,870.4 L1478.4,870.8 L1482.4,871.2 L1486.4,871.6 L1490.4,872.0 L1494.5,872.5 L1498.5,872.9 L1502.5,873.3 L1506.5,873.7 L1510.5,874.1 L1514.5,874.5 L1518.6,875.0 L1522.6,875.4 L1526.6,875.8 L1530.6,876.2 L1534.6,876.6 L1538.6,877.1 L1542.7,877.5 L1546.7,877.8 L1550.7,878.2 L1554.7,878.6 L1558.7,879.0 L1562.7,879.4 L1566.8,879.8 L1570.8,880.2 L1574.8,880.5 L1578.8,880.9 L1582.8,881.3 L1586.8,881.7 L1590.9,882.1 L1594.9,882.5 L1598.9,882.9 L1602.9,883.2 L1606.9,883.6 L1610.9,884.0 L1615.0,884.4 L1619.0,884.8 L1623.0,885.2 L1627.0,885.6 L1631.0,885.9 L1635.1,886.3 L1639.1,886.7 L1643.1,887.1 L1647.1,887.5 L1651.1,887.9 L1655.1,888.3 L1659.2,888.6 L1663.2,889.0 L1667.2,889.4 L1671.2,889.8 L1675.2,890.2 L1679.2,890.6 L1683.3,891.0 L1687.3,891.3 L1691.3,891.7 L1695.3,892.2 L1699.3,892.6 L1703.3,893.1 L1707.4,893.5 L1711.4,894.0 L1715.4,894.4 L1719.4,894.9 L1723.4,895.3 L1727.4,895.8 L1731.5,896.2 L1735.5,896.7 L1739.5,897.1 L1743.5,897.6 L1747.5,898.0 L1751.5,898.5 L1755.6,898.9 L1759.6,899.4 L1763.6,899.9 L1767.6,900.3 L1771.6,900.8 L1775.6,901.2 L1779.7,901.7 L1783.7,902.1 L1787.7,902.6 L1791.7,903.0 L1795.7,903.5 L1799.7,903.9 L1803.8,904.4 L1807.8,904.8 L1811.8,905.3 L1815.8,905.7 L1819.8,906.2 L1823.9,906.6 L1827.9,907.1 L1831.9,907.5 L1835.9,908.0 L1839.9,908.4 L1843.9,908.9 L1847.0,909.2" fill="none" stroke="#000" stroke-width="3" shape-rendering="crispEdges"/>
<path d="M205.0,731.4 L209.0,731.5 L213.0,731.6 L217.1,731.7 L221.1,731.7 L225.1,731.8 L229.1,731.8 L233.1,731.9 L237.1,731.9 L241.2,731.9 L245.2,731.9 L249.2,731.9 L253.2,731.9 L257.2,731.8 L261.2,731.8 L265.3,731.7 L269.3,731.6 L273.3,731.5 L277.3,731.4 L281.3,731.3 L285.3,731.1 L289.4,731.0 L293.4,730.8 L297.4,730.6 L301.4,730.4 L305.4,730.2 L309.4,730.0 L313.5,729.7 L317.5,729.5 L321.5,729.2 L325.5,728.9 L329.5,728.6 L333.5,728.3 L337.6,728.0 L341.6,727.6 L345.6,727.3 L349.6,726.9 L353.6,726.5 L357.6,726.2 L361.7,725.8 L365.7,725.4 L369.7,724.9 L373.7,724.5 L377.7,724.1 L381.7,723.6 L385.8,723.2 L389.8,722.7 L393.8,722.2 L397.8,721.8 L401.8,721.3 L405.8,720.8 L409.9,720.3 L413.9,719.8 L417.9,719.3 L421.9,718.8 L425.9,718.3 L430.0,717.8 L434.0,717.3 L438.0,716.8 L442.0,716.3 L446.0,715.8 L450.0,715.3 L454.1,714.8 L458.1,714.3 L462.1,713.8 L466.1,713.4 L470.1,712.9 L474.1,712.4 L478.2,712.0 L482.2,711.6 L486.2,711.1 L490.2,710.7 L494.2,710.3 L498.2,709.9 L502.3,709.6 L506.3,709.2 L510.3,708.9 L514.3,708.6 L518.3,708.3 L522.3,708.0 L526.4,707.7 L530.4,707.5 L534.4,707.3 L538.4,707.1 L542.4,706.9 L546.4,706.8 L550.5,706.6 L554.5,706.5 L558.5,706.5 L562.5,706.4 L566.5,706.4 L570.5,706.4 L574.6,706.4 L578.6,706.5 L582.6,706.6 L586.6,706.7 L590.6,706.9 L594.6,707.0 L598.7,707.2 L602.7,707.4 L606.7,707.7 L610.7,708.0 L614.7,708.3 L618.8,708.6 L622.8,708.9 L626.8,709.3 L630.8,709.7 L634.8,710.1 L638.8,710.5 L642.9,711.0 L646.9,711.4 L650.9,711.9 L654.9,712.3 L658.9,712.8 L662.9,713.3 L667.0,713.8 L671.0,714.3 L675.0,714.7 L679.0,715.2 L683.0,715.7 L687.0,716.1 L691.1,716.6 L695.1,717.0 L699.1,717.4 L703.1,717.7 L707.1,718.0 L711.1,718.3 L715.2,718.6 L719.2,718.8 L723.2,719.0 L727.2,719.1 L731.2,719.2 L735.2,719.2 L739.3,719.2 L743.3,719.1 L747.3,718.9 L751.3,718.7 L755.3,718.5 L759.3,718.2 L763.4,717.8 L767.4,717.4 L771.4,716.9 L775.4,716.3 L779.4,715.7 L783.4,715.1 L787.5,714.4 L791.5,713.7 L795.5,713.0 L799.5,712.2 L803.5,711.4 L807.5,710.6 L811.6,709.8 L815.6,709.0 L819.6,708.2 L823.6,707.4 L827.6,706.7 L831.7,705.9 L835.7,705.3 L839.7,704.7 L843.7,704.1 L847.7,703.6 L851.7,703.3 L855.8,703.0 L859.8,702.7 L863.8,702.6 L867.8,702.7 L871.8,702.8 L875.8,703.0 L879.9,703.4 L883.9,703.9 L887.9,704.6 L891.9,705.3 L895.9,706.2 L899.9,707.3 L904.0,708.4 L908.0,709.7 L912.0,711.1 L916.0,712.6 L920.0,714.3 L924.0,716.0 L928.1,717.9 L932.1,719.8 L936.1,721.8 L940.1,723.9 L944.1,726.1 L948.1,728.3 L952.2,730.6 L956.2,732.9 L960.2,735.3 L964.2,737.7 L968.2,740.1 L972.2,742.5 L976.3,744.9 L980.3,747.3 L984.3,749.6 L988.3,751.9 L992.3,754.2 L996.3,756.5 L1000.4,758.7 L1004.4,760.8 L1008.4,762.9 L1012.4,764.9 L1016.4,766.8 L1020.5,768.6 L1024.5,770.4 L1028.5,772.0 L1032.5,773.6 L1036.5,775.1 L1040.5,776.5 L1044.6,777.8 L1048.6,779.0 L1052.6,780.1 L1056.6,781.1 L1060.6,782.0 L1064.6,782.8 L1068.7,783.6 L1072.7,784.2 L1076.7,784.7 L1080.7,785.2 L1084.7,785.6 L1088.7,785.9 L1092.8,786.1 L1096.8,786.3 L1100.8,786.3 L1104.8,786.4 L1108.8,786.3 L1112.8,786.2 L1116.9,786.0 L1120.9,785.8 L1124.9,785.5 L1128.9,785.2 L1132.9,784.8 L1136.9,784.4 L1141.0,783.9 L1145.0,783.4 L1149.0,782.9 L1153.0,782.3 L1157.0,781.7 L1161.0,781.1 L1165.1,780.4 L1169.1,779.8 L1173.1,779.1 L1177.1,778.4 L1181.1,777.6 L1185.1,776.9 L1189.2,776.1 L1193.2,775.4 L1197.2,774.6 L1201.2,773.8 L1205.2,773.0 L1209.2,772.3 L1213.3,771.5 L1217.3,770.7 L1221.3,769.9 L1225.3,769.1 L1229.3,768.3 L1233.4,767.5 L1237.4,766.8 L1241.4,766.0 L1245.4,765.2 L1249.4,764.5 L1253.4,763.8 L1257.5,763.0 L1261.5,762.3 L1265.5,761.7 L1269.5,761.0 L1273.5,760.3 L1277.5,759.7 L1281.6,759.1 L1285.6,758.5 L1289.6,758.0 L1293.6,757.4 L1297.6,756.9 L1301.6,756.4 L1305.7,756.0 L1309.7,755.5 L1313.7,755.1 L1317.7,754.8 L1321.7,754.4 L1325.7,754.1 L1329.8,753.8 L1333.8,753.6 L1337.8,753.4 L1341.8,753.2 L1345.8,753.1 L1349.8,753.0 L1353.9,752.9 L1357.9,752.9 L1361.9,752.9 L1365.9,753.0 L1369.9,753.1 L1373.9,753.2 L1378.0,753.4 L1382.0,753.6 L1386.0,753.9 L1390.0,754.2 L1394.0,754.5 L1398.0,754.9 L1402.1,755.3 L1406.1,755.8 L1410.1,756.3 L1414.1,756.8 L1418.1,757.4 L1422.2,758.1 L1426.2,758.7 L1430.2,759.4 L1434.2,760.2 L1438.2,761.0 L1442.2,761.8 L1446.3,762.7 L1450.3,763.6 L1454.3,764.5 L1458.3,765.5 L1462.3,766.5 L1466.3,767.4 L1470.4,768.4 L1474.4,769.3 L1478.4,770.1 L1482.4,770.8 L1486.4,771.3 L1490.4,771.5 L1494.5,771.3 L1498.5,770.7 L1502.5,769.4 L1506.5,767.4 L1510.5,764.5 L1514.5,760.5 L1518.6,755.5 L1522.6,749.2 L1526.6,741.8 L1530.6,733.1 L1534.6,723.5 L1538.6,713.1 L1542.7,702.2 L1546.7,691.2 L1550.7,680.7 L1554.7,671.0 L1558.7,662.8 L1562.7,656.4 L1566.8,652.3 L1570.8,650.8 L1574.8,651.9 L1578.8,655.8 L1582.8,662.3 L1586.8,670.9 L1590.9,681.0 L1594.9,691.9 L1598.9,702.5 L1602.9,712.0 L1606.9,719.4 L1610.9,723.9 L1615.0,725.4 L1619.0,724.1 L1623.0,720.6 L1627.0,716.4 L1631.0,712.8 L1635.1,711.1 L1639.1,712.3 L1643.1,716.0 L1647.1,721.3 L1651.1,727.4 L1655.1,732.9 L1659.2,736.9 L1663.2,738.4 L1667.2,737.3 L1671.2,733.9 L1675.2,729.0 L1679.2,723.9 L1683.3,719.9 L1687.3,718.2 L1691.3,719.8 L1695.3,725.0 L1699.3,733.7 L1703.3,745.5 L1707.4,759.5 L1711.4,774.9 L1715.4,790.6 L1719.4,805.9 L1723.4,820.0 L1727.4,832.4 L1731.5,843.0 L1735.5,851.7 L1739.5,858.7 L1743.5,864.2 L1747.5,868.5 L1751.5,871.8 L1755.6,874.4 L1759.6,876.5 L1763.6,878.2 L1767.6,879.7 L1771.6,881.1 L1775.6,882.3 L1779.7,883.5 L1783.7,884.7 L1787.7,885.8 L1791.7,886.9 L1795.7,888.0 L1799.7,889.0 L1803.8,890.1 L1807.8,891.1 L1811.8,892.1 L1815.8,893.1 L1819.8,894.0 L1823.9,895.0 L1827.9,895.9 L1831.9,896.8 L1835.9,897.7 L1839.9,898.6 L1843.9,899.5 L1847.0,900.1" fill="none" stroke="#000" stroke-width="3" shape-rendering="crispEdges"/>
<path d="M205.0,1140.8 L209.0,1155.3 L213.0,1130.9 L217.1,1113.2 L221.1,1113.1 L225.1,1125.4 L229.1,1130.6 L233.1,1134.1 L237.1,1109.5 L241.2,1124.3 L245.2,1143.4 L249.2,1134.1 L253.2,1132.9 L257.2,1120.2 L261.2,1128.8 L265.3,1144.0 L269.3,1135.0 L273.3,1123.6 L277.3,1135.7 L281.3,1125.3 L285.3,1098.4 L289.4,1116.3 L293.4,1125.2 L297.4,1096.1 L301.4,1096.0 L305.4,1114.0 L309.4,1108.7 L313.5,1096.3 L317.5,1113.1 L321.5,1142.8 L325.5,1138.1 L329.5,1118.0 L333.5,1126.9 L337.6,1144.7 L341.6,1135.2 L345.6,1134.2 L349.6,1150.8 L353.6,1140.1 L357.6,1117.1 L361.7,1125.1 L365.7,1137.3 L369.7,1147.1 L373.7,1125.6 L377.7,1105.3 L381.7,1110.0 L385.8,1095.8 L389.8,1109.2 L393.8,1136.1 L397.8,1123.7 L401.8,1136.1 L405.8,1153.2 L409.9,1143.3 L413.9,1137.4 L417.9,1141.3 L421.9,1117.1 L425.9,1114.8 L430.0,1136.8 L434.0,1104.7 L438.0,1103.6 L442.0,1119.7 L446.0,1125.1 L450.0,1120.3 L454.1,1110.3 L458.1,1118.8 L462.1,1106.0 L466.1,1109.7 L470.1,1116.6 L474.1,1114.9 L478.2,1107.4 L482.2,1115.1 L486.2,1126.3 L490.2,1109.1 L494.2,1109.1 L498.2,1125.3 L502.3,1138.2 L506.3,1099.3 L510.3,1090.5 L514.3,1112.4 L518.3,1098.9 L522.3,1079.2 L526.4,1096.7 L530.4,1089.2 L534.4,1082.3 L538.4,1112.1 L542.4,1082.0 L546.4,1064.1 L550.5,1065.3 L554.5,1073.0 L558.5,1106.9 L562.5,1127.7 L566.5,1084.1 L570.5,1055.2 L574.6,1085.6 L578.6,1111.7 L582.6,1107.1 L586.6,1078.9 L590.6,1079.1 L594.6,1087.6 L598.7,1082.0 L602.7,1073.4 L606.7,1082.2 L610.7,1094.8 L614.7,1089.3 L618.8,1083.6 L622.8,1069.1 L626.8,1067.7 L630.8,1099.4 L634.8,1101.7 L638.8,1070.3 L642.9,1092.2 L646.9,1114.6 L650.9,1126.2 L654.9,1118.9 L658.9,1089.3 L662.9,1071.3 L667.0,1096.1 L671.0,1141.2 L675.0,1116.1 L679.0,1079.8 L683.0,1098.2 L687.0,1094.7 L691.1,1085.8 L695.1,1091.6 L699.1,1097.8 L703.1,1115.7 L707.1,1112.5 L711.1,1111.7 L715.2,1104.9 L719.2,1099.0 L723.2,1075.9 L727.2,1056.2 L731.2,1092.3 L735.2,1099.9 L739.3,1098.4 L743.3,1110.6 L747.3,1119.4 L751.3,1121.0 L755.3,1116.9 L759.3,1104.0 L763.4,1082.7 L767.4,1074.5 L771.4,1076.1 L775.4,1069.6 L779.4,1068.4 L783.4,1079.5 L787.5,1087.7 L791.5,1082.8 L795.5,1054.7 L799.5,1058.7 L803.5,1082.0 L807.5,1094.9 L811.6,1096.8 L815.6,1074.3 L819.6,1058.2 L823.6,1090.4 L827.6,1104.4 L831.7,1102.5 L835.7,1113.8 L839.7,1082.6 L843.7,1063.4 L847.7,1077.1 L851.7,1078.5 L855.8,1078.8 L859.8,1073.9 L863.8,1069.3 L867.8,1047.8 L871.8,1045.6 L875.8,1053.5 L879.9,1058.1 L883.9,1060.9 L887.9,1068.4 L891.9,1083.9 L895.9,1080.6 L899.9,1076.0 L904.0,1074.5 L908.0,1066.5 L912.0,1065.4 L916.0,1066.0 L920.0,1075.0 L924.0,1082.1 L928.1,1086.9 L932.1,1071.5 L936.1,1079.9 L940.1,1086.4 L944.1,1070.7 L948.1,1080.2 L952.2,1084.2 L956.2,1093.4 L960.2,1094.9 L964.2,1082.0 L968.2,1082.1 L972.2,1114.3 L976.3,1125.7 L980.3,1099.6 L984.3,1103.8 L988.3,1100.7 L992.3,1127.9 L996.3,1127.3 L1000.4,1118.5 L1004.4,1144.8 L1008.4,1124.1 L1012.4,1126.8 L1016.4,1158.1 L1020.5,1162.5 L1024.5,1157.2 L1028.5,1166.6 L1032.5,1167.6 L1036.5,1164.1 L1040.5,1163.4 L1044.6,1170.5 L1048.6,1162.5 L1052.6,1169.2 L1056.6,1175.2 L1060.6,1156.3 L1064.6,1170.4 L1068.7,1205.3 L1072.7,1213.4 L1076.7,1189.5 L1080.7,1190.3 L1084.7,1191.7 L1088.7,1185.1 L1092.8,1193.2 L1096.8,1167.9 L1100.8,1173.8 L1104.8,1188.0 L1108.8,1180.1 L1112.8,1175.6 L1116.9,1167.7 L1120.9,1175.3 L1124.9,1204.1 L1128.9,1234.6 L1132.9,1223.8 L1136.9,1219.4 L1141.0,1215.5 L1145.0,1180.8 L1149.0,1187.9 L1153.0,1214.1 L1157.0,1206.5 L1161.0,1205.5 L1165.1,1216.3 L1169.1,1201.3 L1173.1,1177.4 L1177.1,1185.1 L1181.1,1197.9 L1185.1,1195.2 L1189.2,1208.7 L1193.2,1230.9 L1197.2,1211.5 L1201.2,1200.0 L1205.2,1213.4 L1209.2,1211.5 L1213.3,1211.1 L1217.3,1195.4 L1221.3,1191.3 L1225.3,1216.9 L1229.3,1213.9 L1233.4,1181.1 L1237.4,1178.1 L1241.4,1196.9 L1245.4,1190.8 L1249.4,1167.3 L1253.4,1180.1 L1257.5,1166.8 L1261.5,1155.1 L1265.5,1165.3 L1269.5,1143.0 L1273.5,1156.8 L1277.5,1170.0 L1281.6,1140.0 L1285.6,1142.6 L1289.6,1147.0 L1293.6,1116.0 L1297.6,1112.6 L1301.6,1135.2 L1305.7,1148.0 L1309.7,1144.7 L1313.7,1136.5 L1317.7,1138.8 L1321.7,1133.9 L1325.7,1142.0 L1329.8,1143.6 L1333.8,1133.4 L1337.8,1137.2 L1341.8,1120.3 L1345.8,1106.9 L1349.8,1137.2 L1353.9,1147.0 L1357.9,1127.1 L1361.9,1128.3 L1365.9,1125.8 L1369.9,1126.7 L1373.9,1124.5 L1378.0,1126.7 L1382.0,1115.9 L1386.0,1132.0 L1390.0,1142.7 L1394.0,1111.9 L1398.0,1118.3 L1402.1,1132.9 L1406.1,1139.5 L1410.1,1131.8 L1414.1,1138.4 L1418.1,1189.5 L1422.2,1173.8 L1426.2,1143.0 L1430.2,1154.8 L1434.2,1156.0 L1438.2,1139.8 L1442.2,1128.4 L1446.3,1156.3 L1450.3,1169.1 L1454.3,1184.9 L1458.3,1176.1 L1462.3,1162.3 L1466.3,1204.0 L1470.4,1189.4 L1474.4,1147.8 L1478.4,1155.0 L1482.4,1161.8 L1486.4,1169.1 L1490.4,1166.3 L1494.5,1143.8 L1498.5,1140.4 L1502.5,1173.0 L1506.5,1174.0 L1510.5,1106.4 L1514.5,1086.6 L1518.6,1097.4 L1522.6,1098.6 L1526.6,1096.3 L1530.6,1103.8 L1534.6,1105.8 L1538.6,1086.7 L1542.7,1070.6 L1546.7,1053.8 L1550.7,1050.0 L1554.7,1060.3 L1558.7,1057.6 L1562.7,1036.6 L1566.8,1044.5 L1570.8,1048.3 L1574.8,1033.9 L1578.8,1023.7 L1582.8,1020.3 L1586.8,1023.8 L1590.9,1000.0 L1594.9,1023.8 L1598.9,1060.3 L1602.9,1048.2 L1606.9,1056.0 L1610.9,1063.0 L1615.0,1056.6 L1619.0,1023.3 L1623.0,1020.1 L1627.0,1052.9 L1631.0,1074.4 L1635.1,1089.9 L1639.1,1090.1 L1643.1,1059.6 L1647.1,1025.6 L1651.1,1052.7 L1655.1,1082.0 L1659.2,1094.2 L1663.2,1097.5 L1667.2,1093.6 L1671.2,1076.1 L1675.2,1073.2 L1679.2,1068.7 L1683.3,1048.3 L1687.3,1034.9 L1691.3,1009.2 L1695.3,996.6 L1699.3,999.1 L1703.3,1021.9 L1707.4,1057.9 L1711.4,1084.3 L1715.4,1118.8 L1719.4,1190.1 L1723.4,1233.0 L1727.4,1259.0 L1731.5,1287.9 L1735.5,1288.0 L1739.5,1287.5 L1743.5,1302.8 L1747.5,1318.0 L1751.5,1326.4 L1755.6,1310.5 L1759.6,1300.3 L1763.6,1314.0 L1767.6,1339.3 L1771.6,1312.3 L1775.6,1304.3 L1779.7,1322.5 L1783.7,1324.2 L1787.7,1324.2 L1791.7,1325.0 L1795.7,1348.0 L1799.7,1347.0 L1803.8,1336.1 L1807.8,1336.8 L1811.8,1323.9 L1815.8,1327.7 L1819.8,1332.9 L1823.9,1318.9 L1827.9,1322.0 L1831.9,1328.3 L1835.9,1338.0 L1839.9,1339.5 L1843.9,1326.4 L1848.0,1344.4 L1852.0,1359.8 L1856.0,1358.7 L1860.0,1354.6 L1864.0,1340.3 L1868.0,1330.0 L1872.1,1329.0 L1876.1,1344.7 L1880.1,1348.3 L1884.1,1322.4 L1888.1,1323.0 L1892.1,1322.6 L1896.2,1327.0 L1900.2,1328.1 L1904.2,1314.1 L1908.2,1329.5 L1912.2,1341.8 L1916.2,1322.6 L1920.3,1334.1 L1924.3,1374.8 L1928.3,1348.7 L1932.3,1349.5 L1936.3,1355.2 L1940.3,1332.6 L1944.4,1338.6 L1948.4,1328.1 L1952.4,1346.5 L1956.4,1365.6 L1960.4,1344.1 L1964.4,1337.4" fill="none" stroke="#000000" stroke-width="3" shape-rendering="crispEdges"/>
<path d="M205.0,1122.2 L209.0,1122.6 L213.0,1122.9 L217.1,1123.3 L221.1,1123.7 L225.1,1124.1 L229.1,1124.5 L233.1,1124.8 L237.1,1125.2 L241.2,1125.5 L245.2,1125.9 L249.2,1126.2 L253.2,1126.6 L257.2,1126.9 L261.2,1127.2 L265.3,1127.5 L269.3,1127.8 L273.3,1128.1 L277.3,1128.4 L281.3,1128.6 L285.3,1128.9 L289.4,1129.1 L293.4,1129.3 L297.4,1129.6 L301.4,1129.8 L305.4,1129.9 L309.4,1130.1 L313.5,1130.2 L317.5,1130.4 L321.5,1130.5 L325.5,1130.5 L329.5,1130.6 L333.5,1130.6 L337.6,1130.7 L341.6,1130.6 L345.6,1130.6 L349.6,1130.5 L353.6,1130.4 L357.6,1130.3 L361.7,1130.2 L365.7,1130.0 L369.7,1129.7 L373.7,1129.5 L377.7,1129.2 L381.7,1128.9 L385.8,1128.5 L389.8,1128.1 L393.8,1127.6 L397.8,1127.1 L401.8,1126.6 L405.8,1126.0 L409.9,1125.4 L413.9,1124.7 L417.9,1124.0 L421.9,1123.3 L425.9,1122.5 L430.0,1121.7 L434.0,1120.8 L438.0,1119.9 L442.0,1118.9 L446.0,1117.9 L450.0,1116.8 L454.1,1115.8 L458.1,1114.6 L462.1,1113.5 L466.1,1112.3 L470.1,1111.0 L474.1,1109.8 L478.2,1108.5 L482.2,1107.1 L486.2,1105.8 L490.2,1104.5 L494.2,1103.1 L498.2,1101.7 L502.3,1100.3 L506.3,1099.0 L510.3,1097.6 L514.3,1096.3 L518.3,1095.0 L522.3,1093.7 L526.4,1092.5 L530.4,1091.3 L534.4,1090.2 L538.4,1089.2 L542.4,1088.2 L546.4,1087.4 L550.5,1086.6 L554.5,1086.0 L558.5,1085.5 L562.5,1085.1 L566.5,1084.9 L570.5,1084.8 L574.6,1084.8 L578.6,1085.0 L582.6,1085.4 L586.6,1085.9 L590.6,1086.5 L594.6,1087.2 L598.7,1087.9 L602.7,1088.8 L606.7,1089.6 L610.7,1090.6 L614.7,1091.6 L618.8,1092.7 L622.8,1093.9 L626.8,1095.1 L630.8,1096.4 L634.8,1097.8 L638.8,1099.2 L642.9,1100.7 L646.9,1102.2 L650.9,1103.8 L654.9,1105.4 L658.9,1107.1 L662.9,1108.8 L667.0,1110.6 L671.0,1112.4 L675.0,1114.2 L679.0,1116.1 L683.0,1118.0 L687.0,1120.0 L691.1,1122.0 L695.1,1124.0 L699.1,1126.0 L703.1,1128.0 L707.1,1130.0 L711.1,1132.1 L715.2,1134.2 L719.2,1136.2 L723.2,1138.3 L727.2,1140.4 L731.2,1142.5 L735.2,1144.5 L739.3,1146.6 L743.3,1148.6 L747.3,1150.7 L751.3,1152.7 L755.3,1154.7 L759.3,1156.7 L763.4,1158.7 L767.4,1160.6 L771.4,1162.6 L775.4,1164.5 L779.4,1166.4 L783.4,1168.2 L787.5,1170.0 L791.5,1171.8 L795.5,1173.6 L799.5,1175.4 L803.5,1177.1 L807.5,1178.7 L811.6,1180.4 L815.6,1182.0 L819.6,1183.6 L823.6,1185.1 L827.6,1186.6 L831.7,1188.1 L835.7,1189.6 L839.7,1191.0 L843.7,1192.4 L847.7,1193.7 L851.7,1195.0 L855.8,1196.3 L859.8,1197.6 L863.8,1198.8 L867.8,1200.0 L871.8,1201.2 L875.8,1202.3 L879.9,1203.4 L883.9,1204.5 L887.9,1205.5 L891.9,1206.6 L895.9,1207.6 L899.9,1208.5 L904.0,1209.5 L908.0,1210.4 L912.0,1211.3 L916.0,1212.2 L920.0,1213.0 L924.0,1213.9 L928.1,1214.7 L932.1,1215.5 L936.1,1216.3 L940.1,1217.0 L944.1,1217.8 L948.1,1218.5 L952.2,1219.2 L956.2,1220.0 L960.2,1220.6 L964.2,1221.3 L968.2,1222.0 L972.2,1222.7 L976.3,1223.3 L980.3,1223.9 L984.3,1224.6 L988.3,1225.2 L992.3,1225.8 L996.3,1226.4 L1000.4,1227.0 L1004.4,1227.6 L1008.4,1228.2 L1012.4,1228.7 L1016.4,1229.3 L1020.5,1229.9 L1024.5,1230.4 L1028.5,1231.0 L1032.5,1231.5 L1036.5,1232.1 L1040.5,1232.6 L1044.6,1233.2 L1048.6,1233.7 L1052.6,1234.2 L1056.6,1234.8 L1060.6,1235.3 L1064.6,1235.8 L1068.7,1236.3 L1072.7,1236.8 L1076.7,1237.4 L1080.7,1237.9 L1084.7,1238.4 L1088.7,1238.9 L1092.8,1239.4 L1096.8,1239.9 L1100.8,1240.4 L1104.8,1241.0 L1108.8,1241.5 L1112.8,1242.0 L1116.9,1242.5 L1120.9,1243.0 L1124.9,1243.5 L1128.9,1244.0 L1132.9,1244.5 L1136.9,1245.0 L1141.0,1245.5 L1145.0,1246.0 L1149.0,1246.5 L1153.0,1247.0 L1157.0,1247.5 L1161.0,1248.0 L1165.1,1248.5 L1169.1,1249.0 L1173.1,1249.5 L1177.1,1250.0 L1181.1,1250.5 L1185.1,1251.0 L1189.2,1251.5 L1193.2,1252.0 L1197.2,1252.5 L1201.2,1253.0 L1205.2,1253.5 L1209.2,1254.0 L1213.3,1254.5 L1217.3,1255.0 L1221.3,1255.5 L1225.3,1256.0 L1229.3,1256.5 L1233.4,1257.0 L1237.4,1257.5 L1241.4,1258.0 L1245.4,1258.5 L1249.4,1259.0 L1253.4,1259.5 L1257.5,1260.0 L1261.5,1260.5 L1265.5,1261.0 L1269.5,1261.5 L1273.5,1262.0 L1277.5,1262.5 L1281.6,1263.0 L1285.6,1263.5 L1289.6,1264.0 L1293.6,1264.5 L1297.6,1265.0 L1301.6,1265.5 L1305.7,1266.0 L1309.7,1266.5 L1313.7,1267.0 L1317.7,1267.5 L1321.7,1268.0 L1325.7,1268.5 L1329.8,1269.0 L1333.8,1269.5 L1337.8,1270.0 L1341.8,1270.5 L1345.8,1271.0 L1349.8,1271.5 L1353.9,1272.0 L1357.9,1272.5 L1361.9,1273.0 L1365.9,1273.5 L1369.9,1274.0 L1373.9,1274.4 L1378.0,1274.9 L1382.0,1275.4 L1386.0,1275.9 L1390.0,1276.4 L1394.0,1276.9 L1398.0,1277.4 L1402.1,1277.9 L1406.1,1278.4 L1410.1,1278.9 L1414.1,1279.4 L1418.1,1279.9 L1422.2,1280.4 L1426.2,1280.9 L1430.2,1281.4 L1434.2,1281.9 L1438.2,1282.4 L1442.2,1282.8 L1446.3,1283.3 L1450.3,1283.8 L1454.3,1284.3 L1458.3,1284.8 L1462.3,1285.3 L1466.3,1285.8 L1470.4,1286.3 L1474.4,1286.8 L1478.4,1287.3 L1482.4,1287.8 L1486.4,1288.3 L1490.4,1288.8 L1494.5,1289.3 L1498.5,1289.8 L1502.5,1290.3 L1506.5,1290.8 L1510.5,1291.2 L1514.5,1291.7 L1518.6,1292.2 L1522.6,1292.7 L1526.6,1293.2 L1530.6,1293.7 L1534.6,1294.2 L1538.6,1294.7 L1542.7,1295.2 L1546.7,1295.7 L1550.7,1296.2 L1554.7,1296.7 L1558.7,1297.2 L1562.7,1297.7 L1566.8,1298.2 L1570.8,1298.7 L1574.8,1299.2 L1578.8,1299.7 L1582.8,1300.1 L1586.8,1300.6 L1590.9,1301.1 L1594.9,1301.6 L1598.9,1302.1 L1602.9,1302.6 L1606.9,1303.1 L1610.9,1303.6 L1615.0,1304.1 L1619.0,1304.6 L1623.0,1305.1 L1627.0,1305.6 L1631.0,1306.1 L1635.1,1306.6 L1639.1,1307.1 L1643.1,1307.6 L1647.1,1308.1 L1651.1,1308.5 L1655.1,1309.0 L1659.2,1309.6 L1663.2,1310.1 L1667.2,1310.6 L1671.2,1311.1 L1675.2,1311.6 L1679.2,1312.1 L1683.3,1312.6 L1687.3,1313.2 L1691.3,1313.7 L1695.3,1314.2 L1699.3,1314.7 L1703.3,1315.2 L1707.4,1315.7 L1711.4,1316.2 L1715.4,1316.8 L1719.4,1317.3 L1723.4,1317.8 L1727.4,1318.3 L1731.5,1318.8 L1735.5,1319.3 L1739.5,1319.9 L1743.5,1320.4 L1747.5,1320.9 L1751.5,1321.4 L1755.6,1321.9 L1759.6,1322.4 L1763.6,1322.9 L1767.6,1323.4 L1771.6,1323.9 L1775.6,1324.4 L1779.7,1324.9 L1783.7,1325.4 L1787.7,1325.9 L1791.7,1326.4 L1795.7,1326.9 L1799.7,1327.5 L1803.8,1328.0 L1807.8,1328.5 L1811.8,1329.0 L1815.8,1329.5 L1819.8,1330.0 L1823.9,1330.5 L1827.9,1331.0 L1831.9,1331.5 L1835.9,1332.0 L1839.9,1332.5 L1843.9,1333.0 L1848.0,1333.5 L1852.0,1334.0 L1856.0,1334.5 L1860.0,1335.0 L1864.0,1335.5 L1868.0,1336.1 L1872.1,1336.6 L1876.1,1337.1 L1880.1,1337.6 L1884.1,1338.1 L1888.1,1338.6 L1892.1,1339.1 L1896.2,1339.6 L1900.2,1340.1 L1904.2,1340.6 L1908.2,1341.1 L1912.2,1341.6 L1916.2,1342.1 L1920.3,1342.6 L1924.3,1343.1 L1928.3,1343.6 L1932.3,1344.2 L1936.3,1344.7 L1940.3,1345.2 L1944.4,1345.7 L1948.4,1346.2 L1952.4,1346.7 L1956.4,1347.2 L1960.4,1347.7 L1964.4,1348.2 L1966.0,1348.4" fill="none" stroke="#00ff00" stroke-width="3" shape-rendering="crispEdges"/>
<path d="M205.0,1127.6 L209.0,1128.1 L213.0,1128.6 L217.1,1129.1 L221.1,1129.6 L225.1,1130.1 L229.1,1130.7 L233.1,1131.2 L237.1,1131.7 L241.2,1132.2 L245.2,1132.7 L249.2,1133.2 L253.2,1133.7 L257.2,1134.2 L261.2,1134.7 L265.3,1135.2 L269.3,1135.7 L273.3,1136.2 L277.3,1136.8 L281.3,1137.3 L285.3,1137.8 L289.4,1138.3 L293.4,1138.8 L297.4,1139.3 L301.4,1139.8 L305.4,1140.3 L309.4,1140.8 L313.5,1141.3 L317.5,1141.8 L321.5,1142.4 L325.5,1142.9 L329.5,1143.4 L333.5,1143.9 L337.6,1144.4 L341.6,1144.9 L345.6,1145.4 L349.6,1145.9 L353.6,1146.4 L357.6,1146.9 L361.7,1147.4 L365.7,1147.9 L369.7,1148.5 L373.7,1149.0 L377.7,1149.5 L381.7,1150.0 L385.8,1150.5 L389.8,1151.0 L393.8,1151.5 L397.8,1152.0 L401.8,1152.5 L405.8,1153.0 L409.9,1153.5 L413.9,1154.0 L417.9,1154.5 L421.9,1155.1 L425.9,1155.6 L430.0,1156.1 L434.0,1156.6 L438.0,1157.1 L442.0,1157.6 L446.0,1158.1 L450.0,1158.6 L454.1,1159.1 L458.1,1159.6 L462.1,1160.1 L466.1,1160.6 L470.1,1161.1 L474.1,1161.6 L478.2,1162.1 L482.2,1162.6 L486.2,1163.1 L490.2,1163.6 L494.2,1164.1 L498.2,1164.6 L502.3,1165.1 L506.3,1165.5 L510.3,1166.0 L514.3,1166.5 L518.3,1167.0 L522.3,1167.4 L526.4,1167.9 L530.4,1168.3 L534.4,1168.8 L538.4,1169.2 L542.4,1169.7 L546.4,1170.1 L550.5,1170.5 L554.5,1170.9 L558.5,1171.3 L562.5,1171.7 L566.5,1172.0 L570.5,1172.4 L574.6,1172.7 L578.6,1173.0 L582.6,1173.3 L586.6,1173.6 L590.6,1173.9 L594.6,1174.1 L598.7,1174.3 L602.7,1174.5 L606.7,1174.6 L610.7,1174.7 L614.7,1174.8 L618.8,1174.8 L622.8,1174.8 L626.8,1174.7 L630.8,1174.6 L634.8,1174.5 L638.8,1174.3 L642.9,1174.1 L646.9,1173.8 L650.9,1173.4 L654.9,1173.0 L658.9,1172.5 L662.9,1171.9 L667.0,1171.3 L671.0,1170.6 L675.0,1169.9 L679.0,1169.0 L683.0,1168.1 L687.0,1167.1 L691.1,1166.0 L695.1,1164.8 L699.1,1163.6 L703.1,1162.3 L707.1,1160.8 L711.1,1159.3 L715.2,1157.7 L719.2,1156.1 L723.2,1154.3 L727.2,1152.4 L731.2,1150.5 L735.2,1148.5 L739.3,1146.4 L743.3,1144.2 L747.3,1142.0 L751.3,1139.7 L755.3,1137.3 L759.3,1134.9 L763.4,1132.4 L767.4,1129.9 L771.4,1127.4 L775.4,1124.8 L779.4,1122.1 L783.4,1119.5 L787.5,1116.9 L791.5,1114.2 L795.5,1111.6 L799.5,1108.9 L803.5,1106.3 L807.5,1103.8 L811.6,1101.3 L815.6,1098.8 L819.6,1096.4 L823.6,1094.1 L827.6,1091.9 L831.7,1089.7 L835.7,1087.7 L839.7,1085.8 L843.7,1084.0 L847.7,1082.3 L851.7,1080.8 L855.8,1079.4 L859.8,1078.2 L863.8,1077.1 L867.8,1076.2 L871.8,1075.5 L875.8,1075.0 L879.9,1074.6 L883.9,1074.4 L887.9,1074.5 L891.9,1074.7 L895.9,1075.1 L899.9,1075.7 L904.0,1076.4 L908.0,1077.3 L912.0,1078.3 L916.0,1079.5 L920.0,1080.8 L924.0,1082.3 L928.1,1083.9 L932.1,1085.7 L936.1,1087.6 L940.1,1089.6 L944.1,1091.7 L948.1,1094.0 L952.2,1096.4 L956.2,1098.9 L960.2,1101.4 L964.2,1104.1 L968.2,1106.9 L972.2,1109.7 L976.3,1112.6 L980.3,1115.6 L984.3,1118.6 L988.3,1121.7 L992.3,1124.9 L996.3,1128.0 L1000.4,1131.2 L1004.4,1134.5 L1008.4,1137.7 L1012.4,1141.0 L1016.4,1144.2 L1020.5,1147.5 L1024.5,1150.8 L1028.5,1154.0 L1032.5,1157.3 L1036.5,1160.5 L1040.5,1163.7 L1044.6,1166.8 L1048.6,1169.9 L1052.6,1173.0 L1056.6,1176.0 L1060.6,1179.0 L1064.6,1181.9 L1068.7,1184.8 L1072.7,1187.7 L1076.7,1190.4 L1080.7,1193.1 L1084.7,1195.8 L1088.7,1198.4 L1092.8,1200.9 L1096.8,1203.3 L1100.8,1205.7 L1104.8,1208.1 L1108.8,1210.3 L1112.8,1212.5 L1116.9,1214.6 L1120.9,1216.7 L1124.9,1218.7 L1128.9,1220.6 L1132.9,1222.5 L1136.9,1224.3 L1141.0,1226.0 L1145.0,1227.7 L1149.0,1229.3 L1153.0,1230.9 L1157.0,1232.4 L1161.0,1233.9 L1165.1,1235.3 L1169.1,1236.6 L1173.1,1238.0 L1177.1,1239.2 L1181.1,1240.4 L1185.1,1241.6 L1189.2,1242.8 L1193.2,1243.8 L1197.2,1244.9 L1201.2,1245.9 L1205.2,1246.9 L1209.2,1247.9 L1213.3,1248.8 L1217.3,1249.7 L1221.3,1250.6 L1225.3,1251.4 L1229.3,1252.2 L1233.4,1253.0 L1237.4,1253.8 L1241.4,1254.6 L1245.4,1255.3 L1249.4,1256.0 L1253.4,1256.7 L1257.5,1257.4 L1261.5,1258.1 L1265.5,1258.7 L1269.5,1259.4 L1273.5,1260.0 L1277.5,1260.6 L1281.6,1261.2 L1285.6,1261.8 L1289.6,1262.4 L1293.6,1263.0 L1297.6,1263.6 L1301.6,1264.2 L1305.7,1264.8 L1309.7,1265.3 L1313.7,1265.9 L1317.7,1266.4 L1321.7,1267.0 L1325.7,1267.5 L1329.8,1268.1 L1333.8,1268.6 L1337.8,1269.1 L1341.8,1269.7 L1345.8,1270.2 L1349.8,1270.7 L1353.9,1271.2 L1357.9,1271.7 L1361.9,1272.3 L1365.9,1272.8 L1369.9,1273.3 L1373.9,1273.8 L1378.0,1274.3 L1382.0,1274.8 L1386.0,1275.3 L1390.0,1275.8 L1394.0,1276.3 L1398.0,1276.9 L1402.1,1277.4 L1406.1,1277.9 L1410.1,1278.4 L1414.1,1278.9 L1418.1,1279.4 L1422.2,1279.9 L1426.2,1280.4 L1430.2,1280.9 L1434.2,1281.4 L1438.2,1281.9 L1442.2,1282.4 L1446.3,1282.9 L1450.3,1283.4 L1454.3,1283.9 L1458.3,1284.4 L1462.3,1284.9 L1466.3,1285.4 L1470.4,1285.9 L1474.4,1286.4 L1478.4,1286.9 L1482.4,1287.4 L1486.4,1287.9 L1490.4,1288.4 L1494.5,1288.9 L1498.5,1289.4 L1502.5,1289.9 L1506.5,1290.4 L1510.5,1290.9 L1514.5,1291.4 L1518.6,1291.9 L1522.6,1292.4 L1526.6,1292.9 L1530.6,1293.4 L1534.6,1293.9 L1538.6,1294.4 L1542.7,1294.9 L1546.7,1295.4 L1550.7,1295.9 L1554.7,1296.4 L1558.7,1296.9 L1562.7,1297.4 L1566.8,1297.9 L1570.8,1298.4 L1574.8,1298.9 L1578.8,1299.4 L1582.8,1299.9 L1586.8,1300.3 L1590.9,1300.8 L1594.9,1301.3 L1598.9,1301.8 L1602.9,1302.3 L1606.9,1302.8 L1610.9,1303.3 L1615.0,1303.8 L1619.0,1304.3 L1623.0,1304.8 L1627.0,1305.3 L1631.0,1305.8 L1635.1,1306.3 L1639.1,1306.8 L1643.1,1307.3 L1647.1,1307.8 L1651.1,1308.3 L1655.1,1308.8 L1659.2,1309.3 L1663.2,1309.8 L1667.2,1310.4 L1671.2,1310.9 L1675.2,1311.4 L1679.2,1311.9 L1683.3,1312.4 L1687.3,1312.9 L1691.3,1313.5 L1695.3,1314.0 L1699.3,1314.5 L1703.3,1315.0 L1707.4,1315.5 L1711.4,1316.0 L1715.4,1316.6 L1719.4,1317.1 L1723.4,1317.6 L1727.4,1318.1 L1731.5,1318.6 L1735.5,1319.1 L1739.5,1319.7 L1743.5,1320.2 L1747.5,1320.7 L1751.5,1321.2 L1755.6,1321.7 L1759.6,1322.2 L1763.6,1322.7 L1767.6,1323.2 L1771.6,1323.7 L1775.6,1324.2 L1779.7,1324.7 L1783.7,1325.2 L1787.7,1325.8 L1791.7,1326.3 L1795.7,1326.8 L1799.7,1327.3 L1803.8,1327.8 L1807.8,1328.3 L1811.8,1328.8 L1815.8,1329.3 L1819.8,1329.8 L1823.9,1330.3 L1827.9,1330.8 L1831.9,1331.3 L1835.9,1331.8 L1839.9,1332.4 L1843.9,1332.9 L1848.0,1333.4 L1852.0,1333.9 L1856.0,1334.4 L1860.0,1334.9 L1864.0,1335.4 L1868.0,1335.9 L1872.1,1336.4 L1876.1,1336.9 L1880.1,1337.4 L1884.1,1337.9 L1888.1,1338.4 L1892.1,1339.0 L1896.2,1339.5 L1900.2,1340.0 L1904.2,1340.5 L1908.2,1341.0 L1912.2,1341.5 L1916.2,1342.0 L1920.3,1342.5 L1924.3,1343.0 L1928.3,1343.5 L1932.3,1344.0 L1936.3,1344.5 L1940.3,1345.0 L1944.4,1345.5 L1948.4,1346.1 L1952.4,1346.6 L1956.4,1347.1 L1960.4,1347.6 L1964.4,1348.1 L1966.0,1348.3" fill="none" stroke="#0000ff" stroke-width="3" shape-rendering="crispEdges"/>
<path d="M205.0,1127.6 L209.0,1128.1 L213.0,1128.6 L217.1,1129.1 L221.1,1129.6 L225.1,1130.1 L229.1,1130.7 L233.1,1131.2 L237.1,1131.7 L241.2,1132.2 L245.2,1132.7 L249.2,1133.2 L253.2,1133.7 L257.2,1134.2 L261.2,1134.7 L265.3,1135.2 L269.3,1135.7 L273.3,1136.2 L277.3,1136.8 L281.3,1137.3 L285.3,1137.8 L289.4,1138.3 L293.4,1138.8 L297.4,1139.3 L301.4,1139.8 L305.4,1140.3 L309.4,1140.8 L313.5,1141.3 L317.5,1141.8 L321.5,1142.4 L325.5,1142.9 L329.5,1143.4 L333.5,1143.9 L337.6,1144.4 L341.6,1144.9 L345.6,1145.4 L349.6,1145.9 L353.6,1146.4 L357.6,1146.9 L361.7,1147.4 L365.7,1147.9 L369.7,1148.5 L373.7,1149.0 L377.7,1149.5 L381.7,1150.0 L385.8,1150.5 L389.8,1151.0 L393.8,1151.5 L397.8,1152.0 L401.8,1152.5 L405.8,1153.0 L409.9,1153.5 L413.9,1154.0 L417.9,1154.6 L421.9,1155.1 L425.9,1155.6 L430.0,1156.1 L434.0,1156.6 L438.0,1157.1 L442.0,1157.6 L446.0,1158.1 L450.0,1158.6 L454.1,1159.1 L458.1,1159.6 L462.1,1160.2 L466.1,1160.7 L470.1,1161.2 L474.1,1161.7 L478.2,1162.2 L482.2,1162.7 L486.2,1163.2 L490.2,1163.7 L494.2,1164.2 L498.2,1164.7 L502.3,1165.2 L506.3,1165.7 L510.3,1166.3 L514.3,1166.8 L518.3,1167.3 L522.3,1167.8 L526.4,1168.3 L530.4,1168.8 L534.4,1169.3 L538.4,1169.8 L542.4,1170.3 L546.4,1170.8 L550.5,1171.3 L554.5,1171.9 L558.5,1172.4 L562.5,1172.9 L566.5,1173.4 L570.5,1173.9 L574.6,1174.4 L578.6,1174.9 L582.6,1175.4 L586.6,1175.9 L590.6,1176.4 L594.6,1176.9 L598.7,1177.4 L602.7,1178.0 L606.7,1178.5 L610.7,1179.0 L614.7,1179.5 L618.8,1180.0 L622.8,1180.5 L626.8,1181.0 L630.8,1181.5 L634.8,1182.0 L638.8,1182.5 L642.9,1183.0 L646.9,1183.5 L650.9,1184.1 L654.9,1184.6 L658.9,1185.1 L662.9,1185.6 L667.0,1186.1 L671.0,1186.6 L675.0,1187.1 L679.0,1187.6 L683.0,1188.1 L687.0,1188.6 L691.1,1189.1 L695.1,1189.7 L699.1,1190.2 L703.1,1190.7 L707.1,1191.2 L711.1,1191.7 L715.2,1192.2 L719.2,1192.7 L723.2,1193.2 L727.2,1193.7 L731.2,1194.2 L735.2,1194.7 L739.3,1195.2 L743.3,1195.8 L747.3,1196.3 L751.3,1196.8 L755.3,1197.3 L759.3,1197.8 L763.4,1198.3 L767.4,1198.8 L771.4,1199.3 L775.4,1199.8 L779.4,1200.3 L783.4,1200.8 L787.5,1201.4 L791.5,1201.9 L795.5,1202.4 L799.5,1202.9 L803.5,1203.4 L807.5,1203.9 L811.6,1204.4 L815.6,1204.9 L819.6,1205.4 L823.6,1205.9 L827.6,1206.4 L831.7,1206.9 L835.7,1207.5 L839.7,1208.0 L843.7,1208.5 L847.7,1209.0 L851.7,1209.5 L855.8,1210.0 L859.8,1210.5 L863.8,1211.0 L867.8,1211.5 L871.8,1212.0 L875.8,1212.5 L879.9,1213.0 L883.9,1213.5 L887.9,1214.1 L891.9,1214.6 L895.9,1215.1 L899.9,1215.6 L904.0,1216.1 L908.0,1216.6 L912.0,1217.1 L916.0,1217.5 L920.0,1218.0 L924.0,1218.5 L928.1,1219.0 L932.1,1219.5 L936.1,1220.0 L940.1,1220.5 L944.1,1221.0 L948.1,1221.5 L952.2,1221.9 L956.2,1222.4 L960.2,1222.9 L964.2,1223.4 L968.2,1223.8 L972.2,1224.3 L976.3,1224.8 L980.3,1225.2 L984.3,1225.7 L988.3,1226.1 L992.3,1226.6 L996.3,1227.0 L1000.4,1227.4 L1004.4,1227.8 L1008.4,1228.2 L1012.4,1228.6 L1016.4,1229.0 L1020.5,1229.4 L1024.5,1229.8 L1028.5,1230.1 L1032.5,1230.4 L1036.5,1230.7 L1040.5,1231.0 L1044.6,1231.3 L1048.6,1231.6 L1052.6,1231.8 L1056.6,1232.0 L1060.6,1232.2 L1064.6,1232.3 L1068.7,1232.4 L1072.7,1232.5 L1076.7,1232.5 L1080.7,1232.5 L1084.7,1232.5 L1088.7,1232.4 L1092.8,1232.3 L1096.8,1232.1 L1100.8,1231.9 L1104.8,1231.6 L1108.8,1231.3 L1112.8,1230.9 L1116.9,1230.4 L1120.9,1229.9 L1124.9,1229.3 L1128.9,1228.7 L1132.9,1228.0 L1136.9,1227.2 L1141.0,1226.3 L1145.0,1225.3 L1149.0,1224.3 L1153.0,1223.2 L1157.0,1222.0 L1161.0,1220.7 L1165.1,1219.3 L1169.1,1217.9 L1173.1,1216.3 L1177.1,1214.7 L1181.1,1213.0 L1185.1,1211.2 L1189.2,1209.3 L1193.2,1207.4 L1197.2,1205.3 L1201.2,1203.2 L1205.2,1201.0 L1209.2,1198.7 L1213.3,1196.4 L1217.3,1194.0 L1221.3,1191.5 L1225.3,1189.0 L1229.3,1186.4 L1233.4,1183.8 L1237.4,1181.2 L1241.4,1178.5 L1245.4,1175.8 L1249.4,1173.1 L1253.4,1170.4 L1257.5,1167.7 L1261.5,1165.0 L1265.5,1162.3 L1269.5,1159.7 L1273.5,1157.1 L1277.5,1154.5 L1281.6,1152.0 L1285.6,1149.6 L1289.6,1147.2 L1293.6,1145.0 L1297.6,1142.8 L1301.6,1140.8 L1305.7,1138.8 L1309.7,1137.0 L1313.7,1135.3 L1317.7,1133.8 L1321.7,1132.4 L1325.7,1131.2 L1329.8,1130.1 L1333.8,1129.2 L1337.8,1128.5 L1341.8,1127.9 L1345.8,1127.5 L1349.8,1127.4 L1353.9,1127.4 L1357.9,1127.6 L1361.9,1128.0 L1365.9,1128.5 L1369.9,1129.3 L1373.9,1130.1 L1378.0,1131.2 L1382.0,1132.4 L1386.0,1133.7 L1390.0,1135.2 L1394.0,1136.8 L1398.0,1138.6 L1402.1,1140.5 L1406.1,1142.6 L1410.1,1144.7 L1414.1,1147.0 L1418.1,1149.4 L1422.2,1152.0 L1426.2,1154.6 L1430.2,1157.3 L1434.2,1160.2 L1438.2,1163.1 L1442.2,1166.0 L1446.3,1169.1 L1450.3,1172.2 L1454.3,1175.4 L1458.3,1178.6 L1462.3,1181.9 L1466.3,1185.2 L1470.4,1188.6 L1474.4,1191.9 L1478.4,1195.3 L1482.4,1198.7 L1486.4,1202.1 L1490.4,1205.5 L1494.5,1208.8 L1498.5,1212.2 L1502.5,1215.5 L1506.5,1218.9 L1510.5,1222.1 L1514.5,1225.4 L1518.6,1228.6 L1522.6,1231.8 L1526.6,1234.9 L1530.6,1237.9 L1534.6,1240.9 L1538.6,1243.9 L1542.7,1246.8 L1546.7,1249.6 L1550.7,1252.3 L1554.7,1255.0 L1558.7,1257.7 L1562.7,1260.2 L1566.8,1262.7 L1570.8,1265.1 L1574.8,1267.5 L1578.8,1269.8 L1582.8,1272.0 L1586.8,1274.1 L1590.9,1276.2 L1594.9,1278.2 L1598.9,1280.1 L1602.9,1282.0 L1606.9,1283.8 L1610.9,1285.5 L1615.0,1287.2 L1619.0,1288.8 L1623.0,1290.4 L1627.0,1291.9 L1631.0,1293.3 L1635.1,1294.7 L1639.1,1296.1 L1643.1,1297.4 L1647.1,1298.6 L1651.1,1299.8 L1655.1,1301.0 L1659.2,1302.1 L1663.2,1303.2 L1667.2,1304.2 L1671.2,1305.3 L1675.2,1306.2 L1679.2,1307.2 L1683.3,1308.1 L1687.3,1309.0 L1691.3,1309.9 L1695.3,1310.7 L1699.3,1311.5 L1703.3,1312.3 L1707.4,1313.1 L1711.4,1313.8 L1715.4,1314.6 L1719.4,1315.3 L1723.4,1316.0 L1727.4,1316.7 L1731.5,1317.3 L1735.5,1318.0 L1739.5,1318.6 L1743.5,1319.3 L1747.5,1319.9 L1751.5,1320.5 L1755.6,1321.1 L1759.6,1321.7 L1763.6,1322.3 L1767.6,1322.8 L1771.6,1323.4 L1775.6,1324.0 L1779.7,1324.5 L1783.7,1325.1 L1787.7,1325.6 L1791.7,1326.1 L1795.7,1326.7 L1799.7,1327.2 L1803.8,1327.8 L1807.8,1328.3 L1811.8,1328.8 L1815.8,1329.3 L1819.8,1329.9 L1823.9,1330.4 L1827.9,1330.9 L1831.9,1331.4 L1835.9,1331.9 L1839.9,1332.4 L1843.9,1333.0 L1848.0,1333.5 L1852.0,1334.0 L1856.0,1334.5 L1860.0,1335.0 L1864.0,1335.5 L1868.0,1336.0 L1872.1,1336.5 L1876.1,1337.0 L1880.1,1337.6 L1884.1,1338.1 L1888.1,1338.6 L1892.1,1339.1 L1896.2,1339.6 L1900.2,1340.1 L1904.2,1340.6 L1908.2,1341.1 L1912.2,1341.6 L1916.2,1342.1 L1920.3,1342.6 L1924.3,1343.1 L1928.3,1343.6 L1932.3,1344.2 L1936.3,1344.7 L1940.3,1345.2 L1944.4,1345.7 L1948.4,1346.2 L1952.4,1346.7 L1956.4,1347.2 L1960.4,1347.7 L1964.4,1348.2 L1966.0,1348.4" fill="none" stroke="#00ffff" stroke-width="3" shape-rendering="crispEdges"/>
<path d="M205.0,1127.6 L209.0,1128.1 L213.0,1128.6 L217.1,1129.1 L221.1,1129.6 L225.1,1130.1 L229.1,1130.7 L233.1,1131.2 L237.1,1131.7 L241.2,1132.2 L245.2,1132.7 L249.2,1133.2 L253.2,1133.7 L257.2,1134.2 L261.2,1134.7 L265.3,1135.2 L269.3,1135.7 L273.3,1136.2 L277.3,1136.8 L281.3,1137.3 L285.3,1137.8 L289.4,1138.3 L293.4,1138.8 L297.4,1139.3 L301.4,1139.8 L305.4,1140.3 L309.4,1140.8 L313.5,1141.3 L317.5,1141.8 L321.5,1142.4 L325.5,1142.9 L329.5,1143.4 L333.5,1143.9 L337.6,1144.4 L341.6,1144.9 L345.6,1145.4 L349.6,1145.9 L353.6,1146.4 L357.6,1146.9 L361.7,1147.4 L365.7,1147.9 L369.7,1148.5 L373.7,1149.0 L377.7,1149.5 L381.7,1150.0 L385.8,1150.5 L389.8,1151.0 L393.8,1151.5 L397.8,1152.0 L401.8,1152.5 L405.8,1153.0 L409.9,1153.5 L413.9,1154.0 L417.9,1154.6 L421.9,1155.1 L425.9,1155.6 L430.0,1156.1 L434.0,1156.6 L438.0,1157.1 L442.0,1157.6 L446.0,1158.1 L450.0,1158.6 L454.1,1159.1 L458.1,1159.6 L462.1,1160.2 L466.1,1160.7 L470.1,1161.2 L474.1,1161.7 L478.2,1162.2 L482.2,1162.7 L486.2,1163.2 L490.2,1163.7 L494.2,1164.2 L498.2,1164.7 L502.3,1165.2 L506.3,1165.7 L510.3,1166.3 L514.3,1166.8 L518.3,1167.3 L522.3,1167.8 L526.4,1168.3 L530.4,1168.8 L534.4,1169.3 L538.4,1169.8 L542.4,1170.3 L546.4,1170.8 L550.5,1171.3 L554.5,1171.9 L558.5,1172.4 L562.5,1172.9 L566.5,1173.4 L570.5,1173.9 L574.6,1174.4 L578.6,1174.9 L582.6,1175.4 L586.6,1175.9 L590.6,1176.4 L594.6,1176.9 L598.7,1177.4 L602.7,1178.0 L606.7,1178.5 L610.7,1179.0 L614.7,1179.5 L618.8,1180.0 L622.8,1180.5 L626.8,1181.0 L630.8,1181.5 L634.8,1182.0 L638.8,1182.5 L642.9,1183.0 L646.9,1183.5 L650.9,1184.1 L654.9,1184.6 L658.9,1185.1 L662.9,1185.6 L667.0,1186.1 L671.0,1186.6 L675.0,1187.1 L679.0,1187.6 L683.0,1188.1 L687.0,1188.6 L691.1,1189.1 L695.1,1189.7 L699.1,1190.2 L703.1,1190.7 L707.1,1191.2 L711.1,1191.7 L715.2,1192.2 L719.2,1192.7 L723.2,1193.2 L727.2,1193.7 L731.2,1194.2 L735.2,1194.7 L739.3,1195.2 L743.3,1195.8 L747.3,1196.3 L751.3,1196.8 L755.3,1197.3 L759.3,1197.8 L763.4,1198.3 L767.4,1198.8 L771.4,1199.3 L775.4,1199.8 L779.4,1200.3 L783.4,1200.8 L787.5,1201.4 L791.5,1201.9 L795.5,1202.4 L799.5,1202.9 L803.5,1203.4 L807.5,1203.9 L811.6,1204.4 L815.6,1204.9 L819.6,1205.4 L823.6,1205.9 L827.6,1206.4 L831.7,1206.9 L835.7,1207.5 L839.7,1208.0 L843.7,1208.5 L847.7,1209.0 L851.7,1209.5 L855.8,1210.0 L859.8,1210.5 L863.8,1211.0 L867.8,1211.5 L871.8,1212.0 L875.8,1212.5 L879.9,1213.0 L883.9,1213.6 L887.9,1214.1 L891.9,1214.6 L895.9,1215.1 L899.9,1215.6 L904.0,1216.1 L908.0,1216.6 L912.0,1217.1 L916.0,1217.6 L920.0,1218.1 L924.0,1218.6 L928.1,1219.1 L932.1,1219.6 L936.1,1220.1 L940.1,1220.6 L944.1,1221.1 L948.1,1221.6 L952.2,1222.1 L956.2,1222.6 L960.2,1223.1 L964.2,1223.6 L968.2,1224.1 L972.2,1224.6 L976.3,1225.1 L980.3,1225.6 L984.3,1226.1 L988.3,1226.6 L992.3,1227.1 L996.3,1227.6 L1000.4,1228.1 L1004.4,1228.6 L1008.4,1229.1 L1012.4,1229.6 L1016.4,1230.1 L1020.5,1230.6 L1024.5,1231.1 L1028.5,1231.6 L1032.5,1232.1 L1036.5,1232.6 L1040.5,1233.1 L1044.6,1233.6 L1048.6,1234.1 L1052.6,1234.6 L1056.6,1235.1 L1060.6,1235.6 L1064.6,1236.1 L1068.7,1236.6 L1072.7,1237.0 L1076.7,1237.5 L1080.7,1238.0 L1084.7,1238.5 L1088.7,1239.0 L1092.8,1239.5 L1096.8,1240.0 L1100.8,1240.5 L1104.8,1241.0 L1108.8,1241.5 L1112.8,1242.0 L1116.9,1242.5 L1120.9,1243.0 L1124.9,1243.5 L1128.9,1244.0 L1132.9,1244.5 L1136.9,1245.0 L1141.0,1245.5 L1145.0,1246.0 L1149.0,1246.5 L1153.0,1247.0 L1157.0,1247.5 L1161.0,1248.0 L1165.1,1248.5 L1169.1,1249.0 L1173.1,1249.5 L1177.1,1250.0 L1181.1,1250.5 L1185.1,1251.0 L1189.2,1251.5 L1193.2,1252.0 L1197.2,1252.5 L1201.2,1253.0 L1205.2,1253.5 L1209.2,1254.0 L1213.3,1254.5 L1217.3,1255.0 L1221.3,1255.5 L1225.3,1256.0 L1229.3,1256.5 L1233.4,1257.0 L1237.4,1257.5 L1241.4,1258.0 L1245.4,1258.5 L1249.4,1259.0 L1253.4,1259.5 L1257.5,1260.0 L1261.5,1260.5 L1265.5,1261.0 L1269.5,1261.5 L1273.5,1262.0 L1277.5,1262.5 L1281.6,1263.0 L1285.6,1263.5 L1289.6,1264.0 L1293.6,1264.5 L1297.6,1265.0 L1301.6,1265.5 L1305.7,1266.0 L1309.7,1266.5 L1313.7,1267.0 L1317.7,1267.5 L1321.7,1268.0 L1325.7,1268.5 L1329.8,1269.0 L1333.8,1269.5 L1337.8,1270.0 L1341.8,1270.5 L1345.8,1271.0 L1349.8,1271.5 L1353.9,1272.0 L1357.9,1272.5 L1361.9,1273.0 L1365.9,1273.4 L1369.9,1273.9 L1373.9,1274.4 L1378.0,1274.9 L1382.0,1275.4 L1386.0,1275.9 L1390.0,1276.3 L1394.0,1276.8 L1398.0,1277.2 L1402.1,1277.7 L1406.1,1278.1 L1410.1,1278.4 L1414.1,1278.8 L1418.1,1279.0 L1422.2,1279.2 L1426.2,1279.4 L1430.2,1279.4 L1434.2,1279.2 L1438.2,1279.0 L1442.2,1278.5 L1446.3,1277.7 L1450.3,1276.7 L1454.3,1275.4 L1458.3,1273.7 L1462.3,1271.5 L1466.3,1268.9 L1470.4,1265.7 L1474.4,1261.9 L1478.4,1257.4 L1482.4,1252.2 L1486.4,1246.3 L1490.4,1239.6 L1494.5,1232.1 L1498.5,1223.9 L1502.5,1214.9 L1506.5,1205.3 L1510.5,1195.1 L1514.5,1184.4 L1518.6,1173.4 L1522.6,1162.2 L1526.6,1150.9 L1530.6,1139.9 L1534.6,1129.2 L1538.6,1119.1 L1542.7,1109.8 L1546.7,1101.5 L1550.7,1094.4 L1554.7,1088.7 L1558.7,1084.4 L1562.7,1081.8 L1566.8,1080.9 L1570.8,1081.8 L1574.8,1084.3 L1578.8,1088.5 L1582.8,1094.3 L1586.8,1101.6 L1590.9,1110.1 L1594.9,1119.8 L1598.9,1130.5 L1602.9,1141.8 L1606.9,1153.7 L1610.9,1165.8 L1615.0,1178.1 L1619.0,1190.2 L1623.0,1202.1 L1627.0,1213.6 L1631.0,1224.6 L1635.1,1235.0 L1639.1,1244.6 L1643.1,1253.5 L1647.1,1261.7 L1651.1,1269.1 L1655.1,1275.7 L1659.2,1281.6 L1663.2,1286.9 L1667.2,1291.4 L1671.2,1295.4 L1675.2,1298.9 L1679.2,1301.9 L1683.3,1304.5 L1687.3,1306.7 L1691.3,1308.6 L1695.3,1310.2 L1699.3,1311.6 L1703.3,1312.9 L1707.4,1313.9 L1711.4,1314.9 L1715.4,1315.7 L1719.4,1316.5 L1723.4,1317.2 L1727.4,1317.9 L1731.5,1318.5 L1735.5,1319.1 L1739.5,1319.7 L1743.5,1320.3 L1747.5,1320.8 L1751.5,1321.3 L1755.6,1321.8 L1759.6,1322.4 L1763.6,1322.9 L1767.6,1323.4 L1771.6,1323.9 L1775.6,1324.4 L1779.7,1324.9 L1783.7,1325.4 L1787.7,1325.9 L1791.7,1326.4 L1795.7,1326.9 L1799.7,1327.5 L1803.8,1328.0 L1807.8,1328.5 L1811.8,1329.0 L1815.8,1329.5 L1819.8,1330.0 L1823.9,1330.5 L1827.9,1331.0 L1831.9,1331.5 L1835.9,1332.0 L1839.9,1332.5 L1843.9,1333.0 L1848.0,1333.5 L1852.0,1334.0 L1856.0,1334.5 L1860.0,1335.0 L1864.0,1335.5 L1868.0,1336.1 L1872.1,1336.6 L1876.1,1337.1 L1880.1,1337.6 L1884.1,1338.1 L1888.1,1338.6 L1892.1,1339.1 L1896.2,1339.6 L1900.2,1340.1 L1904.2,1340.6 L1908.2,1341.1 L1912.2,1341.6 L1916.2,1342.1 L1920.3,1342.6 L1924.3,1343.1 L1928.3,1343.6 L1932.3,1344.2 L1936.3,1344.7 L1940.3,1345.2 L1944.4,1345.7 L1948.4,1346.2 L1952.4,1346.7 L1956.4,1347.2 L1960.4,1347.7 L1964.4,1348.2 L1966.0,1348.4" fill="none" stroke="#ff0000" stroke-width="3" shape-rendering="crispEdges"/>
<path d="M205.0,1127.6 L209.0,1128.1 L213.0,1128.6 L217.1,1129.1 L221.1,1129.6 L225.1,1130.1 L229.1,1130.7 L233.1,1131.2 L237.1,1131.7 L241.2,1132.2 L245.2,1132.7 L249.2,1133.2 L253.2,1133.7 L257.2,1134.2 L261.2,1134.7 L265.3,1135.2 L269.3,1135.7 L273.3,1136.2 L277.3,1136.8 L281.3,1137.3 L285.3,1137.8 L289.4,1138.3 L293.4,1138.8 L297.4,1139.3 L301.4,1139.8 L305.4,1140.3 L309.4,1140.8 L313.5,1141.3 L317.5,1141.8 L321.5,1142.4 L325.5,1142.9 L329.5,1143.4 L333.5,1143.9 L337.6,1144.4 L341.6,1144.9 L345.6,1145.4 L349.6,1145.9 L353.6,1146.4 L357.6,1146.9 L361.7,1147.4 L365.7,1147.9 L369.7,1148.5 L373.7,1149.0 L377.7,1149.5 L381.7,1150.0 L385.8,1150.5 L389.8,1151.0 L393.8,1151.5 L397.8,1152.0 L401.8,1152.5 L405.8,1153.0 L409.9,1153.5 L413.9,1154.0 L417.9,1154.6 L421.9,1155.1 L425.9,1155.6 L430.0,1156.1 L434.0,1156.6 L438.0,1157.1 L442.0,1157.6 L446.0,1158.1 L450.0,1158.6 L454.1,1159.1 L458.1,1159.6 L462.1,1160.2 L466.1,1160.7 L470.1,1161.2 L474.1,1161.7 L478.2,1162.2 L482.2,1162.7 L486.2,1163.2 L490.2,1163.7 L494.2,1164.2 L498.2,1164.7 L502.3,1165.2 L506.3,1165.7 L510.3,1166.3 L514.3,1166.8 L518.3,1167.3 L522.3,1167.8 L526.4,1168.3 L530.4,1168.8 L534.4,1169.3 L538.4,1169.8 L542.4,1170.3 L546.4,1170.8 L550.5,1171.3 L554.5,1171.9 L558.5,1172.4 L562.5,1172.9 L566.5,1173.4 L570.5,1173.9 L574.6,1174.4 L578.6,1174.9 L582.6,1175.4 L586.6,1175.9 L590.6,1176.4 L594.6,1176.9 L598.7,1177.4 L602.7,1178.0 L606.7,1178.5 L610.7,1179.0 L614.7,1179.5 L618.8,1180.0 L622.8,1180.5 L626.8,1181.0 L630.8,1181.5 L634.8,1182.0 L638.8,1182.5 L642.9,1183.0 L646.9,1183.5 L650.9,1184.1 L654.9,1184.6 L658.9,1185.1 L662.9,1185.6 L667.0,1186.1 L671.0,1186.6 L675.0,1187.1 L679.0,1187.6 L683.0,1188.1 L687.0,1188.6 L691.1,1189.1 L695.1,1189.7 L699.1,1190.2 L703.1,1190.7 L707.1,1191.2 L711.1,1191.7 L715.2,1192.2 L719.2,1192.7 L723.2,1193.2 L727.2,1193.7 L731.2,1194.2 L735.2,1194.7 L739.3,1195.2 L743.3,1195.8 L747.3,1196.3 L751.3,1196.8 L755.3,1197.3 L759.3,1197.8 L763.4,1198.3 L767.4,1198.8 L771.4,1199.3 L775.4,1199.8 L779.4,1200.3 L783.4,1200.8 L787.5,1201.4 L791.5,1201.9 L795.5,1202.4 L799.5,1202.9 L803.5,1203.4 L807.5,1203.9 L811.6,1204.4 L815.6,1204.9 L819.6,1205.4 L823.6,1205.9 L827.6,1206.4 L831.7,1206.9 L835.7,1207.5 L839.7,1208.0 L843.7,1208.5 L847.7,1209.0 L851.7,1209.5 L855.8,1210.0 L859.8,1210.5 L863.8,1211.0 L867.8,1211.5 L871.8,1212.0 L875.8,1212.5 L879.9,1213.0 L883.9,1213.6 L887.9,1214.1 L891.9,1214.6 L895.9,1215.1 L899.9,1215.6 L904.0,1216.1 L908.0,1216.6 L912.0,1217.1 L916.0,1217.6 L920.0,1218.1 L924.0,1218.6 L928.1,1219.1 L932.1,1219.6 L936.1,1220.1 L940.1,1220.6 L944.1,1221.1 L948.1,1221.6 L952.2,1222.1 L956.2,1222.6 L960.2,1223.1 L964.2,1223.6 L968.2,1224.1 L972.2,1224.6 L976.3,1225.1 L980.3,1225.6 L984.3,1226.1 L988.3,1226.6 L992.3,1227.1 L996.3,1227.6 L1000.4,1228.1 L1004.4,1228.6 L1008.4,1229.1 L1012.4,1229.6 L1016.4,1230.1 L1020.5,1230.6 L1024.5,1231.1 L1028.5,1231.6 L1032.5,1232.1 L1036.5,1232.6 L1040.5,1233.1 L1044.6,1233.6 L1048.6,1234.1 L1052.6,1234.6 L1056.6,1235.1 L1060.6,1235.6 L1064.6,1236.1 L1068.7,1236.6 L1072.7,1237.0 L1076.7,1237.5 L1080.7,1238.0 L1084.7,1238.5 L1088.7,1239.0 L1092.8,1239.5 L1096.8,1240.0 L1100.8,1240.5 L1104.8,1241.0 L1108.8,1241.5 L1112.8,1242.0 L1116.9,1242.5 L1120.9,1243.0 L1124.9,1243.5 L1128.9,1244.0 L1132.9,1244.5 L1136.9,1245.0 L1141.0,1245.5 L1145.0,1246.0 L1149.0,1246.5 L1153.0,1247.0 L1157.0,1247.5 L1161.0,1248.0 L1165.1,1248.5 L1169.1,1249.0 L1173.1,1249.5 L1177.1,1250.0 L1181.1,1250.5 L1185.1,1251.0 L1189.2,1251.5 L1193.2,1252.0 L1197.2,1252.5 L1201.2,1253.0 L1205.2,1253.5 L1209.2,1254.0 L1213.3,1254.5 L1217.3,1255.0 L1221.3,1255.5 L1225.3,1256.0 L1229.3,1256.5 L1233.4,1257.0 L1237.4,1257.5 L1241.4,1258.0 L1245.4,1258.5 L1249.4,1259.0 L1253.4,1259.5 L1257.5,1260.0 L1261.5,1260.5 L1265.5,1261.0 L1269.5,1261.5 L1273.5,1262.0 L1277.5,1262.5 L1281.6,1263.0 L1285.6,1263.5 L1289.6,1264.0 L1293.6,1264.5 L1297.6,1265.0 L1301.6,1265.5 L1305.7,1266.0 L1309.7,1266.5 L1313.7,1267.0 L1317.7,1267.5 L1321.7,1268.0 L1325.7,1268.5 L1329.8,1269.0 L1333.8,1269.5 L1337.8,1270.0 L1341.8,1270.5 L1345.8,1271.0 L1349.8,1271.5 L1353.9,1272.0 L1357.9,1272.5 L1361.9,1273.0 L1365.9,1273.5 L1369.9,1274.0 L1373.9,1274.4 L1378.0,1274.9 L1382.0,1275.4 L1386.0,1275.9 L1390.0,1276.4 L1394.0,1276.9 L1398.0,1277.4 L1402.1,1277.9 L1406.1,1278.4 L1410.1,1278.9 L1414.1,1279.4 L1418.1,1279.9 L1422.2,1280.4 L1426.2,1280.9 L1430.2,1281.4 L1434.2,1281.9 L1438.2,1282.4 L1442.2,1282.8 L1446.3,1283.3 L1450.3,1283.8 L1454.3,1284.3 L1458.3,1284.8 L1462.3,1285.3 L1466.3,1285.8 L1470.4,1286.3 L1474.4,1286.8 L1478.4,1287.3 L1482.4,1287.8 L1486.4,1288.3 L1490.4,1288.8 L1494.5,1289.3 L1498.5,1289.7 L1502.5,1290.2 L1506.5,1290.7 L1510.5,1291.2 L1514.5,1291.6 L1518.6,1292.0 L1522.6,1292.4 L1526.6,1292.8 L1530.6,1293.0 L1534.6,1293.2 L1538.6,1293.3 L1542.7,1293.3 L1546.7,1293.0 L1550.7,1292.5 L1554.7,1291.6 L1558.7,1290.4 L1562.7,1288.6 L1566.8,1286.3 L1570.8,1283.4 L1574.8,1279.6 L1578.8,1275.0 L1582.8,1269.5 L1586.8,1262.9 L1590.9,1255.4 L1594.9,1246.7 L1598.9,1237.0 L1602.9,1226.5 L1606.9,1215.1 L1610.9,1203.2 L1615.0,1190.9 L1619.0,1178.6 L1623.0,1166.5 L1627.0,1155.1 L1631.0,1144.7 L1635.1,1135.6 L1639.1,1128.2 L1643.1,1122.8 L1647.1,1119.5 L1651.1,1118.6 L1655.1,1120.1 L1659.2,1124.2 L1663.2,1130.8 L1667.2,1139.5 L1671.2,1150.2 L1675.2,1162.4 L1679.2,1175.6 L1683.3,1189.5 L1687.3,1203.6 L1691.3,1217.5 L1695.3,1231.0 L1699.3,1243.8 L1703.3,1255.5 L1707.4,1266.2 L1711.4,1275.7 L1715.4,1284.1 L1719.4,1291.3 L1723.4,1297.4 L1727.4,1302.5 L1731.5,1306.8 L1735.5,1310.3 L1739.5,1313.1 L1743.5,1315.4 L1747.5,1317.3 L1751.5,1318.9 L1755.6,1320.1 L1759.6,1321.2 L1763.6,1322.1 L1767.6,1322.8 L1771.6,1323.5 L1775.6,1324.2 L1779.7,1324.8 L1783.7,1325.3 L1787.7,1325.9 L1791.7,1326.4 L1795.7,1326.9 L1799.7,1327.4 L1803.8,1327.9 L1807.8,1328.5 L1811.8,1329.0 L1815.8,1329.5 L1819.8,1330.0 L1823.9,1330.5 L1827.9,1331.0 L1831.9,1331.5 L1835.9,1332.0 L1839.9,1332.5 L1843.9,1333.0 L1848.0,1333.5 L1852.0,1334.0 L1856.0,1334.5 L1860.0,1335.0 L1864.0,1335.5 L1868.0,1336.1 L1872.1,1336.6 L1876.1,1337.1 L1880.1,1337.6 L1884.1,1338.1 L1888.1,1338.6 L1892.1,1339.1 L1896.2,1339.6 L1900.2,1340.1 L1904.2,1340.6 L1908.2,1341.1 L1912.2,1341.6 L1916.2,1342.1 L1920.3,1342.6 L1924.3,1343.1 L1928.3,1343.6 L1932.3,1344.2 L1936.3,1344.7 L1940.3,1345.2 L1944.4,1345.7 L1948.4,1346.2 L1952.4,1346.7 L1956.4,1347.2 L1960.4,1347.7 L1964.4,1348.2 L1966.0,1348.4" fill="none" stroke="#000000" stroke-width="3" shape-rendering="crispEdges"/>
<path d="M205.0,1127.6 L209.0,1128.1 L213.0,1128.6 L217.1,1129.1 L221.1,1129.6 L225.1,1130.1 L229.1,1130.7 L233.1,1131.2 L237.1,1131.7 L241.2,1132.2 L245.2,1132.7 L249.2,1133.2 L253.2,1133.7 L257.2,1134.2 L261.2,1134.7 L265.3,1135.2 L269.3,1135.7 L273.3,1136.2 L277.3,1136.8 L281.3,1137.3 L285.3,1137.8 L289.4,1138.3 L293.4,1138.8 L297.4,1139.3 L301.4,1139.8 L305.4,1140.3 L309.4,1140.8 L313.5,1141.3 L317.5,1141.8 L321.5,1142.4 L325.5,1142.9 L329.5,1143.4 L333.5,1143.9 L337.6,1144.4 L341.6,1144.9 L345.6,1145.4 L349.6,1145.9 L353.6,1146.4 L357.6,1146.9 L361.7,1147.4 L365.7,1147.9 L369.7,1148.5 L373.7,1149.0 L377.7,1149.5 L381.7,1150.0 L385.8,1150.5 L389.8,1151.0 L393.8,1151.5 L397.8,1152.0 L401.8,1152.5 L405.8,1153.0 L409.9,1153.5 L413.9,1154.0 L417.9,1154.6 L421.9,1155.1 L425.9,1155.6 L430.0,1156.1 L434.0,1156.6 L438.0,1157.1 L442.0,1157.6 L446.0,1158.1 L450.0,1158.6 L454.1,1159.1 L458.1,1159.6 L462.1,1160.2 L466.1,1160.7 L470.1,1161.2 L474.1,1161.7 L478.2,1162.2 L482.2,1162.7 L486.2,1163.2 L490.2,1163.7 L494.2,1164.2 L498.2,1164.7 L502.3,1165.2 L506.3,1165.7 L510.3,1166.3 L514.3,1166.8 L518.3,1167.3 L522.3,1167.8 L526.4,1168.3 L530.4,1168.8 L534.4,1169.3 L538.4,1169.8 L542.4,1170.3 L546.4,1170.8 L550.5,1171.3 L554.5,1171.9 L558.5,1172.4 L562.5,1172.9 L566.5,1173.4 L570.5,1173.9 L574.6,1174.4 L578.6,1174.9 L582.6,1175.4 L586.6,1175.9 L590.6,1176.4 L594.6,1176.9 L598.7,1177.4 L602.7,1178.0 L606.7,1178.5 L610.7,1179.0 L614.7,1179.5 L618.8,1180.0 L622.8,1180.5 L626.8,1181.0 L630.8,1181.5 L634.8,1182.0 L638.8,1182.5 L642.9,1183.0 L646.9,1183.5 L650.9,1184.1 L654.9,1184.6 L658.9,1185.1 L662.9,1185.6 L667.0,1186.1 L671.0,1186.6 L675.0,1187.1 L679.0,1187.6 L683.0,1188.1 L687.0,1188.6 L691.1,1189.1 L695.1,1189.7 L699.1,1190.2 L703.1,1190.7 L707.1,1191.2 L711.1,1191.7 L715.2,1192.2 L719.2,1192.7 L723.2,1193.2 L727.2,1193.7 L731.2,1194.2 L735.2,1194.7 L739.3,1195.2 L743.3,1195.8 L747.3,1196.3 L751.3,1196.8 L755.3,1197.3 L759.3,1197.8 L763.4,1198.3 L767.4,1198.8 L771.4,1199.3 L775.4,1199.8 L779.4,1200.3 L783.4,1200.8 L787.5,1201.4 L791.5,1201.9 L795.5,1202.4 L799.5,1202.9 L803.5,1203.4 L807.5,1203.9 L811.6,1204.4 L815.6,1204.9 L819.6,1205.4 L823.6,1205.9 L827.6,1206.4 L831.7,1206.9 L835.7,1207.5 L839.7,1208.0 L843.7,1208.5 L847.7,1209.0 L851.7,1209.5 L855.8,1210.0 L859.8,1210.5 L863.8,1211.0 L867.8,1211.5 L871.8,1212.0 L875.8,1212.5 L879.9,1213.0 L883.9,1213.6 L887.9,1214.1 L891.9,1214.6 L895.9,1215.1 L899.9,1215.6 L904.0,1216.1 L908.0,1216.6 L912.0,1217.1 L916.0,1217.6 L920.0,1218.1 L924.0,1218.6 L928.1,1219.1 L932.1,1219.6 L936.1,1220.1 L940.1,1220.6 L944.1,1221.1 L948.1,1221.6 L952.2,1222.1 L956.2,1222.6 L960.2,1223.1 L964.2,1223.6 L968.2,1224.1 L972.2,1224.6 L976.3,1225.1 L980.3,1225.6 L984.3,1226.1 L988.3,1226.6 L992.3,1227.1 L996.3,1227.6 L1000.4,1228.1 L1004.4,1228.6 L1008.4,1229.1 L1012.4,1229.6 L1016.4,1230.1 L1020.5,1230.6 L1024.5,1231.1 L1028.5,1231.6 L1032.5,1232.1 L1036.5,1232.6 L1040.5,1233.1 L1044.6,1233.6 L1048.6,1234.1 L1052.6,1234.6 L1056.6,1235.1 L1060.6,1235.6 L1064.6,1236.1 L1068.7,1236.6 L1072.7,1237.0 L1076.7,1237.5 L1080.7,1238.0 L1084.7,1238.5 L1088.7,1239.0 L1092.8,1239.5 L1096.8,1240.0 L1100.8,1240.5 L1104.8,1241.0 L1108.8,1241.5 L1112.8,1242.0 L1116.9,1242.5 L1120.9,1243.0 L1124.9,1243.5 L1128.9,1244.0 L1132.9,1244.5 L1136.9,1245.0 L1141.0,1245.5 L1145.0,1246.0 L1149.0,1246.5 L1153.0,1247.0 L1157.0,1247.5 L1161.0,1248.0 L1165.1,1248.5 L1169.1,1249.0 L1173.1,1249.5 L1177.1,1250.0 L1181.1,1250.5 L1185.1,1251.0 L1189.2,1251.5 L1193.2,1252.0 L1197.2,1252.5 L1201.2,1253.0 L1205.2,1253.5 L1209.2,1254.0 L1213.3,1254.5 L1217.3,1255.0 L1221.3,1255.5 L1225.3,1256.0 L1229.3,1256.5 L1233.4,1257.0 L1237.4,1257.5 L1241.4,1258.0 L1245.4,1258.5 L1249.4,1259.0 L1253.4,1259.5 L1257.5,1260.0 L1261.5,1260.5 L1265.5,1261.0 L1269.5,1261.5 L1273.5,1262.0 L1277.5,1262.5 L1281.6,1263.0 L1285.6,1263.5 L1289.6,1264.0 L1293.6,1264.5 L1297.6,1265.0 L1301.6,1265.5 L1305.7,1266.0 L1309.7,1266.5 L1313.7,1267.0 L1317.7,1267.5 L1321.7,1268.0 L1325.7,1268.5 L1329.8,1269.0 L1333.8,1269.5 L1337.8,1270.0 L1341.8,1270.5 L1345.8,1271.0 L1349.8,1271.5 L1353.9,1272.0 L1357.9,1272.5 L1361.9,1273.0 L1365.9,1273.5 L1369.9,1274.0 L1373.9,1274.4 L1378.0,1274.9 L1382.0,1275.4 L1386.0,1275.9 L1390.0,1276.4 L1394.0,1276.9 L1398.0,1277.4 L1402.1,1277.9 L1406.1,1278.4 L1410.1,1278.9 L1414.1,1279.4 L1418.1,1279.9 L1422.2,1280.4 L1426.2,1280.9 L1430.2,1281.4 L1434.2,1281.9 L1438.2,1282.4 L1442.2,1282.8 L1446.3,1283.3 L1450.3,1283.8 L1454.3,1284.3 L1458.3,1284.8 L1462.3,1285.3 L1466.3,1285.8 L1470.4,1286.3 L1474.4,1286.8 L1478.4,1287.3 L1482.4,1287.8 L1486.4,1288.3 L1490.4,1288.8 L1494.5,1289.3 L1498.5,1289.8 L1502.5,1290.3 L1506.5,1290.8 L1510.5,1291.2 L1514.5,1291.7 L1518.6,1292.2 L1522.6,1292.7 L1526.6,1293.2 L1530.6,1293.7 L1534.6,1294.2 L1538.6,1294.7 L1542.7,1295.2 L1546.7,1295.7 L1550.7,1296.2 L1554.7,1296.7 L1558.7,1297.2 L1562.7,1297.7 L1566.8,1298.2 L1570.8,1298.7 L1574.8,1299.2 L1578.8,1299.7 L1582.8,1300.1 L1586.8,1300.6 L1590.9,1301.1 L1594.9,1301.6 L1598.9,1302.1 L1602.9,1302.6 L1606.9,1303.1 L1610.9,1303.6 L1615.0,1304.1 L1619.0,1304.6 L1623.0,1305.1 L1627.0,1305.6 L1631.0,1306.1 L1635.1,1306.5 L1639.1,1307.0 L1643.1,1307.4 L1647.1,1307.6 L1651.1,1307.4 L1655.1,1306.4 L1659.2,1303.8 L1663.2,1298.6 L1667.2,1289.1 L1671.2,1273.8 L1675.2,1251.2 L1679.2,1221.1 L1683.3,1184.9 L1687.3,1146.4 L1691.3,1111.1 L1695.3,1085.0 L1699.3,1073.4 L1703.3,1078.4 L1707.4,1098.5 L1711.4,1129.9 L1715.4,1167.3 L1719.4,1205.1 L1723.4,1239.1 L1727.4,1266.7 L1731.5,1287.2 L1735.5,1301.2 L1739.5,1310.1 L1743.5,1315.5 L1747.5,1318.6 L1751.5,1320.4 L1755.6,1321.5 L1759.6,1322.2 L1763.6,1322.8 L1767.6,1323.4 L1771.6,1323.9 L1775.6,1324.4 L1779.7,1324.9 L1783.7,1325.4 L1787.7,1325.9 L1791.7,1326.4 L1795.7,1326.9 L1799.7,1327.5 L1803.8,1328.0 L1807.8,1328.5 L1811.8,1329.0 L1815.8,1329.5 L1819.8,1330.0 L1823.9,1330.5 L1827.9,1331.0 L1831.9,1331.5 L1835.9,1332.0 L1839.9,1332.5 L1843.9,1333.0 L1848.0,1333.5 L1852.0,1334.0 L1856.0,1334.5 L1860.0,1335.0 L1864.0,1335.5 L1868.0,1336.1 L1872.1,1336.6 L1876.1,1337.1 L1880.1,1337.6 L1884.1,1338.1 L1888.1,1338.6 L1892.1,1339.1 L1896.2,1339.6 L1900.2,1340.1 L1904.2,1340.6 L1908.2,1341.1 L1912.2,1341.6 L1916.2,1342.1 L1920.3,1342.6 L1924.3,1343.1 L1928.3,1343.6 L1932.3,1344.2 L1936.3,1344.7 L1940.3,1345.2 L1944.4,1345.7 L1948.4,1346.2 L1952.4,1346.7 L1956.4,1347.2 L1960.4,1347.7 L1964.4,1348.2 L1966.0,1348.4" fill="none" stroke="#ff00ff" stroke-width="3" shape-rendering="crispEdges"/>
<path d="M205.0,1127.6 L209.0,1128.1 L213.0,1128.6 L217.1,1129.1 L221.1,1129.6 L225.1,1130.1 L229.1,1130.7 L233.1,1131.2 L237.1,1131.7 L241.2,1132.2 L245.2,1132.7 L249.2,1133.2 L253.2,1133.7 L257.2,1134.2 L261.2,1134.7 L265.3,1135.2 L269.3,1135.7 L273.3,1136.2 L277.3,1136.8 L281.3,1137.3 L285.3,1137.8 L289.4,1138.3 L293.4,1138.8 L297.4,1139.3 L301.4,1139.8 L305.4,1140.3 L309.4,1140.8 L313.5,1141.3 L317.5,1141.8 L321.5,1142.4 L325.5,1142.9 L329.5,1143.4 L333.5,1143.9 L337.6,1144.4 L341.6,1144.9 L345.6,1145.4 L349.6,1145.9 L353.6,1146.4 L357.6,1146.9 L361.7,1147.4 L365.7,1147.9 L369.7,1148.5 L373.7,1149.0 L377.7,1149.5 L381.7,1150.0 L385.8,1150.5 L389.8,1151.0 L393.8,1151.5 L397.8,1152.0 L401.8,1152.5 L405.8,1153.0 L409.9,1153.5 L413.9,1154.0 L417.9,1154.6 L421.9,1155.1 L425.9,1155.6 L430.0,1156.1 L434.0,1156.6 L438.0,1157.1 L442.0,1157.6 L446.0,1158.1 L450.0,1158.6 L454.1,1159.1 L458.1,1159.6 L462.1,1160.2 L466.1,1160.7 L470.1,1161.2 L474.1,1161.7 L478.2,1162.2 L482.2,1162.7 L486.2,1163.2 L490.2,1163.7 L494.2,1164.2 L498.2,1164.7 L502.3,1165.2 L506.3,1165.7 L510.3,1166.3 L514.3,1166.8 L518.3,1167.3 L522.3,1167.8 L526.4,1168.3 L530.4,1168.8 L534.4,1169.3 L538.4,1169.8 L542.4,1170.3 L546.4,1170.8 L550.5,1171.3 L554.5,1171.9 L558.5,1172.4 L562.5,1172.9 L566.5,1173.4 L570.5,1173.9 L574.6,1174.4 L578.6,1174.9 L582.6,1175.4 L586.6,1175.9 L590.6,1176.4 L594.6,1176.9 L598.7,1177.4 L602.7,1178.0 L606.7,1178.5 L610.7,1179.0 L614.7,1179.5 L618.8,1180.0 L622.8,1180.5 L626.8,1181.0 L630.8,1181.5 L634.8,1182.0 L638.8,1182.5 L642.9,1183.0 L646.9,1183.5 L650.9,1184.1 L654.9,1184.6 L658.9,1185.1 L662.9,1185.6 L667.0,1186.1 L671.0,1186.6 L675.0,1187.1 L679.0,1187.6 L683.0,1188.1 L687.0,1188.6 L691.1,1189.1 L695.1,1189.7 L699.1,1190.2 L703.1,1190.7 L707.1,1191.2 L711.1,1191.7 L715.2,1192.2 L719.2,1192.7 L723.2,1193.2 L727.2,1193.7 L731.2,1194.2 L735.2,1194.7 L739.3,1195.2 L743.3,1195.8 L747.3,1196.3 L751.3,1196.8 L755.3,1197.3 L759.3,1197.8 L763.4,1198.3 L767.4,1198.8 L771.4,1199.3 L775.4,1199.8 L779.4,1200.3 L783.4,1200.8 L787.5,1201.4 L791.5,1201.9 L795.5,1202.4 L799.5,1202.9 L803.5,1203.4 L807.5,1203.9 L811.6,1204.4 L815.6,1204.9 L819.6,1205.4 L823.6,1205.9 L827.6,1206.4 L831.7,1206.9 L835.7,1207.5 L839.7,1208.0 L843.7,1208.5 L847.7,1209.0 L851.7,1209.5 L855.8,1210.0 L859.8,1210.5 L863.8,1211.0 L867.8,1211.5 L871.8,1212.0 L875.8,1212.5 L879.9,1213.0 L883.9,1213.6 L887.9,1214.1 L891.9,1214.6 L895.9,1215.1 L899.9,1215.6 L904.0,1216.1 L908.0,1216.6 L912.0,1217.1 L916.0,1217.6 L920.0,1218.1 L924.0,1218.6 L928.1,1219.1 L932.1,1219.6 L936.1,1220.1 L940.1,1220.6 L944.1,1221.1 L948.1,1221.6 L952.2,1222.1 L956.2,1222.6 L960.2,1223.1 L964.2,1223.6 L968.2,1224.1 L972.2,1224.6 L976.3,1225.1 L980.3,1225.6 L984.3,1226.1 L988.3,1226.6 L992.3,1227.1 L996.3,1227.6 L1000.4,1228.1 L1004.4,1228.6 L1008.4,1229.1 L1012.4,1229.6 L1016.4,1230.1 L1020.5,1230.6 L1024.5,1231.1 L1028.5,1231.6 L1032.5,1232.1 L1036.5,1232.6 L1040.5,1233.1 L1044.6,1233.6 L1048.6,1234.1 L1052.6,1234.6 L1056.6,1235.1 L1060.6,1235.6 L1064.6,1236.1 L1068.7,1236.6 L1072.7,1237.0 L1076.7,1237.5 L1080.7,1238.0 L1084.7,1238.5 L1088.7,1239.0 L1092.8,1239.5 L1096.8,1240.0 L1100.8,1240.5 L1104.8,1241.0 L1108.8,1241.5 L1112.8,1242.0 L1116.9,1242.5 L1120.9,1243.0 L1124.9,1243.5 L1128.9,1244.0 L1132.9,1244.5 L1136.9,1245.0 L1141.0,1245.5 L1145.0,1246.0 L1149.0,1246.5 L1153.0,1247.0 L1157.0,1247.5 L1161.0,1248.0 L1165.1,1248.5 L1169.1,1249.0 L1173.1,1249.5 L1177.1,1250.0 L1181.1,1250.5 L1185.1,1251.0 L1189.2,1251.5 L1193.2,1252.0 L1197.2,1252.5 L1201.2,1253.0 L1205.2,1253.5 L1209.2,1254.0 L1213.3,1254.5 L1217.3,1255.0 L1221.3,1255.5 L1225.3,1256.0 L1229.3,1256.5 L1233.4,1257.0 L1237.4,1257.5 L1241.4,1258.0 L1245.4,1258.5 L1249.4,1259.0 L1253.4,1259.5 L1257.5,1260.0 L1261.5,1260.5 L1265.5,1261.0 L1269.5,1261.5 L1273.5,1262.0 L1277.5,1262.5 L1281.6,1263.0 L1285.6,1263.5 L1289.6,1264.0 L1293.6,1264.5 L1297.6,1265.0 L1301.6,1265.5 L1305.7,1266.0 L1309.7,1266.5 L1313.7,1267.0 L1317.7,1267.5 L1321.7,1268.0 L1325.7,1268.5 L1329.8,1269.0 L1333.8,1269.5 L1337.8,1270.0 L1341.8,1270.5 L1345.8,1271.0 L1349.8,1271.5 L1353.9,1272.0 L1357.9,1272.5 L1361.9,1273.0 L1365.9,1273.5 L1369.9,1274.0 L1373.9,1274.4 L1378.0,1274.9 L1382.0,1275.4 L1386.0,1275.9 L1390.0,1276.4 L1394.0,1276.9 L1398.0,1277.4 L1402.1,1277.9 L1406.1,1278.4 L1410.1,1278.9 L1414.1,1279.4 L1418.1,1279.9 L1422.2,1280.4 L1426.2,1280.9 L1430.2,1281.4 L1434.2,1281.9 L1438.2,1282.4 L1442.2,1282.8 L1446.3,1283.3 L1450.3,1283.8 L1454.3,1284.3 L1458.3,1284.8 L1462.3,1285.3 L1466.3,1285.8 L1470.4,1286.3 L1474.4,1286.8 L1478.4,1287.3 L1482.4,1287.8 L1486.4,1288.3 L1490.4,1288.8 L1494.5,1289.3 L1498.5,1289.8 L1502.5,1290.3 L1506.5,1290.8 L1510.5,1291.2 L1514.5,1291.7 L1518.6,1292.2 L1522.6,1292.7 L1526.6,1293.2 L1530.6,1293.7 L1534.6,1294.2 L1538.6,1294.7 L1542.7,1295.2 L1546.7,1295.7 L1550.7,1296.2 L1554.7,1296.7 L1558.7,1297.2 L1562.7,1297.7 L1566.8,1298.2 L1570.8,1298.7 L1574.8,1299.2 L1578.8,1299.7 L1582.8,1300.1 L1586.8,1300.6 L1590.9,1301.1 L1594.9,1301.6 L1598.9,1302.1 L1602.9,1302.6 L1606.9,1303.1 L1610.9,1303.6 L1615.0,1304.1 L1619.0,1304.6 L1623.0,1305.1 L1627.0,1305.6 L1631.0,1306.1 L1635.1,1306.6 L1639.1,1307.1 L1643.1,1307.6 L1647.1,1308.1 L1651.1,1308.5 L1655.1,1309.0 L1659.2,1309.6 L1663.2,1310.1 L1667.2,1310.6 L1671.2,1311.1 L1675.2,1311.6 L1679.2,1312.1 L1683.3,1312.6 L1687.3,1313.2 L1691.3,1313.7 L1695.3,1314.2 L1699.3,1314.7 L1703.3,1315.2 L1707.4,1315.7 L1711.4,1316.2 L1715.4,1316.8 L1719.4,1317.3 L1723.4,1317.8 L1727.4,1318.3 L1731.5,1318.8 L1735.5,1319.3 L1739.5,1319.9 L1743.5,1320.4 L1747.5,1320.9 L1751.5,1321.4 L1755.6,1321.9 L1759.6,1322.4 L1763.6,1322.9 L1767.6,1323.4 L1771.6,1323.9 L1775.6,1324.4 L1779.7,1324.9 L1783.7,1325.4 L1787.7,1325.9 L1791.7,1326.4 L1795.7,1326.9 L1799.7,1327.5 L1803.8,1328.0 L1807.8,1328.5 L1811.8,1329.0 L1815.8,1329.5 L1819.8,1330.0 L1823.9,1330.5 L1827.9,1331.0 L1831.9,1331.5 L1835.9,1332.0 L1839.9,1332.5 L1843.9,1333.0 L1848.0,1333.5 L1852.0,1334.0 L1856.0,1334.5 L1860.0,1335.0 L1864.0,1335.5 L1868.0,1336.1 L1872.1,1336.6 L1876.1,1337.1 L1880.1,1337.6 L1884.1,1338.1 L1888.1,1338.6 L1892.1,1339.1 L1896.2,1339.6 L1900.2,1340.1 L1904.2,1340.6 L1908.2,1341.1 L1912.2,1341.6 L1916.2,1342.1 L1920.3,1342.6 L1924.3,1343.1 L1928.3,1343.6 L1932.3,1344.2 L1936.3,1344.7 L1940.3,1345.2 L1944.4,1345.7 L1948.4,1346.2 L1952.4,1346.7 L1956.4,1347.2 L1960.4,1347.7 L1964.4,1348.2 L1966.0,1348.4" fill="none" stroke="#000" stroke-width="3" shape-rendering="crispEdges"/>
<path d="M205.0,1122.2 L209.0,1122.6 L213.0,1122.9 L217.1,1123.3 L221.1,1123.7 L225.1,1124.1 L229.1,1124.5 L233.1,1124.8 L237.1,1125.2 L241.2,1125.5 L245.2,1125.9 L249.2,1126.2 L253.2,1126.6 L257.2,1126.9 L261.2,1127.2 L265.3,1127.5 L269.3,1127.8 L273.3,1128.1 L277.3,1128.4 L281.3,1128.6 L285.3,1128.9 L289.4,1129.1 L293.4,1129.3 L297.4,1129.6 L301.4,1129.8 L305.4,1129.9 L309.4,1130.1 L313.5,1130.2 L317.5,1130.4 L321.5,1130.5 L325.5,1130.5 L329.5,1130.6 L333.5,1130.6 L337.6,1130.7 L341.6,1130.6 L345.6,1130.6 L349.6,1130.5 L353.6,1130.4 L357.6,1130.3 L361.7,1130.2 L365.7,1130.0 L369.7,1129.7 L373.7,1129.5 L377.7,1129.2 L381.7,1128.9 L385.8,1128.5 L389.8,1128.1 L393.8,1127.6 L397.8,1127.1 L401.8,1126.6 L405.8,1126.0 L409.9,1125.4 L413.9,1124.7 L417.9,1124.0 L421.9,1123.3 L425.9,1122.5 L430.0,1121.7 L434.0,1120.8 L438.0,1119.8 L442.0,1118.9 L446.0,1117.9 L450.0,1116.8 L454.1,1115.7 L458.1,1114.6 L462.1,1113.4 L466.1,1112.2 L470.1,1111.0 L474.1,1109.7 L478.2,1108.4 L482.2,1107.1 L486.2,1105.7 L490.2,1104.3 L494.2,1103.0 L498.2,1101.6 L502.3,1100.2 L506.3,1098.8 L510.3,1097.4 L514.3,1096.0 L518.3,1094.7 L522.3,1093.4 L526.4,1092.1 L530.4,1090.9 L534.4,1089.7 L538.4,1088.6 L542.4,1087.6 L546.4,1086.6 L550.5,1085.8 L554.5,1085.1 L558.5,1084.4 L562.5,1083.9 L566.5,1083.5 L570.5,1083.3 L574.6,1083.2 L578.6,1083.2 L582.6,1083.3 L586.6,1083.6 L590.6,1084.0 L594.6,1084.3 L598.7,1084.8 L602.7,1085.2 L606.7,1085.8 L610.7,1086.3 L614.7,1086.9 L618.8,1087.5 L622.8,1088.2 L626.8,1088.8 L630.8,1089.5 L634.8,1090.2 L638.8,1091.0 L642.9,1091.7 L646.9,1092.4 L650.9,1093.1 L654.9,1093.8 L658.9,1094.5 L662.9,1095.2 L667.0,1095.8 L671.0,1096.4 L675.0,1097.0 L679.0,1097.5 L683.0,1098.0 L687.0,1098.4 L691.1,1098.8 L695.1,1099.1 L699.1,1099.4 L703.1,1099.6 L707.1,1099.7 L711.1,1099.7 L715.2,1099.7 L719.2,1099.6 L723.2,1099.4 L727.2,1099.1 L731.2,1098.7 L735.2,1098.3 L739.3,1097.7 L743.3,1097.1 L747.3,1096.4 L751.3,1095.6 L755.3,1094.8 L759.3,1093.8 L763.4,1092.8 L767.4,1091.8 L771.4,1090.6 L775.4,1089.4 L779.4,1088.2 L783.4,1086.9 L787.5,1085.6 L791.5,1084.2 L795.5,1082.8 L799.5,1081.4 L803.5,1080.0 L807.5,1078.6 L811.6,1077.3 L815.6,1075.9 L819.6,1074.6 L823.6,1073.3 L827.6,1072.1 L831.7,1070.9 L835.7,1069.8 L839.7,1068.8 L843.7,1067.9 L847.7,1067.0 L851.7,1066.3 L855.8,1065.7 L859.8,1065.2 L863.8,1064.9 L867.8,1064.7 L871.8,1064.6 L875.8,1064.7 L879.9,1064.9 L883.9,1065.3 L887.9,1065.9 L891.9,1066.6 L895.9,1067.5 L899.9,1068.6 L904.0,1069.8 L908.0,1071.1 L912.0,1072.5 L916.0,1074.1 L920.0,1075.7 L924.0,1077.5 L928.1,1079.5 L932.1,1081.5 L936.1,1083.7 L940.1,1086.0 L944.1,1088.3 L948.1,1090.8 L952.2,1093.4 L956.2,1096.1 L960.2,1098.8 L964.2,1101.6 L968.2,1104.5 L972.2,1107.5 L976.3,1110.5 L980.3,1113.6 L984.3,1116.7 L988.3,1119.9 L992.3,1123.1 L996.3,1126.3 L1000.4,1129.5 L1004.4,1132.7 L1008.4,1136.0 L1012.4,1139.2 L1016.4,1142.4 L1020.5,1145.6 L1024.5,1148.8 L1028.5,1152.0 L1032.5,1155.1 L1036.5,1158.2 L1040.5,1161.2 L1044.6,1164.1 L1048.6,1167.1 L1052.6,1169.9 L1056.6,1172.7 L1060.6,1175.3 L1064.6,1177.9 L1068.7,1180.5 L1072.7,1182.9 L1076.7,1185.2 L1080.7,1187.5 L1084.7,1189.6 L1088.7,1191.6 L1092.8,1193.5 L1096.8,1195.3 L1100.8,1197.0 L1104.8,1198.5 L1108.8,1200.0 L1112.8,1201.3 L1116.9,1202.5 L1120.9,1203.5 L1124.9,1204.4 L1128.9,1205.2 L1132.9,1205.9 L1136.9,1206.4 L1141.0,1206.7 L1145.0,1207.0 L1149.0,1207.1 L1153.0,1207.0 L1157.0,1206.8 L1161.0,1206.5 L1165.1,1206.1 L1169.1,1205.5 L1173.1,1204.8 L1177.1,1203.9 L1181.1,1202.9 L1185.1,1201.8 L1189.2,1200.5 L1193.2,1199.2 L1197.2,1197.7 L1201.2,1196.1 L1205.2,1194.4 L1209.2,1192.6 L1213.3,1190.7 L1217.3,1188.7 L1221.3,1186.6 L1225.3,1184.4 L1229.3,1182.2 L1233.4,1179.9 L1237.4,1177.5 L1241.4,1175.1 L1245.4,1172.6 L1249.4,1170.1 L1253.4,1167.6 L1257.5,1165.1 L1261.5,1162.6 L1265.5,1160.1 L1269.5,1157.6 L1273.5,1155.1 L1277.5,1152.6 L1281.6,1150.3 L1285.6,1147.9 L1289.6,1145.7 L1293.6,1143.5 L1297.6,1141.4 L1301.6,1139.4 L1305.7,1137.6 L1309.7,1135.8 L1313.7,1134.2 L1317.7,1132.7 L1321.7,1131.4 L1325.7,1130.2 L1329.8,1129.2 L1333.8,1128.3 L1337.8,1127.6 L1341.8,1127.1 L1345.8,1126.7 L1349.8,1126.6 L1353.9,1126.6 L1357.9,1126.8 L1361.9,1127.3 L1365.9,1127.8 L1369.9,1128.6 L1373.9,1129.5 L1378.0,1130.5 L1382.0,1131.7 L1386.0,1133.1 L1390.0,1134.5 L1394.0,1136.1 L1398.0,1137.9 L1402.1,1139.7 L1406.1,1141.7 L1410.1,1143.8 L1414.1,1145.9 L1418.1,1148.1 L1422.2,1150.3 L1426.2,1152.6 L1430.2,1154.9 L1434.2,1157.1 L1438.2,1159.2 L1442.2,1161.2 L1446.3,1163.1 L1450.3,1164.7 L1454.3,1166.0 L1458.3,1167.1 L1462.3,1167.7 L1466.3,1167.9 L1470.4,1167.5 L1474.4,1166.6 L1478.4,1165.0 L1482.4,1162.7 L1486.4,1159.7 L1490.4,1155.9 L1494.5,1151.3 L1498.5,1145.9 L1502.5,1139.8 L1506.5,1133.0 L1510.5,1125.6 L1514.5,1117.6 L1518.6,1109.2 L1522.6,1100.5 L1526.6,1091.8 L1530.6,1083.0 L1534.6,1074.6 L1538.6,1066.5 L1542.7,1059.0 L1546.7,1052.3 L1550.7,1046.5 L1554.7,1041.6 L1558.7,1037.8 L1562.7,1035.1 L1566.8,1033.4 L1570.8,1032.7 L1574.8,1032.8 L1578.8,1033.7 L1582.8,1035.2 L1586.8,1037.1 L1590.9,1039.1 L1594.9,1041.2 L1598.9,1043.1 L1602.9,1044.7 L1606.9,1046.1 L1610.9,1047.0 L1615.0,1047.7 L1619.0,1048.1 L1623.0,1048.6 L1627.0,1049.2 L1631.0,1050.2 L1635.1,1051.9 L1639.1,1054.5 L1643.1,1058.2 L1647.1,1063.0 L1651.1,1069.0 L1655.1,1075.8 L1659.2,1082.8 L1663.2,1088.9 L1667.2,1092.4 L1671.2,1091.1 L1675.2,1083.6 L1679.2,1069.2 L1683.3,1048.8 L1687.3,1026.0 L1691.3,1005.8 L1695.3,994.2 L1699.3,996.0 L1703.3,1013.3 L1707.4,1044.3 L1711.4,1085.4 L1715.4,1131.2 L1719.4,1176.2 L1723.4,1216.2 L1727.4,1248.7 L1731.5,1273.2 L1735.5,1290.4 L1739.5,1301.8 L1743.5,1309.2 L1747.5,1313.8 L1751.5,1316.7 L1755.6,1318.7 L1759.6,1320.1 L1763.6,1321.2 L1767.6,1322.0 L1771.6,1322.8 L1775.6,1323.5 L1779.7,1324.2 L1783.7,1324.8 L1787.7,1325.4 L1791.7,1325.9 L1795.7,1326.5 L1799.7,1327.0 L1803.8,1327.6 L1807.8,1328.1 L1811.8,1328.6 L1815.8,1329.2 L1819.8,1329.7 L1823.9,1330.2 L1827.9,1330.7 L1831.9,1331.3 L1835.9,1331.8 L1839.9,1332.3 L1843.9,1332.8 L1848.0,1333.3 L1852.0,1333.8 L1856.0,1334.3 L1860.0,1334.9 L1864.0,1335.4 L1868.0,1335.9 L1872.1,1336.4 L1876.1,1336.9 L1880.1,1337.4 L1884.1,1337.9 L1888.1,1338.4 L1892.1,1338.9 L1896.2,1339.4 L1900.2,1340.0 L1904.2,1340.5 L1908.2,1341.0 L1912.2,1341.5 L1916.2,1342.0 L1920.3,1342.5 L1924.3,1343.0 L1928.3,1343.5 L1932.3,1344.0 L1936.3,1344.5 L1940.3,1345.0 L1944.4,1345.5 L1948.4,1346.1 L1952.4,1346.6 L1956.4,1347.1 L1960.4,1347.6 L1964.4,1348.1 L1966.0,1348.3" fill="none" stroke="#000" stroke-width="3" shape-rendering="crispEdges"/>
<line x1="601.6" y1="304.0" x2="601.6" y2="1404.0" stroke="#000" stroke-width="3" shape-rendering="crispEdges"/>
<line x1="851.4" y1="281.0" x2="851.4" y2="1404.0" stroke="#000" stroke-width="3" shape-rendering="crispEdges"/>
<line x1="1364.2" y1="328.5" x2="1364.2" y2="1404.0" stroke="#000" stroke-width="3" shape-rendering="crispEdges"/>
<line x1="1568.5" y1="276.0" x2="1568.5" y2="1396.5" stroke="#000" stroke-width="3" shape-rendering="crispEdges"/>
<line x1="1632.3" y1="281.5" x2="1632.3" y2="1402.0" stroke="#000" stroke-width="3" shape-rendering="crispEdges"/>
<line x1="1690.5" y1="275.2" x2="1690.5" y2="1396.5" stroke="#000" stroke-width="3" shape-rendering="crispEdges"/>
<path d="M200,1410 L200,36.5 L2008.5,36.5 L2008.5,1406" fill="none" stroke="#000" stroke-width="10.5" stroke-linejoin="round"/>
<rect x="195" y="1404" width="1819" height="6" fill="#000"/>
<line x1="200.0" y1="1406" x2="200.0" y2="1432.5" stroke="#000" stroke-width="6" stroke-linecap="round"/>
<line x1="601.5" y1="1406" x2="601.5" y2="1432.5" stroke="#000" stroke-width="6" stroke-linecap="round"/>
<line x1="1003.0" y1="1406" x2="1003.0" y2="1432.5" stroke="#000" stroke-width="6" stroke-linecap="round"/>
<line x1="1405.0" y1="1406" x2="1405.0" y2="1432.5" stroke="#000" stroke-width="6" stroke-linecap="round"/>
<line x1="1807.0" y1="1406" x2="1807.0" y2="1432.5" stroke="#000" stroke-width="6" stroke-linecap="round"/>
<line x1="400.0" y1="1406" x2="400.0" y2="1420.5" stroke="#000" stroke-width="6" stroke-linecap="round"/>
<line x1="802.5" y1="1406" x2="802.5" y2="1420.5" stroke="#000" stroke-width="6" stroke-linecap="round"/>
<line x1="1204.0" y1="1406" x2="1204.0" y2="1420.5" stroke="#000" stroke-width="6" stroke-linecap="round"/>
<line x1="1606.5" y1="1406" x2="1606.5" y2="1420.5" stroke="#000" stroke-width="6" stroke-linecap="round"/>
<line x1="2008.5" y1="1406" x2="2008.5" y2="1420.5" stroke="#000" stroke-width="6" stroke-linecap="round"/>
<text x="310.89" y="275.90" font-family="&quot;Liberation Sans&quot;, Arial, sans-serif" font-size="88.40" textLength="175.70" lengthAdjust="spacingAndGlyphs" style="font-kerning:none">Ni2p</text>
<text x="488.88" y="309.70" font-family="&quot;Liberation Sans&quot;, Arial, sans-serif" font-size="53.50" textLength="69.74" lengthAdjust="spacingAndGlyphs" style="font-kerning:none">1/2</text>
<text x="559.65" y="275.90" font-family="&quot;Liberation Sans&quot;, Arial, sans-serif" font-size="84.00" textLength="172.39" lengthAdjust="spacingAndGlyphs" style="font-kerning:none">(sat)</text>
<text x="786.07" y="253.60" font-family="&quot;Liberation Sans&quot;, Arial, sans-serif" font-size="88.40" textLength="176.33" lengthAdjust="spacingAndGlyphs" style="font-kerning:none">Ni2p</text>
<text x="963.89" y="286.50" font-family="&quot;Liberation Sans&quot;, Arial, sans-serif" font-size="53.50" textLength="69.52" lengthAdjust="spacingAndGlyphs" style="font-kerning:none">1/2</text>
<text x="1116.95" y="304.80" font-family="&quot;Liberation Sans&quot;, Arial, sans-serif" font-size="88.40" textLength="176.76" lengthAdjust="spacingAndGlyphs" style="font-kerning:none">Ni2p</text>
<text x="1295.17" y="338.40" font-family="&quot;Liberation Sans&quot;, Arial, sans-serif" font-size="53.50" textLength="70.37" lengthAdjust="spacingAndGlyphs" style="font-kerning:none">3/2</text>
<text x="1366.54" y="304.70" font-family="&quot;Liberation Sans&quot;, Arial, sans-serif" font-size="84.00" textLength="172.71" lengthAdjust="spacingAndGlyphs" style="font-kerning:none">(sat)</text>
<text x="1557.95" y="255.80" font-family="&quot;Liberation Sans&quot;, Arial, sans-serif" font-size="88.40" textLength="176.76" lengthAdjust="spacingAndGlyphs" style="font-kerning:none">Ni2p</text>
<text x="1735.17" y="287.80" font-family="&quot;Liberation Sans&quot;, Arial, sans-serif" font-size="53.50" textLength="70.37" lengthAdjust="spacingAndGlyphs" style="font-kerning:none">3/2</text>
<text x="1848.44" y="334.60" font-family="&quot;Liberation Sans&quot;, Arial, sans-serif" font-size="133.40" textLength="71.46" lengthAdjust="spacingAndGlyphs" style="font-kerning:none">a</text>
<text x="1855.13" y="754.60" font-family="&quot;Liberation Sans&quot;, Arial, sans-serif" font-size="134.80" textLength="76.55" lengthAdjust="spacingAndGlyphs" style="font-kerning:none">b</text>
<text x="1855.68" y="1171.60" font-family="&quot;Liberation Sans&quot;, Arial, sans-serif" font-size="133.40" textLength="73.18" lengthAdjust="spacingAndGlyphs" style="font-kerning:none">c</text>
<text x="634.99" y="619.80" font-family="&quot;Liberation Sans&quot;, Arial, sans-serif" font-size="88.40" textLength="81.85" lengthAdjust="spacingAndGlyphs" style="font-kerning:none">Ni</text>
<text x="715.51" y="572.70" font-family="&quot;Liberation Sans&quot;, Arial, sans-serif" font-size="52.60" textLength="131.94" lengthAdjust="spacingAndGlyphs" style="font-kerning:none">2+,3+</text>
<text x="1413.77" y="573.70" font-family="&quot;Liberation Sans&quot;, Arial, sans-serif" font-size="88.40" textLength="82.09" lengthAdjust="spacingAndGlyphs" style="font-kerning:none">Ni</text>
<text x="1494.39" y="525.90" font-family="&quot;Liberation Sans&quot;, Arial, sans-serif" font-size="52.80" textLength="59.06" lengthAdjust="spacingAndGlyphs" style="font-kerning:none">2+</text>
<text x="1374.67" y="685.80" font-family="&quot;Liberation Sans&quot;, Arial, sans-serif" font-size="88.40" textLength="83.28" lengthAdjust="spacingAndGlyphs" style="font-kerning:none">Ni</text>
<text x="1457.09" y="637.00" font-family="&quot;Liberation Sans&quot;, Arial, sans-serif" font-size="52.30" textLength="57.29" lengthAdjust="spacingAndGlyphs" style="font-kerning:none">3+</text>
<text x="1786.88" y="610.80" font-family="&quot;Liberation Sans&quot;, Arial, sans-serif" font-size="88.40" textLength="81.97" lengthAdjust="spacingAndGlyphs" style="font-kerning:none">Ni</text>
<text x="144.37" y="1500.60" font-family="&quot;Liberation Sans&quot;, Arial, sans-serif" font-weight="bold" font-size="72.00" textLength="111.88" lengthAdjust="spacingAndGlyphs" style="font-kerning:none">890</text>
<text x="545.87" y="1500.60" font-family="&quot;Liberation Sans&quot;, Arial, sans-serif" font-weight="bold" font-size="72.00" textLength="111.88" lengthAdjust="spacingAndGlyphs" style="font-kerning:none">880</text>
<text x="947.37" y="1500.60" font-family="&quot;Liberation Sans&quot;, Arial, sans-serif" font-weight="bold" font-size="72.00" textLength="111.88" lengthAdjust="spacingAndGlyphs" style="font-kerning:none">870</text>
<text x="1349.37" y="1500.60" font-family="&quot;Liberation Sans&quot;, Arial, sans-serif" font-weight="bold" font-size="72.00" textLength="111.88" lengthAdjust="spacingAndGlyphs" style="font-kerning:none">860</text>
<text x="1751.37" y="1500.60" font-family="&quot;Liberation Sans&quot;, Arial, sans-serif" font-weight="bold" font-size="72.00" textLength="111.88" lengthAdjust="spacingAndGlyphs" style="font-kerning:none">850</text>
<text x="710.27" y="1602.70" font-family="&quot;Liberation Serif&quot;, &quot;Times New Roman&quot;, serif" font-size="89.00" textLength="305.64" lengthAdjust="spacingAndGlyphs" style="font-kerning:none">Binding</text>
<text x="1038.19" y="1602.70" font-family="&quot;Liberation Serif&quot;, &quot;Times New Roman&quot;, serif" font-size="89.00" textLength="271.98" lengthAdjust="spacingAndGlyphs" style="font-kerning:none">Energy</text>
<text x="1334.10" y="1602.70" font-family="&quot;Liberation Serif&quot;, &quot;Times New Roman&quot;, serif" font-size="89.00" textLength="158.50" lengthAdjust="spacingAndGlyphs" style="font-kerning:none">(eV)</text>
<line x1="724.2" y1="608.0" x2="816.0" y2="634.5" stroke="#000" stroke-width="3" shape-rendering="crispEdges"/>
<polygon points="848.5,644.5 816.0,625.5 812.5,643.5" fill="#000" stroke="#000" stroke-width="1" stroke-linejoin="miter"/>
<line x1="1506.4" y1="544.4" x2="1607.0" y2="625.0" stroke="#000" stroke-width="3" shape-rendering="crispEdges"/>
<polygon points="1631.5,646.0 1611.4,617.5 1600.5,631.0" fill="#000" stroke="#000" stroke-width="1" stroke-linejoin="miter"/>
<line x1="1465.6" y1="660.6" x2="1541.0" y2="729.0" stroke="#000" stroke-width="3" shape-rendering="crispEdges"/>
<polygon points="1566.5,752.0 1545.5,721.5 1534.5,734.0" fill="#000" stroke="#000" stroke-width="1" stroke-linejoin="miter"/>
<line x1="1792.3" y1="611.7" x2="1717.0" y2="674.0" stroke="#000" stroke-width="3" shape-rendering="crispEdges"/>
<polygon points="1691.0,695.5 1712.0,666.5 1724.5,680.5" fill="#000" stroke="#000" stroke-width="1" stroke-linejoin="miter"/>
<text transform="rotate(-90)" x="-1035.34" y="98.00" font-family="&quot;Liberation Serif&quot;, &quot;Times New Roman&quot;, serif" font-size="90.00" textLength="332.71" lengthAdjust="spacingAndGlyphs" style="font-kerning:none">Intensity</text>
<text transform="rotate(-90)" x="-678.00" y="98.00" font-family="&quot;Liberation Serif&quot;, &quot;Times New Roman&quot;, serif" font-size="90.00" textLength="192.10" lengthAdjust="spacingAndGlyphs" style="font-kerning:none">(a.u.)</text>
</svg>
</body></html>
